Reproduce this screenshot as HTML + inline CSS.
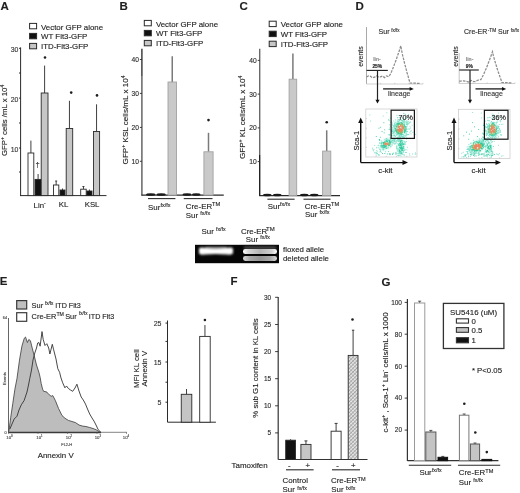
<!DOCTYPE html>
<html><head><meta charset="utf-8"><style>
html,body{margin:0;padding:0;background:#fff;overflow:hidden;}
svg{display:block;font-family:"Liberation Sans", sans-serif;filter:blur(0.3px);}
text{stroke-width:0.22px;stroke-opacity:0.55;}
</style></head><body>
<svg width="520" height="493" viewBox="0 0 520 493">
<rect width="520" height="493" fill="#fff"/>
<text x="0.5" y="10.3" font-size="11.5" text-anchor="start" font-weight="bold" fill="#1e1e1e" stroke="#1e1e1e" >A</text>
<rect x="29.6" y="23.4" width="7" height="5.4" fill="#fff" stroke="#2a2a2a" stroke-width="1" />
<rect x="29.6" y="33.4" width="7" height="5.4" fill="#111" stroke="#2a2a2a" stroke-width="1" />
<rect x="29.6" y="43.4" width="7" height="5.4" fill="#c6c6c6" stroke="#2a2a2a" stroke-width="1" />
<text x="41.0" y="29.9" font-size="7.9" text-anchor="start" font-weight="normal" fill="#1e1e1e" stroke="#1e1e1e" >Vector GFP alone</text>
<text x="41.0" y="39.3" font-size="7.9" text-anchor="start" font-weight="normal" fill="#1e1e1e" stroke="#1e1e1e" >WT Flt3-GFP</text>
<text x="41.0" y="48.7" font-size="7.9" text-anchor="start" font-weight="normal" fill="#1e1e1e" stroke="#1e1e1e" >ITD-Flt3-GFP</text>
<line x1="20.6" y1="47.4" x2="20.6" y2="196" stroke="#2a2a2a" stroke-width="1" />
<line x1="19" y1="48.3" x2="20.6" y2="48.3" stroke="#2a2a2a" stroke-width="1" />
<text x="18.3" y="52.0" font-size="6.9" text-anchor="end" font-weight="normal" fill="#333" stroke="#333" >30</text>
<line x1="19" y1="98.1" x2="20.6" y2="98.1" stroke="#2a2a2a" stroke-width="1" />
<text x="18.3" y="101.8" font-size="6.9" text-anchor="end" font-weight="normal" fill="#333" stroke="#333" >20</text>
<line x1="19" y1="148" x2="20.6" y2="148" stroke="#2a2a2a" stroke-width="1" />
<text x="18.3" y="151.7" font-size="6.9" text-anchor="end" font-weight="normal" fill="#333" stroke="#333" >10</text>
<line x1="19" y1="73" x2="20.6" y2="73" stroke="#2a2a2a" stroke-width="1" />
<line x1="19" y1="123" x2="20.6" y2="123" stroke="#2a2a2a" stroke-width="1" />
<line x1="19" y1="172" x2="20.6" y2="172" stroke="#2a2a2a" stroke-width="1" />
<line x1="20" y1="195.6" x2="106.5" y2="195.6" stroke="#2a2a2a" stroke-width="1" />
<line x1="30.9" y1="140.6" x2="30.9" y2="153" stroke="#2a2a2a" stroke-width="0.9" />
<rect x="28" y="153" width="5.799999999999997" height="42.599999999999994" fill="#fff" stroke="#2a2a2a" stroke-width="0.9" />
<line x1="38.1" y1="174" x2="38.1" y2="179.4" stroke="#2a2a2a" stroke-width="0.9" />
<rect x="35" y="179.4" width="6.200000000000003" height="16.19999999999999" fill="#111" stroke="#2a2a2a" stroke-width="0.9" />
<line x1="44.6" y1="65.6" x2="44.6" y2="93" stroke="#2a2a2a" stroke-width="0.9" />
<rect x="41.2" y="93" width="6.799999999999997" height="102.6" fill="#c6c6c6" stroke="#2a2a2a" stroke-width="0.9" />
<circle cx="45" cy="57.5" r="1.3" fill="#1e1e1e"/>
<text x="37.6" y="166.5" font-size="7.5" text-anchor="middle" font-weight="normal" fill="#1e1e1e" stroke="#1e1e1e" >†</text>
<line x1="56.15" y1="181" x2="56.15" y2="185" stroke="#2a2a2a" stroke-width="0.9" />
<line x1="55.15" y1="181" x2="57.15" y2="181" stroke="#2a2a2a" stroke-width="0.9" />
<rect x="53.5" y="185" width="5.299999999999997" height="10.599999999999994" fill="#fff" stroke="#2a2a2a" stroke-width="0.9" />
<line x1="62.5" y1="188.5" x2="62.5" y2="190" stroke="#2a2a2a" stroke-width="0.9" />
<rect x="60" y="190" width="5" height="5.599999999999994" fill="#111" stroke="#2a2a2a" stroke-width="0.9" />
<line x1="69.45" y1="100.8" x2="69.45" y2="128.5" stroke="#2a2a2a" stroke-width="0.9" />
<rect x="66.2" y="128.5" width="6.5" height="67.1" fill="#c6c6c6" stroke="#2a2a2a" stroke-width="0.9" />
<circle cx="71.2" cy="92.6" r="1.3" fill="#1e1e1e"/>
<line x1="83.45" y1="186.5" x2="83.45" y2="189.2" stroke="#2a2a2a" stroke-width="0.9" />
<line x1="82.45" y1="186.5" x2="84.45" y2="186.5" stroke="#2a2a2a" stroke-width="0.9" />
<rect x="80.7" y="189.2" width="5.5" height="6.400000000000006" fill="#fff" stroke="#2a2a2a" stroke-width="0.9" />
<line x1="89.4" y1="189.5" x2="89.4" y2="191" stroke="#2a2a2a" stroke-width="0.9" />
<rect x="86.8" y="191" width="5.200000000000003" height="4.599999999999994" fill="#111" stroke="#2a2a2a" stroke-width="0.9" />
<line x1="96.55" y1="104.3" x2="96.55" y2="131.5" stroke="#2a2a2a" stroke-width="0.9" />
<rect x="93.5" y="131.5" width="6.099999999999994" height="64.1" fill="#c6c6c6" stroke="#2a2a2a" stroke-width="0.9" />
<circle cx="97" cy="95.4" r="1.3" fill="#1e1e1e"/>
<text x="33.6" y="207.6" font-size="7.8" text-anchor="start" font-weight="normal" fill="#1e1e1e" stroke="#1e1e1e" >Lin<tspan font-size="5" baseline-shift="3">-</tspan></text>
<text x="58.8" y="207.4" font-size="7.8" text-anchor="start" font-weight="normal" fill="#1e1e1e" stroke="#1e1e1e" >KL</text>
<text x="84.7" y="207.4" font-size="7.8" text-anchor="start" font-weight="normal" fill="#1e1e1e" stroke="#1e1e1e" >KSL</text>
<text x="7.2" y="120.4" font-size="7.8" text-anchor="middle" fill="#1e1e1e" stroke="#1e1e1e" transform="rotate(-90 7.2 120.4)">GFP<tspan font-size="5" baseline-shift="3">+</tspan> cells /mL x 10<tspan font-size="5" baseline-shift="3">4</tspan></text>
<text x="119.5" y="10.3" font-size="11.5" text-anchor="start" font-weight="bold" fill="#1e1e1e" stroke="#1e1e1e" >B</text>
<rect x="144.3" y="20.4" width="7" height="5.4" fill="#fff" stroke="#2a2a2a" stroke-width="1" />
<rect x="144.3" y="30.4" width="7" height="5.4" fill="#111" stroke="#2a2a2a" stroke-width="1" />
<rect x="144.3" y="40.4" width="7" height="5.4" fill="#c6c6c6" stroke="#2a2a2a" stroke-width="1" />
<text x="155.9" y="26.8" font-size="7.9" text-anchor="start" font-weight="normal" fill="#1e1e1e" stroke="#1e1e1e" >Vector GFP alone</text>
<text x="155.9" y="36.4" font-size="7.9" text-anchor="start" font-weight="normal" fill="#1e1e1e" stroke="#1e1e1e" >WT Flt3-GFP</text>
<text x="155.9" y="46.0" font-size="7.9" text-anchor="start" font-weight="normal" fill="#1e1e1e" stroke="#1e1e1e" >ITD-Flt3-GFP</text>
<line x1="141.9" y1="48.8" x2="141.9" y2="76" stroke="#333" stroke-width="1.4" />
<line x1="141.9" y1="76" x2="141.9" y2="195.6" stroke="#5a5a5a" stroke-width="1.4" />
<line x1="139.9" y1="59.5" x2="141.9" y2="59.5" stroke="#2a2a2a" stroke-width="0.9" />
<text x="138.9" y="61.9" font-size="6.7" text-anchor="end" font-weight="normal" fill="#2a2a2a" stroke="#2a2a2a" >40</text>
<line x1="139.9" y1="93.4" x2="141.9" y2="93.4" stroke="#2a2a2a" stroke-width="0.9" />
<text x="138.9" y="95.80000000000001" font-size="6.7" text-anchor="end" font-weight="normal" fill="#2a2a2a" stroke="#2a2a2a" >30</text>
<line x1="139.9" y1="127.4" x2="141.9" y2="127.4" stroke="#2a2a2a" stroke-width="0.9" />
<text x="138.9" y="129.8" font-size="6.7" text-anchor="end" font-weight="normal" fill="#2a2a2a" stroke="#2a2a2a" >20</text>
<line x1="139.9" y1="161.3" x2="141.9" y2="161.3" stroke="#2a2a2a" stroke-width="0.9" />
<text x="138.9" y="163.70000000000002" font-size="6.7" text-anchor="end" font-weight="normal" fill="#2a2a2a" stroke="#2a2a2a" >10</text>
<line x1="141.4" y1="195.1" x2="223.75" y2="195.1" stroke="#2a2a2a" stroke-width="1.2" />
<line x1="172.25" y1="56.25" x2="172.25" y2="82" stroke="#7a7a7a" stroke-width="1.5" />
<rect x="168" y="82" width="8.5" height="113.1" fill="#c9c9c9" stroke="#a2a2a2" stroke-width="0.9" />
<line x1="208.5" y1="132.8" x2="208.5" y2="151.8" stroke="#7a7a7a" stroke-width="1.5" />
<rect x="203.9" y="151.8" width="9.199999999999989" height="43.29999999999998" fill="#c9c9c9" stroke="#a2a2a2" stroke-width="0.9" />
<circle cx="208.5" cy="120.1" r="1.3" fill="#1e1e1e"/>
<ellipse cx="150.7" cy="194.5" rx="4.700000000000003" ry="1.3" fill="#1a1a1a"/>
<ellipse cx="161.15" cy="194.5" rx="4.650000000000006" ry="1.3" fill="#1a1a1a"/>
<ellipse cx="187.0" cy="194.5" rx="4.5" ry="1.3" fill="#1a1a1a"/>
<ellipse cx="196.25" cy="194.5" rx="4.25" ry="1.3" fill="#1a1a1a"/>
<line x1="148" y1="198.6" x2="175.4" y2="198.6" stroke="#2a2a2a" stroke-width="1.1" />
<line x1="183.75" y1="198.6" x2="212.5" y2="198.6" stroke="#2a2a2a" stroke-width="1.1" />
<text x="148.1" y="209.5" font-size="7.9" text-anchor="start" font-weight="normal" fill="#1e1e1e" stroke="#1e1e1e" >Sur<tspan font-size="5.5" baseline-shift="3.4">fx/fx</tspan></text>
<text x="185.8" y="209" font-size="7.9" text-anchor="start" font-weight="normal" fill="#1e1e1e" stroke="#1e1e1e" >Cre-ER<tspan font-size="5.7" baseline-shift="3">TM</tspan></text>
<text x="185.8" y="217.7" font-size="7.9" text-anchor="start" font-weight="normal" fill="#1e1e1e" stroke="#1e1e1e" >Sur <tspan font-size="5.5" baseline-shift="3.4">fx/fx</tspan></text>
<text x="128.1" y="119.9" font-size="8.1" text-anchor="middle" fill="#1e1e1e" stroke="#1e1e1e" transform="rotate(-90 128.1 119.9)">GFP<tspan font-size="5.2" baseline-shift="3">+</tspan> KSL cells/mL x 10<tspan font-size="5.2" baseline-shift="3">4</tspan></text>
<text x="239.5" y="10.3" font-size="11.5" text-anchor="start" font-weight="bold" fill="#1e1e1e" stroke="#1e1e1e" >C</text>
<rect x="269.2" y="21.2" width="7" height="5.4" fill="#fff" stroke="#2a2a2a" stroke-width="1" />
<rect x="269.2" y="31.2" width="7" height="5.4" fill="#111" stroke="#2a2a2a" stroke-width="1" />
<rect x="269.2" y="41.2" width="7" height="5.4" fill="#c6c6c6" stroke="#2a2a2a" stroke-width="1" />
<text x="280.8" y="27.3" font-size="7.9" text-anchor="start" font-weight="normal" fill="#1e1e1e" stroke="#1e1e1e" >Vector GFP alone</text>
<text x="280.8" y="36.9" font-size="7.9" text-anchor="start" font-weight="normal" fill="#1e1e1e" stroke="#1e1e1e" >WT Flt3-GFP</text>
<text x="280.8" y="46.5" font-size="7.9" text-anchor="start" font-weight="normal" fill="#1e1e1e" stroke="#1e1e1e" >ITD-Flt3-GFP</text>
<line x1="259.7" y1="48.8" x2="259.7" y2="155" stroke="#6a6a6a" stroke-width="1.4" />
<line x1="259.7" y1="155" x2="259.7" y2="196.1" stroke="#222" stroke-width="1.4" />
<line x1="257.7" y1="60.4" x2="259.7" y2="60.4" stroke="#2a2a2a" stroke-width="0.9" />
<text x="256.7" y="62.8" font-size="6.7" text-anchor="end" font-weight="normal" fill="#2a2a2a" stroke="#2a2a2a" >40</text>
<line x1="257.7" y1="94.1" x2="259.7" y2="94.1" stroke="#2a2a2a" stroke-width="0.9" />
<text x="256.7" y="96.5" font-size="6.7" text-anchor="end" font-weight="normal" fill="#2a2a2a" stroke="#2a2a2a" >30</text>
<line x1="257.7" y1="127.9" x2="259.7" y2="127.9" stroke="#2a2a2a" stroke-width="0.9" />
<text x="256.7" y="130.3" font-size="6.7" text-anchor="end" font-weight="normal" fill="#2a2a2a" stroke="#2a2a2a" >20</text>
<line x1="257.7" y1="161.6" x2="259.7" y2="161.6" stroke="#2a2a2a" stroke-width="0.9" />
<text x="256.7" y="164.0" font-size="6.7" text-anchor="end" font-weight="normal" fill="#2a2a2a" stroke="#2a2a2a" >10</text>
<line x1="259.2" y1="195.6" x2="340" y2="195.6" stroke="#2a2a2a" stroke-width="1.2" />
<line x1="292.9" y1="53.4" x2="292.9" y2="79.2" stroke="#7a7a7a" stroke-width="1.5" />
<rect x="289.1" y="79.2" width="7.599999999999966" height="116.39999999999999" fill="#c9c9c9" stroke="#a2a2a2" stroke-width="0.9" />
<line x1="326.70000000000005" y1="130.3" x2="326.70000000000005" y2="151.1" stroke="#7a7a7a" stroke-width="1.5" />
<rect x="322.6" y="151.1" width="8.199999999999989" height="44.5" fill="#c9c9c9" stroke="#a2a2a2" stroke-width="0.9" />
<circle cx="326.70000000000005" cy="122.2" r="1.3" fill="#1e1e1e"/>
<ellipse cx="267.25" cy="195.0" rx="4.25" ry="1.3" fill="#1a1a1a"/>
<ellipse cx="277.25" cy="195.0" rx="4.25" ry="1.3" fill="#1a1a1a"/>
<ellipse cx="304.25" cy="195.0" rx="4.25" ry="1.3" fill="#1a1a1a"/>
<ellipse cx="314.25" cy="195.0" rx="4.25" ry="1.3" fill="#1a1a1a"/>
<line x1="267.4" y1="199.2" x2="294.6" y2="199.2" stroke="#2a2a2a" stroke-width="1.1" />
<line x1="303.5" y1="199.2" x2="330.5" y2="199.2" stroke="#2a2a2a" stroke-width="1.1" />
<text x="267.8" y="209.1" font-size="7.9" text-anchor="start" font-weight="normal" fill="#1e1e1e" stroke="#1e1e1e" >Sur<tspan font-size="5.5" baseline-shift="3.4">fx/fx</tspan></text>
<text x="304.8" y="208.5" font-size="7.9" text-anchor="start" font-weight="normal" fill="#1e1e1e" stroke="#1e1e1e" >Cre-ER<tspan font-size="5.7" baseline-shift="3">TM</tspan></text>
<text x="305" y="217.2" font-size="7.9" text-anchor="start" font-weight="normal" fill="#1e1e1e" stroke="#1e1e1e" >Sur <tspan font-size="5.5" baseline-shift="3.4">fx/fx</tspan></text>
<text x="244.8" y="117.3" font-size="8.1" text-anchor="middle" fill="#1e1e1e" stroke="#1e1e1e" transform="rotate(-90 244.8 117.3)">GFP<tspan font-size="5.2" baseline-shift="3">+</tspan> KL cells/mL x 10<tspan font-size="5.2" baseline-shift="3">4</tspan></text>
<text x="201.5" y="233.7" font-size="7.9" text-anchor="start" font-weight="normal" fill="#1e1e1e" stroke="#1e1e1e" >Sur</text>
<text x="216" y="230.6" font-size="5.3" text-anchor="start" font-weight="normal" fill="#1e1e1e" stroke="#1e1e1e" >fx/fx</text>
<text x="241" y="233.7" font-size="7.9" text-anchor="start" font-weight="normal" fill="#1e1e1e" stroke="#1e1e1e" >Cre-ER</text>
<text x="266" y="231" font-size="6" text-anchor="start" font-weight="normal" fill="#1e1e1e" stroke="#1e1e1e" >TM</text>
<text x="245.8" y="242.3" font-size="7.9" text-anchor="start" font-weight="normal" fill="#1e1e1e" stroke="#1e1e1e" >Sur</text>
<text x="260.3" y="239.2" font-size="5.3" text-anchor="start" font-weight="normal" fill="#1e1e1e" stroke="#1e1e1e" >fx/fx</text>
<defs><filter id="bl" x="-20%" y="-50%" width="140%" height="200%"><feGaussianBlur stdDeviation="0.9"/></filter><filter id="bl2" x="-20%" y="-50%" width="140%" height="200%"><feGaussianBlur stdDeviation="0.6"/></filter></defs>
<rect x="195" y="244.8" width="84" height="18.4" fill="#060606" stroke="none" stroke-width="1" />
<defs><linearGradient id="g2" x1="0" x2="1" y1="0" y2="0"><stop offset="0" stop-color="#ffffff"/><stop offset="0.15" stop-color="#d8d8d8"/><stop offset="0.5" stop-color="#b4b4b4"/><stop offset="0.85" stop-color="#d0d0d0"/><stop offset="1" stop-color="#ffffff"/></linearGradient><linearGradient id="g3" x1="0" x2="1" y1="0" y2="0"><stop offset="0" stop-color="#d8d8d8"/><stop offset="0.2" stop-color="#a8a8a8"/><stop offset="0.5" stop-color="#949494"/><stop offset="0.8" stop-color="#a8a8a8"/><stop offset="1" stop-color="#d8d8d8"/></linearGradient></defs>
<rect x="205" y="246.8" width="22" height="3" rx="1.5" fill="#777" filter="url(#bl)"/>
<path d="M199,248.3 Q201,247 204,247.8 Q215,249 228,247.8 Q231.5,247 233,248.4 L233,253.6 Q231,255.2 228,254.5 Q215,253.4 204,254.5 Q200.5,255.2 199,253.6 Z" fill="#ffffff" filter="url(#bl)"/>
<rect x="243.5" y="246.3" width="33" height="3" rx="1.5" fill="#444" filter="url(#bl)"/>
<rect x="243" y="248.9" width="34" height="5.1" rx="2.3" fill="url(#g2)" filter="url(#bl2)"/>
<rect x="243" y="256" width="34" height="4.9" rx="2.3" fill="url(#g3)" filter="url(#bl2)"/>
<text x="283" y="252.2" font-size="7.8" text-anchor="start" font-weight="normal" fill="#1e1e1e" stroke="#1e1e1e" >floxed allele</text>
<text x="283" y="260.8" font-size="7.8" text-anchor="start" font-weight="normal" fill="#1e1e1e" stroke="#1e1e1e" >deleted allele</text>
<text x="355.6" y="9.5" font-size="11.5" text-anchor="start" font-weight="bold" fill="#1e1e1e" stroke="#1e1e1e" >D</text>
<line x1="366.5" y1="27" x2="366.5" y2="84" stroke="#a0a0a0" stroke-width="0.9" />
<line x1="366.5" y1="84" x2="423" y2="84" stroke="#c4c4c4" stroke-width="0.8" />
<line x1="366.5" y1="84" x2="366.5" y2="82.8" stroke="#b8b8b8" stroke-width="0.6" />
<line x1="380.625" y1="84" x2="380.625" y2="82.8" stroke="#b8b8b8" stroke-width="0.6" />
<line x1="394.75" y1="84" x2="394.75" y2="82.8" stroke="#b8b8b8" stroke-width="0.6" />
<line x1="408.875" y1="84" x2="408.875" y2="82.8" stroke="#b8b8b8" stroke-width="0.6" />
<line x1="423.0" y1="84" x2="423.0" y2="82.8" stroke="#b8b8b8" stroke-width="0.6" />
<path d="M366.5,77.0 L368.5,75.9 L370.5,76.3 L372.5,77.8 L374.5,77.2 L376.5,75.9 L378.5,76.8 L380.5,76.9 L382.5,76.1 L384.5,77.6 L386.5,76.0 L388.5,76.7 L389.5,75.6 L390.6,73.7 L391.6,71.5 L392.6,69.1 L393.6,66.6 L394.6,63.9 L395.7,61.1 L396.7,58.2 L397.7,55.2 L398.8,52.2 L399.8,49.0 L400.8,45.8 L401.6,50.3 L402.3,53.9 L403.1,57.2 L403.9,60.4 L404.6,63.5 L405.4,66.4 L406.2,69.3 L406.9,72.2 L407.7,74.9 L408.5,77.7 L409.2,80.3 L410.0,83.0 L420.0,83.4" fill="none" stroke="#8c8c8c" stroke-width="1.25" stroke-dasharray="2.6,1.1"/>
<line x1="366.5" y1="70.4" x2="387.8" y2="70.4" stroke="#1a1a1a" stroke-width="1.1" />
<line x1="377.5" y1="70.4" x2="377.5" y2="100.5" stroke="#222" stroke-width="1.2" />
<path d="M375.4,99.8 L379.6,99.8 L377.5,103.6 Z" fill="#111"/>
<text x="373.2" y="61.2" font-size="5.0" text-anchor="start" font-weight="bold" fill="#8a8a8a" stroke="#8a8a8a" >lin-</text>
<text x="372.4" y="68.1" font-size="4.9" text-anchor="start" font-weight="bold" fill="#1a1a1a" stroke="#1a1a1a" >25%</text>
<text x="363.3" y="56.5" font-size="7.0" text-anchor="middle" fill="#2a2a2a" stroke="#2a2a2a" transform="rotate(-90 363.3 56.5)">events</text>
<line x1="383.1" y1="88.9" x2="410.1" y2="88.9" stroke="#1a1a1a" stroke-width="1.3" />
<path d="M409.6,87 L413.8,88.9 L409.6,90.8 Z" fill="#111"/>
<text x="387.90000000000003" y="95.8" font-size="7.0" text-anchor="start" font-weight="normal" fill="#3a3a3a" stroke="#3a3a3a" >lineage</text>
<line x1="459.2" y1="53" x2="459.2" y2="83.5" stroke="#c0c0c0" stroke-width="0.9" />
<line x1="459.2" y1="83.5" x2="515" y2="83.5" stroke="#c4c4c4" stroke-width="0.8" />
<line x1="459.2" y1="83.5" x2="459.2" y2="82.3" stroke="#b8b8b8" stroke-width="0.6" />
<line x1="473.15" y1="83.5" x2="473.15" y2="82.3" stroke="#b8b8b8" stroke-width="0.6" />
<line x1="487.1" y1="83.5" x2="487.1" y2="82.3" stroke="#b8b8b8" stroke-width="0.6" />
<line x1="501.05" y1="83.5" x2="501.05" y2="82.3" stroke="#b8b8b8" stroke-width="0.6" />
<line x1="515.0" y1="83.5" x2="515.0" y2="82.3" stroke="#b8b8b8" stroke-width="0.6" />
<path d="M459.2,81.0 L461.2,81.0 L463.2,80.8 L465.2,81.2 L467.2,81.6 L469.2,82.2 L471.2,80.4 L473.2,81.4 L475.2,81.5 L477.2,80.5 L479.2,79.7 L480.8,79.7 L481.8,77.9 L482.9,75.8 L484.0,73.6 L485.0,71.2 L486.1,68.7 L487.2,66.1 L488.2,63.3 L489.3,60.5 L490.4,57.7 L491.4,54.7 L492.5,51.7 L493.3,55.4 L494.1,58.4 L494.9,61.2 L495.7,63.8 L496.5,66.3 L497.2,68.8 L498.0,71.2 L498.8,73.5 L499.6,75.8 L500.4,78.1 L501.2,80.3 L502.0,82.5 L512.0,82.9" fill="none" stroke="#8c8c8c" stroke-width="1.25" stroke-dasharray="2.6,1.1"/>
<line x1="459.2" y1="70" x2="478.8" y2="70" stroke="#1a1a1a" stroke-width="1.1" />
<line x1="470" y1="70" x2="470" y2="100.5" stroke="#222" stroke-width="1.2" />
<path d="M467.9,99.8 L472.1,99.8 L470,103.6 Z" fill="#111"/>
<text x="465.8" y="61.2" font-size="5.0" text-anchor="start" font-weight="bold" fill="#8a8a8a" stroke="#8a8a8a" >lin-</text>
<text x="465.8" y="68.1" font-size="4.9" text-anchor="start" font-weight="bold" fill="#1a1a1a" stroke="#1a1a1a" >9%</text>
<text x="457.5" y="56.5" font-size="7.0" text-anchor="middle" fill="#2a2a2a" stroke="#2a2a2a" transform="rotate(-90 457.5 56.5)">events</text>
<line x1="475.5" y1="88.9" x2="502.5" y2="88.9" stroke="#1a1a1a" stroke-width="1.3" />
<path d="M502.0,87 L506.2,88.9 L502.0,90.8 Z" fill="#111"/>
<text x="480.3" y="95.8" font-size="7.0" text-anchor="start" font-weight="normal" fill="#3a3a3a" stroke="#3a3a3a" >lineage</text>
<text x="378.5" y="33.9" font-size="7.1" text-anchor="start" font-weight="normal" fill="#2a2a2a" stroke="#2a2a2a" >Sur</text>
<text x="391.2" y="31.6" font-size="4.6" text-anchor="start" font-weight="normal" fill="#2a2a2a" stroke="#2a2a2a" >fx/fx</text>
<text x="464" y="34.1" font-size="7.0" text-anchor="start" font-weight="normal" fill="#2a2a2a" stroke="#2a2a2a" >Cre-ER</text>
<text x="487.7" y="31.8" font-size="4.8" text-anchor="start" font-weight="normal" fill="#2a2a2a" stroke="#2a2a2a" >-TM</text>
<text x="498" y="34.1" font-size="7.0" text-anchor="start" font-weight="normal" fill="#2a2a2a" stroke="#2a2a2a" >Sur</text>
<text x="510.7" y="31.6" font-size="4.6" text-anchor="start" font-weight="normal" fill="#2a2a2a" stroke="#2a2a2a" >fx/fx</text>
<rect x="365.8" y="109" width="51.19999999999999" height="48" fill="#fff" stroke="#cfcfcf" stroke-width="0.8" />
<line x1="376.04" y1="157" x2="376.04" y2="155.8" stroke="#bbb" stroke-width="0.6" />
<line x1="365.8" y1="147.4" x2="367.0" y2="147.4" stroke="#bbb" stroke-width="0.6" />
<line x1="386.28000000000003" y1="157" x2="386.28000000000003" y2="155.8" stroke="#bbb" stroke-width="0.6" />
<line x1="365.8" y1="137.8" x2="367.0" y2="137.8" stroke="#bbb" stroke-width="0.6" />
<line x1="396.52" y1="157" x2="396.52" y2="155.8" stroke="#bbb" stroke-width="0.6" />
<line x1="365.8" y1="128.2" x2="367.0" y2="128.2" stroke="#bbb" stroke-width="0.6" />
<line x1="406.76" y1="157" x2="406.76" y2="155.8" stroke="#bbb" stroke-width="0.6" />
<line x1="365.8" y1="118.6" x2="367.0" y2="118.6" stroke="#bbb" stroke-width="0.6" />
<ellipse cx="400.5" cy="128.5" rx="6.3" ry="7.699999999999999" fill="#8fe4cc" opacity="0.4" filter="url(#bl)" transform="rotate(0 400.5 128.5)"/>
<ellipse cx="386.5" cy="144" rx="7.699999999999999" ry="5.04" fill="#8fe4cc" opacity="0.4" filter="url(#bl)" transform="rotate(-45 386.5 144)"/>
<ellipse cx="401" cy="146.5" rx="3.5" ry="7.699999999999999" fill="#8fe4cc" opacity="0.4" filter="url(#bl)" transform="rotate(0 401 146.5)"/>
<rect x="405.9" y="129.6" width="0.9" height="0.9" fill="#78dcc6"/>
<rect x="396.3" y="134.2" width="0.9" height="0.9" fill="#78dcc6"/>
<rect x="391.1" y="130.2" width="0.9" height="0.9" fill="#78dcc6"/>
<rect x="397.7" y="136.4" width="0.9" height="0.9" fill="#78dcc6"/>
<rect x="398.1" y="132.3" width="0.9" height="0.9" fill="#2cc89c"/>
<rect x="394.6" y="121.8" width="0.9" height="0.9" fill="#78dcc6"/>
<rect x="399.0" y="116.8" width="0.9" height="0.9" fill="#78dcc6"/>
<rect x="395.5" y="124.3" width="0.9" height="0.9" fill="#78dcc6"/>
<rect x="402.1" y="120.0" width="0.9" height="0.9" fill="#78dcc6"/>
<rect x="397.9" y="132.7" width="0.9" height="0.9" fill="#2cc89c"/>
<rect x="402.7" y="124.4" width="0.9" height="0.9" fill="#2cc89c"/>
<rect x="403.9" y="132.0" width="0.9" height="0.9" fill="#2cc89c"/>
<rect x="393.1" y="132.7" width="0.9" height="0.9" fill="#78dcc6"/>
<rect x="397.3" y="123.6" width="0.9" height="0.9" fill="#2cc89c"/>
<rect x="402.8" y="118.8" width="0.9" height="0.9" fill="#78dcc6"/>
<rect x="396.2" y="130.2" width="0.9" height="0.9" fill="#2cc89c"/>
<rect x="401.8" y="136.4" width="0.9" height="0.9" fill="#78dcc6"/>
<rect x="393.1" y="131.9" width="0.9" height="0.9" fill="#78dcc6"/>
<rect x="403.8" y="118.8" width="0.9" height="0.9" fill="#78dcc6"/>
<rect x="395.8" y="129.0" width="0.9" height="0.9" fill="#2cc89c"/>
<rect x="401.3" y="134.5" width="0.9" height="0.9" fill="#78dcc6"/>
<rect x="406.2" y="136.7" width="0.9" height="0.9" fill="#78dcc6"/>
<rect x="405.9" y="120.4" width="0.9" height="0.9" fill="#78dcc6"/>
<rect x="406.8" y="123.9" width="0.9" height="0.9" fill="#78dcc6"/>
<rect x="404.1" y="121.8" width="0.9" height="0.9" fill="#78dcc6"/>
<rect x="391.5" y="133.5" width="0.9" height="0.9" fill="#78dcc6"/>
<rect x="394.8" y="125.1" width="0.9" height="0.9" fill="#78dcc6"/>
<rect x="406.3" y="130.9" width="0.9" height="0.9" fill="#78dcc6"/>
<rect x="389.8" y="137.2" width="0.9" height="0.9" fill="#78dcc6"/>
<rect x="403.8" y="125.7" width="0.9" height="0.9" fill="#2cc89c"/>
<rect x="399.9" y="137.0" width="0.9" height="0.9" fill="#78dcc6"/>
<rect x="394.8" y="125.6" width="0.9" height="0.9" fill="#78dcc6"/>
<rect x="405.9" y="126.6" width="0.9" height="0.9" fill="#78dcc6"/>
<rect x="394.1" y="125.6" width="0.9" height="0.9" fill="#78dcc6"/>
<rect x="400.7" y="135.8" width="0.9" height="0.9" fill="#78dcc6"/>
<rect x="397.7" y="139.5" width="0.9" height="0.9" fill="#78dcc6"/>
<rect x="394.4" y="124.1" width="0.9" height="0.9" fill="#78dcc6"/>
<rect x="409.5" y="137.8" width="0.9" height="0.9" fill="#78dcc6"/>
<rect x="398.3" y="123.0" width="0.9" height="0.9" fill="#2cc89c"/>
<rect x="395.7" y="130.4" width="0.9" height="0.9" fill="#2cc89c"/>
<rect x="404.5" y="130.2" width="0.9" height="0.9" fill="#2cc89c"/>
<rect x="404.0" y="129.1" width="0.9" height="0.9" fill="#2cc89c"/>
<rect x="396.5" y="115.0" width="0.9" height="0.9" fill="#78dcc6"/>
<rect x="396.5" y="131.8" width="0.9" height="0.9" fill="#2cc89c"/>
<rect x="401.9" y="136.0" width="0.9" height="0.9" fill="#78dcc6"/>
<rect x="398.3" y="133.4" width="0.9" height="0.9" fill="#2cc89c"/>
<rect x="397.8" y="123.5" width="0.9" height="0.9" fill="#2cc89c"/>
<rect x="395.8" y="124.3" width="0.9" height="0.9" fill="#2cc89c"/>
<rect x="402.2" y="117.6" width="0.9" height="0.9" fill="#78dcc6"/>
<rect x="404.4" y="130.4" width="0.9" height="0.9" fill="#2cc89c"/>
<rect x="396.5" y="130.5" width="0.9" height="0.9" fill="#2cc89c"/>
<rect x="409.6" y="126.2" width="0.9" height="0.9" fill="#78dcc6"/>
<rect x="407.0" y="134.0" width="0.9" height="0.9" fill="#78dcc6"/>
<rect x="393.8" y="138.7" width="0.9" height="0.9" fill="#78dcc6"/>
<rect x="401.2" y="119.8" width="0.9" height="0.9" fill="#78dcc6"/>
<rect x="405.6" y="121.8" width="0.9" height="0.9" fill="#78dcc6"/>
<rect x="397.8" y="123.2" width="0.9" height="0.9" fill="#2cc89c"/>
<rect x="397.8" y="121.4" width="0.9" height="0.9" fill="#78dcc6"/>
<rect x="398.6" y="135.2" width="0.9" height="0.9" fill="#78dcc6"/>
<rect x="401.6" y="121.7" width="0.9" height="0.9" fill="#78dcc6"/>
<rect x="409.7" y="121.4" width="0.9" height="0.9" fill="#78dcc6"/>
<rect x="404.0" y="120.3" width="0.9" height="0.9" fill="#78dcc6"/>
<rect x="393.1" y="129.5" width="0.9" height="0.9" fill="#78dcc6"/>
<rect x="404.0" y="130.7" width="0.9" height="0.9" fill="#2cc89c"/>
<rect x="399.5" y="133.3" width="0.9" height="0.9" fill="#2cc89c"/>
<rect x="395.2" y="130.5" width="0.9" height="0.9" fill="#2cc89c"/>
<rect x="396.9" y="131.8" width="0.9" height="0.9" fill="#2cc89c"/>
<rect x="403.0" y="122.5" width="0.9" height="0.9" fill="#78dcc6"/>
<rect x="402.1" y="138.2" width="0.9" height="0.9" fill="#78dcc6"/>
<rect x="403.7" y="126.0" width="0.9" height="0.9" fill="#2cc89c"/>
<rect x="389.9" y="126.2" width="0.9" height="0.9" fill="#78dcc6"/>
<rect x="395.4" y="128.0" width="0.9" height="0.9" fill="#2cc89c"/>
<rect x="394.6" y="122.8" width="0.9" height="0.9" fill="#78dcc6"/>
<rect x="397.9" y="118.9" width="0.9" height="0.9" fill="#78dcc6"/>
<rect x="406.2" y="134.2" width="0.9" height="0.9" fill="#78dcc6"/>
<rect x="404.8" y="129.0" width="0.9" height="0.9" fill="#2cc89c"/>
<rect x="392.1" y="124.7" width="0.9" height="0.9" fill="#78dcc6"/>
<rect x="395.6" y="130.3" width="0.9" height="0.9" fill="#2cc89c"/>
<rect x="401.0" y="119.8" width="0.9" height="0.9" fill="#78dcc6"/>
<rect x="406.3" y="135.1" width="0.9" height="0.9" fill="#78dcc6"/>
<rect x="401.9" y="133.9" width="0.9" height="0.9" fill="#2cc89c"/>
<rect x="397.0" y="133.3" width="0.9" height="0.9" fill="#2cc89c"/>
<rect x="407.9" y="134.1" width="0.9" height="0.9" fill="#78dcc6"/>
<rect x="396.4" y="131.8" width="0.9" height="0.9" fill="#2cc89c"/>
<rect x="404.7" y="132.6" width="0.9" height="0.9" fill="#78dcc6"/>
<rect x="392.7" y="135.1" width="0.9" height="0.9" fill="#78dcc6"/>
<rect x="406.8" y="122.8" width="0.9" height="0.9" fill="#78dcc6"/>
<rect x="394.6" y="128.8" width="0.9" height="0.9" fill="#78dcc6"/>
<rect x="399.5" y="117.1" width="0.9" height="0.9" fill="#78dcc6"/>
<rect x="399.2" y="134.6" width="0.9" height="0.9" fill="#78dcc6"/>
<rect x="398.3" y="121.6" width="0.9" height="0.9" fill="#78dcc6"/>
<rect x="399.6" y="136.7" width="0.9" height="0.9" fill="#78dcc6"/>
<rect x="407.8" y="120.9" width="0.9" height="0.9" fill="#78dcc6"/>
<rect x="393.9" y="123.7" width="0.9" height="0.9" fill="#78dcc6"/>
<rect x="394.9" y="127.7" width="0.9" height="0.9" fill="#2cc89c"/>
<rect x="415.2" y="133.9" width="0.9" height="0.9" fill="#78dcc6"/>
<rect x="403.1" y="121.5" width="0.9" height="0.9" fill="#78dcc6"/>
<rect x="397.4" y="117.1" width="0.9" height="0.9" fill="#78dcc6"/>
<rect x="394.9" y="136.2" width="0.9" height="0.9" fill="#78dcc6"/>
<rect x="412.4" y="131.9" width="0.9" height="0.9" fill="#78dcc6"/>
<rect x="397.1" y="123.0" width="0.9" height="0.9" fill="#2cc89c"/>
<rect x="402.2" y="143.6" width="0.9" height="0.9" fill="#78dcc6"/>
<rect x="403.0" y="112.9" width="0.9" height="0.9" fill="#78dcc6"/>
<rect x="403.8" y="123.9" width="0.9" height="0.9" fill="#2cc89c"/>
<rect x="408.6" y="129.1" width="0.9" height="0.9" fill="#78dcc6"/>
<rect x="402.7" y="134.0" width="0.9" height="0.9" fill="#78dcc6"/>
<rect x="405.2" y="131.2" width="0.9" height="0.9" fill="#78dcc6"/>
<rect x="399.3" y="135.1" width="0.9" height="0.9" fill="#78dcc6"/>
<rect x="408.0" y="114.0" width="0.9" height="0.9" fill="#78dcc6"/>
<rect x="400.6" y="134.1" width="0.9" height="0.9" fill="#2cc89c"/>
<rect x="388.9" y="127.6" width="0.9" height="0.9" fill="#78dcc6"/>
<rect x="406.0" y="138.6" width="0.9" height="0.9" fill="#78dcc6"/>
<rect x="393.2" y="134.6" width="0.9" height="0.9" fill="#78dcc6"/>
<rect x="405.3" y="116.7" width="0.9" height="0.9" fill="#78dcc6"/>
<rect x="404.2" y="129.2" width="0.9" height="0.9" fill="#2cc89c"/>
<rect x="403.9" y="120.4" width="0.9" height="0.9" fill="#78dcc6"/>
<rect x="401.3" y="132.7" width="0.9" height="0.9" fill="#2cc89c"/>
<rect x="397.4" y="137.4" width="0.9" height="0.9" fill="#78dcc6"/>
<rect x="400.5" y="133.8" width="0.9" height="0.9" fill="#2cc89c"/>
<rect x="397.5" y="124.2" width="0.9" height="0.9" fill="#2cc89c"/>
<rect x="393.8" y="130.1" width="0.9" height="0.9" fill="#78dcc6"/>
<rect x="387.8" y="134.3" width="0.9" height="0.9" fill="#78dcc6"/>
<rect x="406.3" y="131.6" width="0.9" height="0.9" fill="#78dcc6"/>
<rect x="402.5" y="136.9" width="0.9" height="0.9" fill="#78dcc6"/>
<rect x="401.1" y="135.5" width="0.9" height="0.9" fill="#78dcc6"/>
<rect x="404.5" y="127.5" width="0.9" height="0.9" fill="#2cc89c"/>
<rect x="393.5" y="127.2" width="0.9" height="0.9" fill="#78dcc6"/>
<rect x="394.0" y="126.4" width="0.9" height="0.9" fill="#78dcc6"/>
<rect x="394.6" y="127.7" width="0.9" height="0.9" fill="#78dcc6"/>
<rect x="402.2" y="121.3" width="0.9" height="0.9" fill="#78dcc6"/>
<rect x="393.0" y="125.9" width="0.9" height="0.9" fill="#78dcc6"/>
<rect x="408.4" y="134.3" width="0.9" height="0.9" fill="#78dcc6"/>
<rect x="409.8" y="121.9" width="0.9" height="0.9" fill="#78dcc6"/>
<rect x="394.0" y="125.6" width="0.9" height="0.9" fill="#78dcc6"/>
<rect x="400.5" y="135.6" width="0.9" height="0.9" fill="#78dcc6"/>
<rect x="400.5" y="119.5" width="0.9" height="0.9" fill="#78dcc6"/>
<rect x="391.5" y="131.4" width="0.9" height="0.9" fill="#78dcc6"/>
<rect x="404.6" y="135.1" width="0.9" height="0.9" fill="#78dcc6"/>
<rect x="405.1" y="127.5" width="0.9" height="0.9" fill="#2cc89c"/>
<rect x="399.1" y="137.5" width="0.9" height="0.9" fill="#78dcc6"/>
<rect x="402.4" y="117.8" width="0.9" height="0.9" fill="#78dcc6"/>
<rect x="411.7" y="124.7" width="0.9" height="0.9" fill="#78dcc6"/>
<rect x="389.4" y="124.5" width="0.9" height="0.9" fill="#78dcc6"/>
<rect x="406.2" y="133.5" width="0.9" height="0.9" fill="#78dcc6"/>
<rect x="403.9" y="124.8" width="0.9" height="0.9" fill="#2cc89c"/>
<rect x="392.5" y="130.4" width="0.9" height="0.9" fill="#78dcc6"/>
<rect x="404.7" y="134.5" width="0.9" height="0.9" fill="#78dcc6"/>
<rect x="392.4" y="130.8" width="0.9" height="0.9" fill="#78dcc6"/>
<rect x="404.5" y="129.6" width="0.9" height="0.9" fill="#2cc89c"/>
<rect x="405.9" y="122.3" width="0.9" height="0.9" fill="#78dcc6"/>
<rect x="391.6" y="123.7" width="0.9" height="0.9" fill="#78dcc6"/>
<rect x="396.0" y="126.5" width="0.9" height="0.9" fill="#2cc89c"/>
<rect x="394.6" y="128.6" width="0.9" height="0.9" fill="#78dcc6"/>
<rect x="395.5" y="133.0" width="0.9" height="0.9" fill="#78dcc6"/>
<rect x="405.6" y="127.5" width="0.9" height="0.9" fill="#78dcc6"/>
<rect x="406.6" y="122.5" width="0.9" height="0.9" fill="#78dcc6"/>
<rect x="395.3" y="128.3" width="0.9" height="0.9" fill="#2cc89c"/>
<rect x="397.8" y="121.7" width="0.9" height="0.9" fill="#78dcc6"/>
<rect x="404.2" y="124.8" width="0.9" height="0.9" fill="#2cc89c"/>
<rect x="397.5" y="133.4" width="0.9" height="0.9" fill="#2cc89c"/>
<rect x="407.8" y="122.7" width="0.9" height="0.9" fill="#78dcc6"/>
<rect x="404.4" y="121.2" width="0.9" height="0.9" fill="#78dcc6"/>
<rect x="403.1" y="136.0" width="0.9" height="0.9" fill="#78dcc6"/>
<rect x="392.3" y="131.0" width="0.9" height="0.9" fill="#78dcc6"/>
<rect x="399.0" y="123.4" width="0.9" height="0.9" fill="#2cc89c"/>
<rect x="406.1" y="124.1" width="0.9" height="0.9" fill="#78dcc6"/>
<rect x="395.3" y="129.7" width="0.9" height="0.9" fill="#2cc89c"/>
<rect x="397.4" y="122.2" width="0.9" height="0.9" fill="#78dcc6"/>
<rect x="404.0" y="132.3" width="0.9" height="0.9" fill="#2cc89c"/>
<rect x="399.3" y="120.1" width="0.9" height="0.9" fill="#78dcc6"/>
<rect x="394.0" y="127.5" width="0.9" height="0.9" fill="#78dcc6"/>
<rect x="405.1" y="126.2" width="0.9" height="0.9" fill="#2cc89c"/>
<rect x="403.3" y="135.1" width="0.9" height="0.9" fill="#78dcc6"/>
<rect x="397.1" y="133.5" width="0.9" height="0.9" fill="#78dcc6"/>
<rect x="405.3" y="131.2" width="0.9" height="0.9" fill="#78dcc6"/>
<rect x="392.4" y="129.4" width="0.9" height="0.9" fill="#78dcc6"/>
<rect x="401.8" y="123.6" width="0.9" height="0.9" fill="#2cc89c"/>
<rect x="395.4" y="121.7" width="0.9" height="0.9" fill="#78dcc6"/>
<rect x="397.6" y="120.6" width="0.9" height="0.9" fill="#78dcc6"/>
<rect x="395.9" y="126.1" width="0.9" height="0.9" fill="#2cc89c"/>
<rect x="407.1" y="131.0" width="0.9" height="0.9" fill="#78dcc6"/>
<rect x="405.7" y="128.5" width="0.9" height="0.9" fill="#78dcc6"/>
<rect x="394.8" y="128.5" width="0.9" height="0.9" fill="#2cc89c"/>
<rect x="396.1" y="125.7" width="0.9" height="0.9" fill="#2cc89c"/>
<rect x="394.1" y="131.0" width="0.9" height="0.9" fill="#78dcc6"/>
<rect x="400.9" y="135.8" width="0.9" height="0.9" fill="#78dcc6"/>
<rect x="406.0" y="117.9" width="0.9" height="0.9" fill="#78dcc6"/>
<rect x="394.7" y="135.6" width="0.9" height="0.9" fill="#78dcc6"/>
<rect x="391.0" y="131.6" width="0.9" height="0.9" fill="#78dcc6"/>
<rect x="392.6" y="127.7" width="0.9" height="0.9" fill="#78dcc6"/>
<rect x="391.7" y="128.9" width="0.9" height="0.9" fill="#78dcc6"/>
<rect x="405.1" y="114.2" width="0.9" height="0.9" fill="#78dcc6"/>
<rect x="394.6" y="139.8" width="0.9" height="0.9" fill="#78dcc6"/>
<rect x="392.6" y="135.7" width="0.9" height="0.9" fill="#78dcc6"/>
<rect x="408.8" y="122.0" width="0.9" height="0.9" fill="#78dcc6"/>
<rect x="393.5" y="137.6" width="0.9" height="0.9" fill="#78dcc6"/>
<rect x="398.1" y="137.5" width="0.9" height="0.9" fill="#78dcc6"/>
<rect x="406.7" y="128.7" width="0.9" height="0.9" fill="#78dcc6"/>
<rect x="403.7" y="137.6" width="0.9" height="0.9" fill="#78dcc6"/>
<rect x="392.9" y="131.5" width="0.9" height="0.9" fill="#78dcc6"/>
<rect x="406.9" y="120.7" width="0.9" height="0.9" fill="#78dcc6"/>
<rect x="401.9" y="123.2" width="0.9" height="0.9" fill="#2cc89c"/>
<rect x="400.6" y="122.1" width="0.9" height="0.9" fill="#2cc89c"/>
<rect x="408.7" y="122.8" width="0.9" height="0.9" fill="#78dcc6"/>
<rect x="400.8" y="122.4" width="0.9" height="0.9" fill="#2cc89c"/>
<rect x="405.5" y="128.3" width="0.9" height="0.9" fill="#78dcc6"/>
<rect x="401.7" y="120.3" width="0.9" height="0.9" fill="#78dcc6"/>
<rect x="409.4" y="132.3" width="0.9" height="0.9" fill="#78dcc6"/>
<rect x="389.2" y="133.9" width="0.9" height="0.9" fill="#78dcc6"/>
<rect x="397.1" y="117.4" width="0.9" height="0.9" fill="#78dcc6"/>
<rect x="410.7" y="129.9" width="0.9" height="0.9" fill="#78dcc6"/>
<rect x="404.8" y="131.4" width="0.9" height="0.9" fill="#78dcc6"/>
<rect x="389.7" y="124.4" width="0.9" height="0.9" fill="#78dcc6"/>
<rect x="407.4" y="116.6" width="0.9" height="0.9" fill="#78dcc6"/>
<rect x="394.2" y="127.7" width="0.9" height="0.9" fill="#78dcc6"/>
<rect x="392.0" y="132.5" width="0.9" height="0.9" fill="#78dcc6"/>
<rect x="404.9" y="135.6" width="0.9" height="0.9" fill="#78dcc6"/>
<rect x="396.2" y="122.8" width="0.9" height="0.9" fill="#78dcc6"/>
<rect x="394.3" y="131.5" width="0.9" height="0.9" fill="#78dcc6"/>
<rect x="393.8" y="131.5" width="0.9" height="0.9" fill="#78dcc6"/>
<rect x="396.7" y="124.8" width="0.9" height="0.9" fill="#2cc89c"/>
<rect x="391.6" y="127.4" width="0.9" height="0.9" fill="#78dcc6"/>
<rect x="393.8" y="130.5" width="0.9" height="0.9" fill="#78dcc6"/>
<rect x="396.5" y="137.0" width="0.9" height="0.9" fill="#78dcc6"/>
<rect x="407.5" y="123.3" width="0.9" height="0.9" fill="#78dcc6"/>
<rect x="397.1" y="136.9" width="0.9" height="0.9" fill="#78dcc6"/>
<rect x="401.2" y="123.2" width="0.9" height="0.9" fill="#2cc89c"/>
<rect x="399.8" y="136.9" width="0.9" height="0.9" fill="#78dcc6"/>
<rect x="397.3" y="132.4" width="0.9" height="0.9" fill="#2cc89c"/>
<rect x="410.3" y="131.1" width="0.9" height="0.9" fill="#78dcc6"/>
<rect x="397.5" y="139.1" width="0.9" height="0.9" fill="#78dcc6"/>
<rect x="404.4" y="122.8" width="0.9" height="0.9" fill="#78dcc6"/>
<rect x="399.0" y="122.7" width="0.9" height="0.9" fill="#2cc89c"/>
<rect x="398.6" y="123.4" width="0.9" height="0.9" fill="#2cc89c"/>
<rect x="405.8" y="126.0" width="0.9" height="0.9" fill="#78dcc6"/>
<rect x="398.5" y="123.6" width="0.9" height="0.9" fill="#2cc89c"/>
<rect x="395.1" y="138.5" width="0.9" height="0.9" fill="#78dcc6"/>
<rect x="403.8" y="137.4" width="0.9" height="0.9" fill="#78dcc6"/>
<rect x="394.1" y="125.8" width="0.9" height="0.9" fill="#78dcc6"/>
<rect x="399.1" y="133.4" width="0.9" height="0.9" fill="#2cc89c"/>
<rect x="404.5" y="136.0" width="0.9" height="0.9" fill="#78dcc6"/>
<rect x="407.6" y="123.8" width="0.9" height="0.9" fill="#78dcc6"/>
<rect x="408.6" y="128.2" width="0.9" height="0.9" fill="#78dcc6"/>
<rect x="391.1" y="131.6" width="0.9" height="0.9" fill="#78dcc6"/>
<rect x="405.6" y="121.0" width="0.9" height="0.9" fill="#78dcc6"/>
<rect x="399.6" y="122.6" width="0.9" height="0.9" fill="#2cc89c"/>
<rect x="397.7" y="124.1" width="0.9" height="0.9" fill="#2cc89c"/>
<rect x="396.8" y="123.5" width="0.9" height="0.9" fill="#2cc89c"/>
<rect x="404.8" y="126.5" width="0.9" height="0.9" fill="#2cc89c"/>
<rect x="391.8" y="127.4" width="0.9" height="0.9" fill="#78dcc6"/>
<rect x="394.6" y="136.0" width="0.9" height="0.9" fill="#78dcc6"/>
<rect x="406.5" y="126.3" width="0.9" height="0.9" fill="#78dcc6"/>
<rect x="394.0" y="123.3" width="0.9" height="0.9" fill="#78dcc6"/>
<rect x="405.0" y="130.3" width="0.9" height="0.9" fill="#2cc89c"/>
<rect x="407.1" y="124.6" width="0.9" height="0.9" fill="#78dcc6"/>
<rect x="398.3" y="121.2" width="0.9" height="0.9" fill="#78dcc6"/>
<rect x="396.0" y="131.0" width="0.9" height="0.9" fill="#2cc89c"/>
<rect x="393.3" y="120.6" width="0.9" height="0.9" fill="#78dcc6"/>
<rect x="396.9" y="120.5" width="0.9" height="0.9" fill="#78dcc6"/>
<rect x="403.2" y="120.6" width="0.9" height="0.9" fill="#78dcc6"/>
<rect x="392.3" y="122.5" width="0.9" height="0.9" fill="#78dcc6"/>
<rect x="393.3" y="140.6" width="0.9" height="0.9" fill="#78dcc6"/>
<rect x="407.0" y="122.5" width="0.9" height="0.9" fill="#78dcc6"/>
<rect x="393.6" y="133.2" width="0.9" height="0.9" fill="#78dcc6"/>
<rect x="397.6" y="119.1" width="0.9" height="0.9" fill="#78dcc6"/>
<rect x="397.3" y="133.8" width="0.9" height="0.9" fill="#78dcc6"/>
<rect x="392.5" y="133.2" width="0.9" height="0.9" fill="#78dcc6"/>
<rect x="394.6" y="124.6" width="0.9" height="0.9" fill="#78dcc6"/>
<rect x="405.2" y="141.6" width="0.9" height="0.9" fill="#78dcc6"/>
<rect x="398.3" y="133.1" width="0.9" height="0.9" fill="#2cc89c"/>
<rect x="390.1" y="129.5" width="0.9" height="0.9" fill="#78dcc6"/>
<rect x="393.9" y="128.2" width="0.9" height="0.9" fill="#78dcc6"/>
<rect x="398.7" y="120.2" width="0.9" height="0.9" fill="#78dcc6"/>
<rect x="404.2" y="123.6" width="0.9" height="0.9" fill="#78dcc6"/>
<rect x="405.3" y="128.6" width="0.9" height="0.9" fill="#2cc89c"/>
<rect x="389.3" y="120.3" width="0.9" height="0.9" fill="#78dcc6"/>
<rect x="409.9" y="127.6" width="0.9" height="0.9" fill="#78dcc6"/>
<rect x="401.1" y="133.3" width="0.9" height="0.9" fill="#2cc89c"/>
<rect x="396.0" y="123.4" width="0.9" height="0.9" fill="#78dcc6"/>
<rect x="404.1" y="129.8" width="0.9" height="0.9" fill="#2cc89c"/>
<rect x="410.6" y="133.4" width="0.9" height="0.9" fill="#78dcc6"/>
<rect x="404.2" y="130.5" width="0.9" height="0.9" fill="#2cc89c"/>
<rect x="397.8" y="138.7" width="0.9" height="0.9" fill="#78dcc6"/>
<rect x="404.2" y="130.5" width="0.9" height="0.9" fill="#2cc89c"/>
<rect x="399.3" y="137.5" width="0.9" height="0.9" fill="#78dcc6"/>
<rect x="406.4" y="122.7" width="0.9" height="0.9" fill="#78dcc6"/>
<rect x="392.9" y="124.9" width="0.9" height="0.9" fill="#78dcc6"/>
<rect x="392.8" y="125.5" width="0.9" height="0.9" fill="#78dcc6"/>
<rect x="401.4" y="122.6" width="0.9" height="0.9" fill="#2cc89c"/>
<rect x="405.9" y="124.2" width="0.9" height="0.9" fill="#78dcc6"/>
<rect x="403.1" y="120.4" width="0.9" height="0.9" fill="#78dcc6"/>
<rect x="405.7" y="132.6" width="0.9" height="0.9" fill="#78dcc6"/>
<rect x="399.9" y="133.3" width="0.9" height="0.9" fill="#2cc89c"/>
<rect x="395.8" y="133.6" width="0.9" height="0.9" fill="#78dcc6"/>
<rect x="394.5" y="139.0" width="0.9" height="0.9" fill="#78dcc6"/>
<rect x="403.8" y="131.4" width="0.9" height="0.9" fill="#2cc89c"/>
<rect x="402.0" y="120.0" width="0.9" height="0.9" fill="#78dcc6"/>
<rect x="402.7" y="121.7" width="0.9" height="0.9" fill="#78dcc6"/>
<rect x="397.4" y="120.8" width="0.9" height="0.9" fill="#78dcc6"/>
<rect x="406.2" y="129.2" width="0.9" height="0.9" fill="#78dcc6"/>
<rect x="394.2" y="134.8" width="0.9" height="0.9" fill="#78dcc6"/>
<rect x="400.9" y="116.4" width="0.9" height="0.9" fill="#78dcc6"/>
<rect x="405.8" y="127.9" width="0.9" height="0.9" fill="#78dcc6"/>
<rect x="391.6" y="138.4" width="0.9" height="0.9" fill="#78dcc6"/>
<rect x="403.7" y="143.1" width="0.9" height="0.9" fill="#78dcc6"/>
<rect x="381.9" y="146.8" width="0.9" height="0.9" fill="#2cc89c"/>
<rect x="373.1" y="150.4" width="0.9" height="0.9" fill="#78dcc6"/>
<rect x="388.7" y="142.7" width="0.9" height="0.9" fill="#2cc89c"/>
<rect x="393.9" y="141.0" width="0.9" height="0.9" fill="#78dcc6"/>
<rect x="382.8" y="142.1" width="0.9" height="0.9" fill="#2cc89c"/>
<rect x="377.7" y="144.8" width="0.9" height="0.9" fill="#78dcc6"/>
<rect x="379.3" y="142.3" width="0.9" height="0.9" fill="#78dcc6"/>
<rect x="383.0" y="142.7" width="0.9" height="0.9" fill="#2cc89c"/>
<rect x="396.4" y="135.0" width="0.9" height="0.9" fill="#78dcc6"/>
<rect x="391.3" y="134.6" width="0.9" height="0.9" fill="#78dcc6"/>
<rect x="390.4" y="140.7" width="0.9" height="0.9" fill="#2cc89c"/>
<rect x="388.4" y="140.0" width="0.9" height="0.9" fill="#2cc89c"/>
<rect x="382.6" y="148.2" width="0.9" height="0.9" fill="#78dcc6"/>
<rect x="380.9" y="143.5" width="0.9" height="0.9" fill="#2cc89c"/>
<rect x="394.7" y="141.8" width="0.9" height="0.9" fill="#78dcc6"/>
<rect x="379.3" y="149.3" width="0.9" height="0.9" fill="#78dcc6"/>
<rect x="382.8" y="148.8" width="0.9" height="0.9" fill="#78dcc6"/>
<rect x="380.6" y="142.6" width="0.9" height="0.9" fill="#2cc89c"/>
<rect x="389.3" y="144.9" width="0.9" height="0.9" fill="#2cc89c"/>
<rect x="390.2" y="141.6" width="0.9" height="0.9" fill="#2cc89c"/>
<rect x="385.6" y="148.1" width="0.9" height="0.9" fill="#78dcc6"/>
<rect x="380.1" y="149.3" width="0.9" height="0.9" fill="#78dcc6"/>
<rect x="388.1" y="145.3" width="0.9" height="0.9" fill="#2cc89c"/>
<rect x="383.0" y="144.7" width="0.9" height="0.9" fill="#2cc89c"/>
<rect x="379.3" y="148.5" width="0.9" height="0.9" fill="#78dcc6"/>
<rect x="391.6" y="144.5" width="0.9" height="0.9" fill="#2cc89c"/>
<rect x="394.2" y="139.4" width="0.9" height="0.9" fill="#78dcc6"/>
<rect x="389.9" y="138.7" width="0.9" height="0.9" fill="#78dcc6"/>
<rect x="398.8" y="143.4" width="0.9" height="0.9" fill="#78dcc6"/>
<rect x="379.9" y="146.3" width="0.9" height="0.9" fill="#78dcc6"/>
<rect x="381.6" y="141.8" width="0.9" height="0.9" fill="#2cc89c"/>
<rect x="383.5" y="145.4" width="0.9" height="0.9" fill="#2cc89c"/>
<rect x="391.2" y="135.5" width="0.9" height="0.9" fill="#78dcc6"/>
<rect x="392.3" y="142.5" width="0.9" height="0.9" fill="#2cc89c"/>
<rect x="384.2" y="145.7" width="0.9" height="0.9" fill="#2cc89c"/>
<rect x="393.6" y="131.8" width="0.9" height="0.9" fill="#78dcc6"/>
<rect x="389.0" y="141.1" width="0.9" height="0.9" fill="#2cc89c"/>
<rect x="389.7" y="142.8" width="0.9" height="0.9" fill="#2cc89c"/>
<rect x="385.5" y="140.3" width="0.9" height="0.9" fill="#2cc89c"/>
<rect x="390.9" y="141.5" width="0.9" height="0.9" fill="#2cc89c"/>
<rect x="373.5" y="149.2" width="0.9" height="0.9" fill="#78dcc6"/>
<rect x="384.2" y="141.6" width="0.9" height="0.9" fill="#2cc89c"/>
<rect x="382.8" y="144.7" width="0.9" height="0.9" fill="#2cc89c"/>
<rect x="384.0" y="144.8" width="0.9" height="0.9" fill="#2cc89c"/>
<rect x="392.2" y="130.7" width="0.9" height="0.9" fill="#78dcc6"/>
<rect x="374.6" y="151.8" width="0.9" height="0.9" fill="#78dcc6"/>
<rect x="384.3" y="139.3" width="0.9" height="0.9" fill="#78dcc6"/>
<rect x="394.5" y="143.2" width="0.9" height="0.9" fill="#78dcc6"/>
<rect x="400.6" y="135.2" width="0.9" height="0.9" fill="#78dcc6"/>
<rect x="381.6" y="146.3" width="0.9" height="0.9" fill="#2cc89c"/>
<rect x="381.8" y="145.3" width="0.9" height="0.9" fill="#2cc89c"/>
<rect x="372.0" y="147.7" width="0.9" height="0.9" fill="#78dcc6"/>
<rect x="393.7" y="140.5" width="0.9" height="0.9" fill="#78dcc6"/>
<rect x="378.3" y="147.3" width="0.9" height="0.9" fill="#78dcc6"/>
<rect x="379.8" y="145.2" width="0.9" height="0.9" fill="#78dcc6"/>
<rect x="394.1" y="143.6" width="0.9" height="0.9" fill="#78dcc6"/>
<rect x="379.5" y="151.4" width="0.9" height="0.9" fill="#78dcc6"/>
<rect x="387.0" y="139.6" width="0.9" height="0.9" fill="#2cc89c"/>
<rect x="392.1" y="139.8" width="0.9" height="0.9" fill="#78dcc6"/>
<rect x="383.5" y="146.3" width="0.9" height="0.9" fill="#2cc89c"/>
<rect x="394.0" y="140.1" width="0.9" height="0.9" fill="#78dcc6"/>
<rect x="383.0" y="145.5" width="0.9" height="0.9" fill="#2cc89c"/>
<rect x="398.0" y="138.9" width="0.9" height="0.9" fill="#78dcc6"/>
<rect x="388.6" y="145.0" width="0.9" height="0.9" fill="#2cc89c"/>
<rect x="386.3" y="138.1" width="0.9" height="0.9" fill="#78dcc6"/>
<rect x="374.3" y="144.9" width="0.9" height="0.9" fill="#78dcc6"/>
<rect x="388.7" y="144.1" width="0.9" height="0.9" fill="#2cc89c"/>
<rect x="384.7" y="145.9" width="0.9" height="0.9" fill="#2cc89c"/>
<rect x="383.4" y="148.6" width="0.9" height="0.9" fill="#78dcc6"/>
<rect x="387.9" y="151.2" width="0.9" height="0.9" fill="#78dcc6"/>
<rect x="391.8" y="141.3" width="0.9" height="0.9" fill="#78dcc6"/>
<rect x="387.3" y="141.3" width="0.9" height="0.9" fill="#2cc89c"/>
<rect x="386.2" y="147.8" width="0.9" height="0.9" fill="#2cc89c"/>
<rect x="389.0" y="139.9" width="0.9" height="0.9" fill="#2cc89c"/>
<rect x="382.8" y="146.8" width="0.9" height="0.9" fill="#2cc89c"/>
<rect x="376.8" y="151.3" width="0.9" height="0.9" fill="#78dcc6"/>
<rect x="393.4" y="139.8" width="0.9" height="0.9" fill="#78dcc6"/>
<rect x="390.4" y="146.3" width="0.9" height="0.9" fill="#2cc89c"/>
<rect x="383.4" y="147.6" width="0.9" height="0.9" fill="#78dcc6"/>
<rect x="388.1" y="139.5" width="0.9" height="0.9" fill="#78dcc6"/>
<rect x="381.2" y="146.9" width="0.9" height="0.9" fill="#78dcc6"/>
<rect x="390.8" y="139.9" width="0.9" height="0.9" fill="#78dcc6"/>
<rect x="389.8" y="142.2" width="0.9" height="0.9" fill="#2cc89c"/>
<rect x="392.1" y="139.9" width="0.9" height="0.9" fill="#78dcc6"/>
<rect x="382.4" y="145.5" width="0.9" height="0.9" fill="#2cc89c"/>
<rect x="390.2" y="139.6" width="0.9" height="0.9" fill="#78dcc6"/>
<rect x="381.4" y="145.5" width="0.9" height="0.9" fill="#2cc89c"/>
<rect x="394.8" y="143.3" width="0.9" height="0.9" fill="#78dcc6"/>
<rect x="384.9" y="145.3" width="0.9" height="0.9" fill="#2cc89c"/>
<rect x="383.2" y="142.0" width="0.9" height="0.9" fill="#2cc89c"/>
<rect x="380.6" y="146.5" width="0.9" height="0.9" fill="#78dcc6"/>
<rect x="402.5" y="134.5" width="0.9" height="0.9" fill="#78dcc6"/>
<rect x="385.7" y="147.5" width="0.9" height="0.9" fill="#2cc89c"/>
<rect x="385.2" y="151.3" width="0.9" height="0.9" fill="#78dcc6"/>
<rect x="380.0" y="150.6" width="0.9" height="0.9" fill="#78dcc6"/>
<rect x="379.3" y="142.9" width="0.9" height="0.9" fill="#78dcc6"/>
<rect x="382.2" y="147.3" width="0.9" height="0.9" fill="#78dcc6"/>
<rect x="389.6" y="143.5" width="0.9" height="0.9" fill="#2cc89c"/>
<rect x="383.3" y="143.6" width="0.9" height="0.9" fill="#2cc89c"/>
<rect x="380.8" y="140.5" width="0.9" height="0.9" fill="#78dcc6"/>
<rect x="385.6" y="138.8" width="0.9" height="0.9" fill="#78dcc6"/>
<rect x="389.3" y="143.4" width="0.9" height="0.9" fill="#2cc89c"/>
<rect x="387.6" y="147.4" width="0.9" height="0.9" fill="#2cc89c"/>
<rect x="393.0" y="142.6" width="0.9" height="0.9" fill="#78dcc6"/>
<rect x="393.6" y="138.3" width="0.9" height="0.9" fill="#78dcc6"/>
<rect x="384.2" y="142.0" width="0.9" height="0.9" fill="#2cc89c"/>
<rect x="385.8" y="145.8" width="0.9" height="0.9" fill="#2cc89c"/>
<rect x="392.4" y="140.1" width="0.9" height="0.9" fill="#78dcc6"/>
<rect x="385.8" y="138.0" width="0.9" height="0.9" fill="#78dcc6"/>
<rect x="386.1" y="141.2" width="0.9" height="0.9" fill="#2cc89c"/>
<rect x="377.8" y="145.2" width="0.9" height="0.9" fill="#78dcc6"/>
<rect x="376.3" y="146.9" width="0.9" height="0.9" fill="#78dcc6"/>
<rect x="376.3" y="150.1" width="0.9" height="0.9" fill="#78dcc6"/>
<rect x="384.6" y="146.7" width="0.9" height="0.9" fill="#2cc89c"/>
<rect x="382.9" y="149.3" width="0.9" height="0.9" fill="#78dcc6"/>
<rect x="376.3" y="147.5" width="0.9" height="0.9" fill="#78dcc6"/>
<rect x="389.6" y="133.9" width="0.9" height="0.9" fill="#78dcc6"/>
<rect x="389.0" y="144.3" width="0.9" height="0.9" fill="#2cc89c"/>
<rect x="384.2" y="144.9" width="0.9" height="0.9" fill="#2cc89c"/>
<rect x="387.2" y="141.1" width="0.9" height="0.9" fill="#2cc89c"/>
<rect x="396.4" y="140.4" width="0.9" height="0.9" fill="#78dcc6"/>
<rect x="393.7" y="139.2" width="0.9" height="0.9" fill="#78dcc6"/>
<rect x="389.0" y="140.9" width="0.9" height="0.9" fill="#2cc89c"/>
<rect x="390.3" y="138.0" width="0.9" height="0.9" fill="#78dcc6"/>
<rect x="386.0" y="140.4" width="0.9" height="0.9" fill="#2cc89c"/>
<rect x="372.4" y="149.3" width="0.9" height="0.9" fill="#78dcc6"/>
<rect x="388.9" y="140.4" width="0.9" height="0.9" fill="#2cc89c"/>
<rect x="388.9" y="134.8" width="0.9" height="0.9" fill="#78dcc6"/>
<rect x="394.2" y="139.4" width="0.9" height="0.9" fill="#78dcc6"/>
<rect x="392.5" y="140.1" width="0.9" height="0.9" fill="#78dcc6"/>
<rect x="384.7" y="145.6" width="0.9" height="0.9" fill="#2cc89c"/>
<rect x="382.9" y="143.1" width="0.9" height="0.9" fill="#2cc89c"/>
<rect x="380.8" y="144.9" width="0.9" height="0.9" fill="#2cc89c"/>
<rect x="385.0" y="146.1" width="0.9" height="0.9" fill="#2cc89c"/>
<rect x="386.2" y="139.7" width="0.9" height="0.9" fill="#2cc89c"/>
<rect x="381.5" y="142.6" width="0.9" height="0.9" fill="#2cc89c"/>
<rect x="389.6" y="138.5" width="0.9" height="0.9" fill="#78dcc6"/>
<rect x="381.4" y="145.4" width="0.9" height="0.9" fill="#2cc89c"/>
<rect x="399.0" y="139.1" width="0.9" height="0.9" fill="#78dcc6"/>
<rect x="377.1" y="153.4" width="0.9" height="0.9" fill="#78dcc6"/>
<rect x="389.2" y="142.1" width="0.9" height="0.9" fill="#2cc89c"/>
<rect x="384.4" y="147.0" width="0.9" height="0.9" fill="#2cc89c"/>
<rect x="384.6" y="141.0" width="0.9" height="0.9" fill="#2cc89c"/>
<rect x="382.8" y="147.0" width="0.9" height="0.9" fill="#2cc89c"/>
<rect x="392.8" y="139.0" width="0.9" height="0.9" fill="#78dcc6"/>
<rect x="384.2" y="146.8" width="0.9" height="0.9" fill="#2cc89c"/>
<rect x="383.1" y="144.7" width="0.9" height="0.9" fill="#2cc89c"/>
<rect x="394.1" y="141.2" width="0.9" height="0.9" fill="#78dcc6"/>
<rect x="380.9" y="151.9" width="0.9" height="0.9" fill="#78dcc6"/>
<rect x="380.1" y="150.8" width="0.9" height="0.9" fill="#78dcc6"/>
<rect x="402.3" y="147.9" width="0.9" height="0.9" fill="#2cc89c"/>
<rect x="402.0" y="141.8" width="0.9" height="0.9" fill="#2cc89c"/>
<rect x="400.2" y="141.4" width="0.9" height="0.9" fill="#2cc89c"/>
<rect x="399.3" y="145.3" width="0.9" height="0.9" fill="#2cc89c"/>
<rect x="398.4" y="134.4" width="0.9" height="0.9" fill="#78dcc6"/>
<rect x="400.4" y="147.8" width="0.9" height="0.9" fill="#2cc89c"/>
<rect x="401.6" y="143.8" width="0.9" height="0.9" fill="#2cc89c"/>
<rect x="402.6" y="149.8" width="0.9" height="0.9" fill="#2cc89c"/>
<rect x="400.6" y="141.5" width="0.9" height="0.9" fill="#2cc89c"/>
<rect x="398.3" y="144.1" width="0.9" height="0.9" fill="#2cc89c"/>
<rect x="400.3" y="137.7" width="0.9" height="0.9" fill="#78dcc6"/>
<rect x="405.9" y="141.2" width="0.9" height="0.9" fill="#78dcc6"/>
<rect x="399.9" y="145.4" width="0.9" height="0.9" fill="#2cc89c"/>
<rect x="405.2" y="143.8" width="0.9" height="0.9" fill="#78dcc6"/>
<rect x="400.1" y="140.8" width="0.9" height="0.9" fill="#2cc89c"/>
<rect x="400.2" y="141.7" width="0.9" height="0.9" fill="#2cc89c"/>
<rect x="403.3" y="145.8" width="0.9" height="0.9" fill="#2cc89c"/>
<rect x="400.5" y="138.2" width="0.9" height="0.9" fill="#78dcc6"/>
<rect x="399.2" y="154.8" width="0.9" height="0.9" fill="#78dcc6"/>
<rect x="398.3" y="145.0" width="0.9" height="0.9" fill="#2cc89c"/>
<rect x="400.2" y="131.6" width="0.9" height="0.9" fill="#78dcc6"/>
<rect x="399.3" y="152.4" width="0.9" height="0.9" fill="#78dcc6"/>
<rect x="401.2" y="135.8" width="0.9" height="0.9" fill="#78dcc6"/>
<rect x="403.0" y="146.4" width="0.9" height="0.9" fill="#2cc89c"/>
<rect x="399.8" y="151.0" width="0.9" height="0.9" fill="#2cc89c"/>
<rect x="396.0" y="148.2" width="0.9" height="0.9" fill="#78dcc6"/>
<rect x="401.0" y="152.1" width="0.9" height="0.9" fill="#2cc89c"/>
<rect x="403.2" y="151.9" width="0.9" height="0.9" fill="#78dcc6"/>
<rect x="400.1" y="144.4" width="0.9" height="0.9" fill="#2cc89c"/>
<rect x="395.3" y="141.1" width="0.9" height="0.9" fill="#78dcc6"/>
<rect x="400.9" y="145.2" width="0.9" height="0.9" fill="#2cc89c"/>
<rect x="402.3" y="140.0" width="0.9" height="0.9" fill="#78dcc6"/>
<rect x="401.6" y="146.5" width="0.9" height="0.9" fill="#2cc89c"/>
<rect x="396.1" y="141.7" width="0.9" height="0.9" fill="#78dcc6"/>
<rect x="402.0" y="150.2" width="0.9" height="0.9" fill="#2cc89c"/>
<rect x="399.5" y="145.4" width="0.9" height="0.9" fill="#2cc89c"/>
<rect x="400.2" y="144.4" width="0.9" height="0.9" fill="#2cc89c"/>
<rect x="395.5" y="143.2" width="0.9" height="0.9" fill="#78dcc6"/>
<rect x="396.8" y="150.3" width="0.9" height="0.9" fill="#78dcc6"/>
<rect x="399.7" y="144.1" width="0.9" height="0.9" fill="#2cc89c"/>
<rect x="396.5" y="147.4" width="0.9" height="0.9" fill="#78dcc6"/>
<rect x="402.1" y="152.6" width="0.9" height="0.9" fill="#78dcc6"/>
<rect x="403.7" y="150.2" width="0.9" height="0.9" fill="#78dcc6"/>
<rect x="392.7" y="141.6" width="0.9" height="0.9" fill="#78dcc6"/>
<rect x="403.8" y="147.8" width="0.9" height="0.9" fill="#78dcc6"/>
<rect x="399.2" y="152.4" width="0.9" height="0.9" fill="#78dcc6"/>
<rect x="401.2" y="145.5" width="0.9" height="0.9" fill="#2cc89c"/>
<rect x="398.9" y="136.1" width="0.9" height="0.9" fill="#78dcc6"/>
<rect x="404.5" y="142.5" width="0.9" height="0.9" fill="#78dcc6"/>
<rect x="404.5" y="142.4" width="0.9" height="0.9" fill="#78dcc6"/>
<rect x="396.3" y="146.1" width="0.9" height="0.9" fill="#78dcc6"/>
<rect x="404.8" y="149.4" width="0.9" height="0.9" fill="#78dcc6"/>
<rect x="397.5" y="143.1" width="0.9" height="0.9" fill="#78dcc6"/>
<rect x="400.7" y="151.8" width="0.9" height="0.9" fill="#2cc89c"/>
<rect x="397.8" y="139.3" width="0.9" height="0.9" fill="#78dcc6"/>
<rect x="403.0" y="143.9" width="0.9" height="0.9" fill="#2cc89c"/>
<rect x="402.2" y="144.5" width="0.9" height="0.9" fill="#2cc89c"/>
<rect x="403.7" y="155.1" width="0.9" height="0.9" fill="#78dcc6"/>
<rect x="403.6" y="154.0" width="0.9" height="0.9" fill="#78dcc6"/>
<rect x="403.6" y="137.2" width="0.9" height="0.9" fill="#78dcc6"/>
<rect x="400.2" y="147.9" width="0.9" height="0.9" fill="#2cc89c"/>
<rect x="396.6" y="140.1" width="0.9" height="0.9" fill="#78dcc6"/>
<rect x="400.5" y="139.9" width="0.9" height="0.9" fill="#2cc89c"/>
<rect x="398.5" y="139.6" width="0.9" height="0.9" fill="#78dcc6"/>
<rect x="402.2" y="142.7" width="0.9" height="0.9" fill="#2cc89c"/>
<rect x="400.2" y="144.4" width="0.9" height="0.9" fill="#2cc89c"/>
<rect x="399.7" y="153.3" width="0.9" height="0.9" fill="#78dcc6"/>
<rect x="397.9" y="149.3" width="0.9" height="0.9" fill="#78dcc6"/>
<rect x="400.8" y="147.9" width="0.9" height="0.9" fill="#2cc89c"/>
<rect x="399.4" y="147.0" width="0.9" height="0.9" fill="#2cc89c"/>
<rect x="399.8" y="140.4" width="0.9" height="0.9" fill="#2cc89c"/>
<rect x="403.1" y="143.5" width="0.9" height="0.9" fill="#2cc89c"/>
<rect x="397.5" y="151.0" width="0.9" height="0.9" fill="#78dcc6"/>
<rect x="399.4" y="149.5" width="0.9" height="0.9" fill="#2cc89c"/>
<rect x="399.3" y="148.6" width="0.9" height="0.9" fill="#2cc89c"/>
<rect x="403.1" y="138.0" width="0.9" height="0.9" fill="#78dcc6"/>
<rect x="397.5" y="148.5" width="0.9" height="0.9" fill="#78dcc6"/>
<rect x="399.2" y="135.6" width="0.9" height="0.9" fill="#78dcc6"/>
<rect x="399.6" y="139.5" width="0.9" height="0.9" fill="#78dcc6"/>
<rect x="404.2" y="149.5" width="0.9" height="0.9" fill="#78dcc6"/>
<rect x="404.0" y="144.1" width="0.9" height="0.9" fill="#78dcc6"/>
<rect x="399.5" y="152.5" width="0.9" height="0.9" fill="#78dcc6"/>
<rect x="402.7" y="136.9" width="0.9" height="0.9" fill="#78dcc6"/>
<rect x="406.4" y="149.4" width="0.9" height="0.9" fill="#78dcc6"/>
<rect x="402.5" y="153.9" width="0.9" height="0.9" fill="#78dcc6"/>
<rect x="397.9" y="155.3" width="0.9" height="0.9" fill="#78dcc6"/>
<rect x="399.9" y="147.1" width="0.9" height="0.9" fill="#2cc89c"/>
<rect x="404.0" y="129.3" width="0.9" height="0.9" fill="#78dcc6"/>
<rect x="402.5" y="141.1" width="0.9" height="0.9" fill="#78dcc6"/>
<rect x="401.2" y="143.5" width="0.9" height="0.9" fill="#2cc89c"/>
<rect x="401.1" y="149.6" width="0.9" height="0.9" fill="#2cc89c"/>
<rect x="404.1" y="140.9" width="0.9" height="0.9" fill="#78dcc6"/>
<rect x="400.5" y="148.3" width="0.9" height="0.9" fill="#2cc89c"/>
<rect x="399.2" y="150.0" width="0.9" height="0.9" fill="#2cc89c"/>
<rect x="401.5" y="148.2" width="0.9" height="0.9" fill="#2cc89c"/>
<rect x="397.7" y="141.1" width="0.9" height="0.9" fill="#78dcc6"/>
<rect x="401.5" y="147.3" width="0.9" height="0.9" fill="#2cc89c"/>
<rect x="401.7" y="153.6" width="0.9" height="0.9" fill="#78dcc6"/>
<rect x="401.9" y="140.2" width="0.9" height="0.9" fill="#78dcc6"/>
<rect x="403.1" y="150.7" width="0.9" height="0.9" fill="#78dcc6"/>
<rect x="397.5" y="148.0" width="0.9" height="0.9" fill="#78dcc6"/>
<rect x="398.8" y="152.5" width="0.9" height="0.9" fill="#78dcc6"/>
<rect x="396.7" y="149.3" width="0.9" height="0.9" fill="#78dcc6"/>
<rect x="398.6" y="150.4" width="0.9" height="0.9" fill="#2cc89c"/>
<rect x="405.0" y="152.1" width="0.9" height="0.9" fill="#78dcc6"/>
<rect x="397.7" y="152.6" width="0.9" height="0.9" fill="#78dcc6"/>
<rect x="398.4" y="141.0" width="0.9" height="0.9" fill="#78dcc6"/>
<rect x="401.5" y="149.8" width="0.9" height="0.9" fill="#2cc89c"/>
<rect x="401.4" y="147.0" width="0.9" height="0.9" fill="#2cc89c"/>
<rect x="402.2" y="149.3" width="0.9" height="0.9" fill="#2cc89c"/>
<rect x="400.5" y="155.4" width="0.9" height="0.9" fill="#78dcc6"/>
<rect x="395.9" y="147.3" width="0.9" height="0.9" fill="#78dcc6"/>
<rect x="398.9" y="138.8" width="0.9" height="0.9" fill="#78dcc6"/>
<rect x="401.1" y="139.6" width="0.9" height="0.9" fill="#78dcc6"/>
<rect x="399.5" y="151.8" width="0.9" height="0.9" fill="#2cc89c"/>
<rect x="399.3" y="143.4" width="0.9" height="0.9" fill="#2cc89c"/>
<rect x="399.2" y="146.8" width="0.9" height="0.9" fill="#2cc89c"/>
<rect x="401.3" y="148.4" width="0.9" height="0.9" fill="#2cc89c"/>
<rect x="402.5" y="148.0" width="0.9" height="0.9" fill="#2cc89c"/>
<rect x="400.9" y="146.2" width="0.9" height="0.9" fill="#2cc89c"/>
<rect x="400.7" y="150.5" width="0.9" height="0.9" fill="#2cc89c"/>
<rect x="399.4" y="143.5" width="0.9" height="0.9" fill="#2cc89c"/>
<rect x="400.6" y="141.5" width="0.9" height="0.9" fill="#2cc89c"/>
<rect x="399.5" y="142.7" width="0.9" height="0.9" fill="#2cc89c"/>
<rect x="400.2" y="152.8" width="0.9" height="0.9" fill="#78dcc6"/>
<rect x="401.2" y="152.3" width="0.9" height="0.9" fill="#2cc89c"/>
<rect x="399.0" y="150.8" width="0.9" height="0.9" fill="#2cc89c"/>
<rect x="407.1" y="146.8" width="0.9" height="0.9" fill="#78dcc6"/>
<rect x="403.1" y="150.6" width="0.9" height="0.9" fill="#78dcc6"/>
<rect x="402.7" y="147.3" width="0.9" height="0.9" fill="#2cc89c"/>
<rect x="398.4" y="139.6" width="0.9" height="0.9" fill="#78dcc6"/>
<rect x="402.6" y="148.4" width="0.9" height="0.9" fill="#2cc89c"/>
<rect x="400.1" y="143.8" width="0.9" height="0.9" fill="#2cc89c"/>
<rect x="400.1" y="144.0" width="0.9" height="0.9" fill="#2cc89c"/>
<rect x="396.9" y="139.4" width="0.9" height="0.9" fill="#78dcc6"/>
<rect x="396.2" y="145.5" width="0.9" height="0.9" fill="#78dcc6"/>
<rect x="398.9" y="140.6" width="0.9" height="0.9" fill="#78dcc6"/>
<rect x="401.1" y="140.2" width="0.9" height="0.9" fill="#2cc89c"/>
<rect x="400.3" y="143.5" width="0.9" height="0.9" fill="#2cc89c"/>
<rect x="398.6" y="140.4" width="0.9" height="0.9" fill="#78dcc6"/>
<rect x="401.4" y="148.8" width="0.9" height="0.9" fill="#2cc89c"/>
<rect x="401.4" y="143.4" width="0.9" height="0.9" fill="#2cc89c"/>
<rect x="400.9" y="147.0" width="0.9" height="0.9" fill="#2cc89c"/>
<rect x="399.5" y="154.7" width="0.9" height="0.9" fill="#78dcc6"/>
<rect x="401.5" y="148.2" width="0.9" height="0.9" fill="#2cc89c"/>
<rect x="397.6" y="144.6" width="0.9" height="0.9" fill="#78dcc6"/>
<rect x="390.8" y="135.1" width="0.9" height="0.9" fill="#2cc89c"/>
<rect x="383.7" y="132.4" width="0.9" height="0.9" fill="#2cc89c"/>
<rect x="383.4" y="122.3" width="0.9" height="0.9" fill="#2cc89c"/>
<rect x="386.4" y="112.3" width="0.9" height="0.9" fill="#78dcc6"/>
<rect x="382.8" y="115.6" width="0.9" height="0.9" fill="#78dcc6"/>
<rect x="379.2" y="139.9" width="0.9" height="0.9" fill="#2cc89c"/>
<rect x="380.2" y="126.8" width="0.9" height="0.9" fill="#2cc89c"/>
<rect x="388.7" y="129.1" width="0.9" height="0.9" fill="#2cc89c"/>
<rect x="378.5" y="127.7" width="0.9" height="0.9" fill="#2cc89c"/>
<rect x="399.6" y="139.3" width="0.9" height="0.9" fill="#78dcc6"/>
<rect x="388.3" y="118.9" width="0.9" height="0.9" fill="#78dcc6"/>
<rect x="389.8" y="117.7" width="0.9" height="0.9" fill="#78dcc6"/>
<rect x="388.2" y="119.7" width="0.9" height="0.9" fill="#78dcc6"/>
<rect x="404.4" y="113.4" width="0.9" height="0.9" fill="#78dcc6"/>
<rect x="396.3" y="140.7" width="0.9" height="0.9" fill="#78dcc6"/>
<rect x="398.8" y="144.4" width="0.9" height="0.9" fill="#78dcc6"/>
<rect x="370.0" y="120.6" width="0.9" height="0.9" fill="#78dcc6"/>
<rect x="375.8" y="152.1" width="0.9" height="0.9" fill="#78dcc6"/>
<rect x="384.3" y="129.4" width="0.9" height="0.9" fill="#2cc89c"/>
<rect x="379.2" y="139.2" width="0.9" height="0.9" fill="#2cc89c"/>
<rect x="390.5" y="121.7" width="0.9" height="0.9" fill="#2cc89c"/>
<rect x="399.0" y="119.9" width="0.9" height="0.9" fill="#78dcc6"/>
<rect x="379.8" y="136.8" width="0.9" height="0.9" fill="#2cc89c"/>
<rect x="401.7" y="128.0" width="0.9" height="0.9" fill="#78dcc6"/>
<rect x="386.0" y="146.2" width="0.9" height="0.9" fill="#78dcc6"/>
<rect x="389.7" y="144.2" width="0.9" height="0.9" fill="#78dcc6"/>
<rect x="394.3" y="134.7" width="0.9" height="0.9" fill="#2cc89c"/>
<rect x="389.8" y="141.9" width="0.9" height="0.9" fill="#2cc89c"/>
<rect x="382.5" y="149.4" width="0.9" height="0.9" fill="#78dcc6"/>
<rect x="398.7" y="136.5" width="0.9" height="0.9" fill="#78dcc6"/>
<rect x="375.8" y="136.0" width="0.9" height="0.9" fill="#2cc89c"/>
<rect x="394.8" y="125.7" width="0.9" height="0.9" fill="#78dcc6"/>
<rect x="391.3" y="130.5" width="0.9" height="0.9" fill="#2cc89c"/>
<rect x="381.6" y="131.1" width="0.9" height="0.9" fill="#2cc89c"/>
<rect x="395.1" y="119.5" width="0.9" height="0.9" fill="#78dcc6"/>
<rect x="378.8" y="139.1" width="0.9" height="0.9" fill="#2cc89c"/>
<rect x="369.4" y="114.5" width="0.9" height="0.9" fill="#78dcc6"/>
<rect x="400.6" y="153.5" width="0.9" height="0.9" fill="#2cc89c"/>
<rect x="392.0" y="153.6" width="0.9" height="0.9" fill="#2cc89c"/>
<rect x="382.0" y="153.0" width="0.9" height="0.9" fill="#2cc89c"/>
<rect x="376.7" y="153.0" width="0.9" height="0.9" fill="#78dcc6"/>
<rect x="412.1" y="153.5" width="0.9" height="0.9" fill="#78dcc6"/>
<rect x="400.9" y="152.9" width="0.9" height="0.9" fill="#2cc89c"/>
<rect x="415.5" y="153.7" width="0.9" height="0.9" fill="#78dcc6"/>
<rect x="378.8" y="154.4" width="0.9" height="0.9" fill="#78dcc6"/>
<rect x="389.4" y="154.2" width="0.9" height="0.9" fill="#2cc89c"/>
<rect x="395.5" y="153.8" width="0.9" height="0.9" fill="#2cc89c"/>
<rect x="395.4" y="152.4" width="0.9" height="0.9" fill="#2cc89c"/>
<rect x="375.8" y="154.6" width="0.9" height="0.9" fill="#78dcc6"/>
<rect x="392.2" y="153.8" width="0.9" height="0.9" fill="#2cc89c"/>
<rect x="388.2" y="151.0" width="0.9" height="0.9" fill="#78dcc6"/>
<rect x="378.5" y="155.1" width="0.9" height="0.9" fill="#78dcc6"/>
<rect x="384.4" y="153.0" width="0.9" height="0.9" fill="#2cc89c"/>
<rect x="376.2" y="152.8" width="0.9" height="0.9" fill="#78dcc6"/>
<rect x="389.3" y="153.2" width="0.9" height="0.9" fill="#2cc89c"/>
<rect x="392.9" y="152.7" width="0.9" height="0.9" fill="#2cc89c"/>
<rect x="386.9" y="153.5" width="0.9" height="0.9" fill="#2cc89c"/>
<rect x="397.6" y="153.3" width="0.9" height="0.9" fill="#2cc89c"/>
<rect x="414.7" y="153.7" width="0.9" height="0.9" fill="#78dcc6"/>
<rect x="395.7" y="152.7" width="0.9" height="0.9" fill="#2cc89c"/>
<rect x="406.1" y="152.2" width="0.9" height="0.9" fill="#78dcc6"/>
<rect x="374.3" y="152.3" width="0.9" height="0.9" fill="#78dcc6"/>
<rect x="401.1" y="152.1" width="0.9" height="0.9" fill="#78dcc6"/>
<rect x="409.2" y="153.4" width="0.9" height="0.9" fill="#78dcc6"/>
<rect x="375.5" y="153.2" width="0.9" height="0.9" fill="#78dcc6"/>
<rect x="415.1" y="152.4" width="0.9" height="0.9" fill="#78dcc6"/>
<rect x="378.0" y="154.1" width="0.9" height="0.9" fill="#78dcc6"/>
<rect x="409.4" y="154.7" width="0.9" height="0.9" fill="#78dcc6"/>
<rect x="389.8" y="153.7" width="0.9" height="0.9" fill="#2cc89c"/>
<rect x="397.6" y="154.9" width="0.9" height="0.9" fill="#2cc89c"/>
<rect x="398.6" y="131.6" width="0.9" height="0.9" fill="#8cbc6c"/>
<rect x="403.2" y="127.9" width="0.9" height="0.9" fill="#8cbc6c"/>
<rect x="396.7" y="129.5" width="0.9" height="0.9" fill="#8cbc6c"/>
<rect x="397.8" y="131.6" width="0.9" height="0.9" fill="#8cbc6c"/>
<rect x="396.8" y="126.1" width="0.9" height="0.9" fill="#8cbc6c"/>
<rect x="401.0" y="131.8" width="0.9" height="0.9" fill="#8cbc6c"/>
<rect x="401.9" y="132.0" width="0.9" height="0.9" fill="#8cbc6c"/>
<rect x="403.7" y="127.5" width="0.9" height="0.9" fill="#8cbc6c"/>
<rect x="397.2" y="130.2" width="0.9" height="0.9" fill="#8cbc6c"/>
<rect x="402.3" y="124.3" width="0.9" height="0.9" fill="#8cbc6c"/>
<rect x="402.7" y="124.5" width="0.9" height="0.9" fill="#8cbc6c"/>
<rect x="401.7" y="131.7" width="0.9" height="0.9" fill="#8cbc6c"/>
<rect x="401.7" y="131.6" width="0.9" height="0.9" fill="#8cbc6c"/>
<rect x="401.5" y="124.1" width="0.9" height="0.9" fill="#8cbc6c"/>
<rect x="403.3" y="126.1" width="0.9" height="0.9" fill="#8cbc6c"/>
<rect x="400.3" y="132.8" width="0.9" height="0.9" fill="#8cbc6c"/>
<rect x="403.6" y="126.5" width="0.9" height="0.9" fill="#8cbc6c"/>
<rect x="397.4" y="130.9" width="0.9" height="0.9" fill="#8cbc6c"/>
<rect x="402.1" y="124.7" width="0.9" height="0.9" fill="#8cbc6c"/>
<rect x="399.5" y="132.7" width="0.9" height="0.9" fill="#8cbc6c"/>
<rect x="401.9" y="124.2" width="0.9" height="0.9" fill="#8cbc6c"/>
<rect x="396.7" y="126.8" width="0.9" height="0.9" fill="#8cbc6c"/>
<rect x="398.0" y="124.3" width="0.9" height="0.9" fill="#8cbc6c"/>
<rect x="398.2" y="124.5" width="0.9" height="0.9" fill="#8cbc6c"/>
<rect x="397.2" y="129.9" width="0.9" height="0.9" fill="#8cbc6c"/>
<rect x="396.3" y="129.3" width="0.9" height="0.9" fill="#8cbc6c"/>
<rect x="400.9" y="123.6" width="0.9" height="0.9" fill="#8cbc6c"/>
<rect x="403.6" y="127.6" width="0.9" height="0.9" fill="#8cbc6c"/>
<rect x="398.8" y="123.8" width="0.9" height="0.9" fill="#8cbc6c"/>
<rect x="399.8" y="123.7" width="0.9" height="0.9" fill="#8cbc6c"/>
<rect x="397.4" y="124.8" width="0.9" height="0.9" fill="#8cbc6c"/>
<rect x="399.7" y="132.1" width="0.9" height="0.9" fill="#8cbc6c"/>
<rect x="397.0" y="129.4" width="0.9" height="0.9" fill="#8cbc6c"/>
<rect x="397.7" y="131.7" width="0.9" height="0.9" fill="#8cbc6c"/>
<rect x="399.8" y="132.5" width="0.9" height="0.9" fill="#8cbc6c"/>
<rect x="403.5" y="128.7" width="0.9" height="0.9" fill="#8cbc6c"/>
<rect x="400.3" y="123.7" width="0.9" height="0.9" fill="#8cbc6c"/>
<rect x="399.5" y="132.7" width="0.9" height="0.9" fill="#8cbc6c"/>
<rect x="403.1" y="126.9" width="0.9" height="0.9" fill="#8cbc6c"/>
<rect x="399.4" y="132.5" width="0.9" height="0.9" fill="#8cbc6c"/>
<rect x="399.6" y="124.0" width="0.9" height="0.9" fill="#8cbc6c"/>
<rect x="403.8" y="128.6" width="0.9" height="0.9" fill="#8cbc6c"/>
<rect x="402.4" y="131.2" width="0.9" height="0.9" fill="#8cbc6c"/>
<rect x="400.8" y="132.5" width="0.9" height="0.9" fill="#8cbc6c"/>
<rect x="401.0" y="123.6" width="0.9" height="0.9" fill="#8cbc6c"/>
<rect x="400.3" y="132.1" width="0.9" height="0.9" fill="#8cbc6c"/>
<rect x="397.2" y="130.0" width="0.9" height="0.9" fill="#8cbc6c"/>
<rect x="401.4" y="132.0" width="0.9" height="0.9" fill="#8cbc6c"/>
<rect x="401.3" y="131.9" width="0.9" height="0.9" fill="#8cbc6c"/>
<rect x="385.0" y="142.2" width="0.9" height="0.9" fill="#8cbc6c"/>
<rect x="386.4" y="145.3" width="0.9" height="0.9" fill="#8cbc6c"/>
<rect x="388.1" y="144.3" width="0.9" height="0.9" fill="#8cbc6c"/>
<rect x="388.6" y="143.8" width="0.9" height="0.9" fill="#8cbc6c"/>
<rect x="384.0" y="142.5" width="0.9" height="0.9" fill="#8cbc6c"/>
<rect x="383.8" y="144.3" width="0.9" height="0.9" fill="#8cbc6c"/>
<rect x="387.7" y="142.2" width="0.9" height="0.9" fill="#8cbc6c"/>
<rect x="386.0" y="145.0" width="0.9" height="0.9" fill="#8cbc6c"/>
<rect x="398.1" y="125.9" width="0.9" height="0.9" fill="#d49a5c"/>
<rect x="399.1" y="131.1" width="0.9" height="0.9" fill="#d49a5c"/>
<rect x="402.5" y="126.5" width="0.9" height="0.9" fill="#d49a5c"/>
<rect x="398.8" y="131.2" width="0.9" height="0.9" fill="#d49a5c"/>
<rect x="403.0" y="127.7" width="0.9" height="0.9" fill="#d49a5c"/>
<rect x="402.0" y="126.1" width="0.9" height="0.9" fill="#d49a5c"/>
<rect x="400.3" y="125.0" width="0.9" height="0.9" fill="#d49a5c"/>
<rect x="401.5" y="130.6" width="0.9" height="0.9" fill="#d49a5c"/>
<rect x="402.4" y="125.8" width="0.9" height="0.9" fill="#d49a5c"/>
<rect x="402.5" y="128.7" width="0.9" height="0.9" fill="#d49a5c"/>
<rect x="397.9" y="126.4" width="0.9" height="0.9" fill="#d49a5c"/>
<rect x="397.2" y="129.0" width="0.9" height="0.9" fill="#d49a5c"/>
<rect x="400.6" y="130.8" width="0.9" height="0.9" fill="#d49a5c"/>
<rect x="401.9" y="126.0" width="0.9" height="0.9" fill="#d49a5c"/>
<rect x="397.2" y="129.5" width="0.9" height="0.9" fill="#d49a5c"/>
<rect x="399.3" y="130.8" width="0.9" height="0.9" fill="#d49a5c"/>
<rect x="402.5" y="130.1" width="0.9" height="0.9" fill="#d49a5c"/>
<rect x="398.5" y="130.4" width="0.9" height="0.9" fill="#d49a5c"/>
<rect x="402.0" y="130.2" width="0.9" height="0.9" fill="#d49a5c"/>
<rect x="401.9" y="125.7" width="0.9" height="0.9" fill="#d49a5c"/>
<rect x="397.9" y="130.6" width="0.9" height="0.9" fill="#d49a5c"/>
<rect x="398.4" y="130.9" width="0.9" height="0.9" fill="#d49a5c"/>
<rect x="402.6" y="127.3" width="0.9" height="0.9" fill="#d49a5c"/>
<rect x="402.1" y="126.0" width="0.9" height="0.9" fill="#d49a5c"/>
<rect x="400.4" y="124.7" width="0.9" height="0.9" fill="#d49a5c"/>
<rect x="397.4" y="129.9" width="0.9" height="0.9" fill="#d49a5c"/>
<rect x="401.5" y="130.4" width="0.9" height="0.9" fill="#d49a5c"/>
<rect x="398.5" y="130.8" width="0.9" height="0.9" fill="#d49a5c"/>
<rect x="397.8" y="127.3" width="0.9" height="0.9" fill="#d49a5c"/>
<rect x="397.9" y="130.1" width="0.9" height="0.9" fill="#d49a5c"/>
<rect x="402.8" y="127.6" width="0.9" height="0.9" fill="#d49a5c"/>
<rect x="400.9" y="131.1" width="0.9" height="0.9" fill="#d49a5c"/>
<rect x="397.9" y="125.4" width="0.9" height="0.9" fill="#d49a5c"/>
<rect x="402.6" y="128.6" width="0.9" height="0.9" fill="#d49a5c"/>
<rect x="400.1" y="130.8" width="0.9" height="0.9" fill="#d49a5c"/>
<rect x="400.8" y="131.4" width="0.9" height="0.9" fill="#d49a5c"/>
<rect x="402.6" y="127.5" width="0.9" height="0.9" fill="#d49a5c"/>
<rect x="397.5" y="130.1" width="0.9" height="0.9" fill="#d49a5c"/>
<rect x="399.0" y="130.5" width="0.9" height="0.9" fill="#d49a5c"/>
<rect x="400.8" y="124.5" width="0.9" height="0.9" fill="#d49a5c"/>
<rect x="402.0" y="125.7" width="0.9" height="0.9" fill="#d49a5c"/>
<rect x="397.4" y="128.4" width="0.9" height="0.9" fill="#d49a5c"/>
<rect x="398.1" y="126.6" width="0.9" height="0.9" fill="#d49a5c"/>
<rect x="399.4" y="130.8" width="0.9" height="0.9" fill="#d49a5c"/>
<rect x="403.0" y="126.7" width="0.9" height="0.9" fill="#d49a5c"/>
<rect x="398.6" y="130.4" width="0.9" height="0.9" fill="#d49a5c"/>
<rect x="399.0" y="130.8" width="0.9" height="0.9" fill="#d49a5c"/>
<rect x="400.6" y="131.6" width="0.9" height="0.9" fill="#d49a5c"/>
<rect x="384.9" y="142.7" width="0.9" height="0.9" fill="#d49a5c"/>
<rect x="384.5" y="143.2" width="0.9" height="0.9" fill="#d49a5c"/>
<rect x="384.4" y="143.4" width="0.9" height="0.9" fill="#d49a5c"/>
<rect x="386.7" y="142.5" width="0.9" height="0.9" fill="#d49a5c"/>
<rect x="387.9" y="143.3" width="0.9" height="0.9" fill="#d49a5c"/>
<rect x="388.1" y="143.3" width="0.9" height="0.9" fill="#d49a5c"/>
<rect x="384.3" y="143.2" width="0.9" height="0.9" fill="#d49a5c"/>
<rect x="388.0" y="143.7" width="0.9" height="0.9" fill="#d49a5c"/>
<rect x="387.8" y="143.5" width="0.9" height="0.9" fill="#d49a5c"/>
<rect x="384.6" y="144.2" width="0.9" height="0.9" fill="#d49a5c"/>
<rect x="400.7" y="130.2" width="0.9" height="0.9" fill="#ee8462"/>
<rect x="400.5" y="125.7" width="0.9" height="0.9" fill="#ee8462"/>
<rect x="399.1" y="130.5" width="0.9" height="0.9" fill="#ee8462"/>
<rect x="399.2" y="127.8" width="0.9" height="0.9" fill="#ee8462"/>
<rect x="399.3" y="129.6" width="0.9" height="0.9" fill="#ee8462"/>
<rect x="398.9" y="126.2" width="0.9" height="0.9" fill="#ee8462"/>
<rect x="398.3" y="129.1" width="0.9" height="0.9" fill="#ee8462"/>
<rect x="400.5" y="129.3" width="0.9" height="0.9" fill="#ee8462"/>
<rect x="400.1" y="129.9" width="0.9" height="0.9" fill="#ee8462"/>
<rect x="399.9" y="125.5" width="0.9" height="0.9" fill="#ee8462"/>
<rect x="399.1" y="129.7" width="0.9" height="0.9" fill="#ee8462"/>
<rect x="400.1" y="125.5" width="0.9" height="0.9" fill="#ee8462"/>
<rect x="401.8" y="129.3" width="0.9" height="0.9" fill="#ee8462"/>
<rect x="398.8" y="126.6" width="0.9" height="0.9" fill="#ee8462"/>
<rect x="400.0" y="129.0" width="0.9" height="0.9" fill="#ee8462"/>
<rect x="401.9" y="126.9" width="0.9" height="0.9" fill="#ee8462"/>
<rect x="398.7" y="126.5" width="0.9" height="0.9" fill="#ee8462"/>
<rect x="401.3" y="126.6" width="0.9" height="0.9" fill="#ee8462"/>
<rect x="399.3" y="130.5" width="0.9" height="0.9" fill="#ee8462"/>
<rect x="399.9" y="127.8" width="0.9" height="0.9" fill="#ee8462"/>
<rect x="399.6" y="129.0" width="0.9" height="0.9" fill="#ee8462"/>
<rect x="401.2" y="127.6" width="0.9" height="0.9" fill="#ee8462"/>
<rect x="399.0" y="130.4" width="0.9" height="0.9" fill="#ee8462"/>
<rect x="399.6" y="129.7" width="0.9" height="0.9" fill="#ee8462"/>
<rect x="401.0" y="129.0" width="0.9" height="0.9" fill="#ee8462"/>
<rect x="398.4" y="127.0" width="0.9" height="0.9" fill="#ee8462"/>
<rect x="401.2" y="125.8" width="0.9" height="0.9" fill="#ee8462"/>
<rect x="399.5" y="129.2" width="0.9" height="0.9" fill="#ee8462"/>
<rect x="398.1" y="128.8" width="0.9" height="0.9" fill="#ee8462"/>
<rect x="400.9" y="130.3" width="0.9" height="0.9" fill="#ee8462"/>
<rect x="402.2" y="127.9" width="0.9" height="0.9" fill="#ee8462"/>
<rect x="399.7" y="129.0" width="0.9" height="0.9" fill="#ee8462"/>
<rect x="399.1" y="128.1" width="0.9" height="0.9" fill="#ee8462"/>
<rect x="401.2" y="129.6" width="0.9" height="0.9" fill="#ee8462"/>
<rect x="398.1" y="129.0" width="0.9" height="0.9" fill="#ee8462"/>
<rect x="398.7" y="126.2" width="0.9" height="0.9" fill="#ee8462"/>
<rect x="401.4" y="129.2" width="0.9" height="0.9" fill="#ee8462"/>
<rect x="398.7" y="130.1" width="0.9" height="0.9" fill="#ee8462"/>
<rect x="399.1" y="129.7" width="0.9" height="0.9" fill="#ee8462"/>
<rect x="399.3" y="128.4" width="0.9" height="0.9" fill="#ee8462"/>
<rect x="400.9" y="129.0" width="0.9" height="0.9" fill="#ee8462"/>
<rect x="399.4" y="126.0" width="0.9" height="0.9" fill="#ee8462"/>
<rect x="400.0" y="129.3" width="0.9" height="0.9" fill="#ee8462"/>
<rect x="400.8" y="128.7" width="0.9" height="0.9" fill="#ee8462"/>
<rect x="400.0" y="130.1" width="0.9" height="0.9" fill="#ee8462"/>
<rect x="399.7" y="128.5" width="0.9" height="0.9" fill="#ee8462"/>
<rect x="398.6" y="129.1" width="0.9" height="0.9" fill="#ee8462"/>
<rect x="401.0" y="129.8" width="0.9" height="0.9" fill="#ee8462"/>
<rect x="387.0" y="144.1" width="0.9" height="0.9" fill="#ee8462"/>
<rect x="385.3" y="143.4" width="0.9" height="0.9" fill="#ee8462"/>
<rect x="387.1" y="143.8" width="0.9" height="0.9" fill="#ee8462"/>
<rect x="385.6" y="143.6" width="0.9" height="0.9" fill="#ee8462"/>
<rect x="386.1" y="143.8" width="0.9" height="0.9" fill="#ee8462"/>
<rect x="385.9" y="143.0" width="0.9" height="0.9" fill="#ee8462"/>
<rect x="386.8" y="142.9" width="0.9" height="0.9" fill="#ee8462"/>
<rect x="384.9" y="144.1" width="0.9" height="0.9" fill="#ee8462"/>
<rect x="384.7" y="143.7" width="0.9" height="0.9" fill="#ee8462"/>
<rect x="386.4" y="142.6" width="0.9" height="0.9" fill="#ee8462"/>
<rect x="385.8" y="143.3" width="0.9" height="0.9" fill="#ee8462"/>
<rect x="386.2" y="143.3" width="0.9" height="0.9" fill="#ee8462"/>
<rect x="391.1" y="110.2" width="23.299999999999955" height="28.200000000000003" fill="none" stroke="#151515" stroke-width="1.2" />
<text x="398.6" y="120.4" font-size="7.2" text-anchor="start" font-weight="normal" fill="#111" stroke="#111" >70%</text>
<line x1="360.7" y1="162.6" x2="360.7" y2="121.4" stroke="#111" stroke-width="1.4" />
<path d="M358.2,122.9 L360.7,117.4 L363.2,122.9 Z" fill="#111"/>
<line x1="360.7" y1="162.6" x2="404" y2="162.6" stroke="#111" stroke-width="1.4" />
<path d="M402.5,160.1 L408,162.6 L402.5,165.1 Z" fill="#111"/>
<text x="359.09999999999997" y="140.7" font-size="7.5" text-anchor="middle" fill="#222" stroke="#222" transform="rotate(-90 359.09999999999997 140.7)">Sca-1</text>
<text x="385.35" y="173.3" font-size="7.7" text-anchor="middle" font-weight="normal" fill="#222" stroke="#222" >c-kit</text>
<rect x="458.4" y="109.3" width="51.60000000000002" height="49.2" fill="#fff" stroke="#cfcfcf" stroke-width="0.8" />
<line x1="468.71999999999997" y1="158.5" x2="468.71999999999997" y2="157.3" stroke="#bbb" stroke-width="0.6" />
<line x1="458.4" y1="148.66" x2="459.59999999999997" y2="148.66" stroke="#bbb" stroke-width="0.6" />
<line x1="479.03999999999996" y1="158.5" x2="479.03999999999996" y2="157.3" stroke="#bbb" stroke-width="0.6" />
<line x1="458.4" y1="138.82" x2="459.59999999999997" y2="138.82" stroke="#bbb" stroke-width="0.6" />
<line x1="489.36" y1="158.5" x2="489.36" y2="157.3" stroke="#bbb" stroke-width="0.6" />
<line x1="458.4" y1="128.98" x2="459.59999999999997" y2="128.98" stroke="#bbb" stroke-width="0.6" />
<line x1="499.68" y1="158.5" x2="499.68" y2="157.3" stroke="#bbb" stroke-width="0.6" />
<line x1="458.4" y1="119.14" x2="459.59999999999997" y2="119.14" stroke="#bbb" stroke-width="0.6" />
<ellipse cx="492.5" cy="129.5" rx="5.319999999999999" ry="7.699999999999999" fill="#8fe4cc" opacity="0.4" filter="url(#bl)" transform="rotate(0 492.5 129.5)"/>
<ellipse cx="477" cy="146.5" rx="8.399999999999999" ry="6.3" fill="#8fe4cc" opacity="0.4" filter="url(#bl)" transform="rotate(-45 477 146.5)"/>
<ellipse cx="489" cy="149" rx="3.5" ry="7.0" fill="#8fe4cc" opacity="0.4" filter="url(#bl)" transform="rotate(0 489 149)"/>
<rect x="496.0" y="129.0" width="0.9" height="0.9" fill="#2cc89c"/>
<rect x="494.8" y="133.1" width="0.9" height="0.9" fill="#2cc89c"/>
<rect x="487.5" y="138.0" width="0.9" height="0.9" fill="#78dcc6"/>
<rect x="487.0" y="125.6" width="0.9" height="0.9" fill="#78dcc6"/>
<rect x="495.8" y="128.5" width="0.9" height="0.9" fill="#2cc89c"/>
<rect x="492.6" y="118.5" width="0.9" height="0.9" fill="#78dcc6"/>
<rect x="498.8" y="124.1" width="0.9" height="0.9" fill="#78dcc6"/>
<rect x="495.7" y="133.9" width="0.9" height="0.9" fill="#78dcc6"/>
<rect x="486.0" y="133.3" width="0.9" height="0.9" fill="#78dcc6"/>
<rect x="489.7" y="133.6" width="0.9" height="0.9" fill="#2cc89c"/>
<rect x="486.9" y="126.0" width="0.9" height="0.9" fill="#78dcc6"/>
<rect x="499.0" y="129.6" width="0.9" height="0.9" fill="#78dcc6"/>
<rect x="491.6" y="134.3" width="0.9" height="0.9" fill="#2cc89c"/>
<rect x="484.7" y="126.9" width="0.9" height="0.9" fill="#78dcc6"/>
<rect x="490.0" y="134.4" width="0.9" height="0.9" fill="#2cc89c"/>
<rect x="498.2" y="135.8" width="0.9" height="0.9" fill="#78dcc6"/>
<rect x="496.5" y="135.0" width="0.9" height="0.9" fill="#78dcc6"/>
<rect x="500.6" y="135.1" width="0.9" height="0.9" fill="#78dcc6"/>
<rect x="488.6" y="132.4" width="0.9" height="0.9" fill="#2cc89c"/>
<rect x="488.7" y="120.5" width="0.9" height="0.9" fill="#78dcc6"/>
<rect x="484.9" y="120.6" width="0.9" height="0.9" fill="#78dcc6"/>
<rect x="492.9" y="135.8" width="0.9" height="0.9" fill="#78dcc6"/>
<rect x="487.9" y="132.4" width="0.9" height="0.9" fill="#78dcc6"/>
<rect x="492.9" y="122.6" width="0.9" height="0.9" fill="#78dcc6"/>
<rect x="494.8" y="132.7" width="0.9" height="0.9" fill="#2cc89c"/>
<rect x="495.0" y="132.3" width="0.9" height="0.9" fill="#2cc89c"/>
<rect x="485.4" y="133.5" width="0.9" height="0.9" fill="#78dcc6"/>
<rect x="486.3" y="132.3" width="0.9" height="0.9" fill="#78dcc6"/>
<rect x="490.4" y="135.5" width="0.9" height="0.9" fill="#78dcc6"/>
<rect x="486.6" y="133.2" width="0.9" height="0.9" fill="#78dcc6"/>
<rect x="492.3" y="134.5" width="0.9" height="0.9" fill="#2cc89c"/>
<rect x="489.6" y="117.0" width="0.9" height="0.9" fill="#78dcc6"/>
<rect x="495.9" y="129.3" width="0.9" height="0.9" fill="#2cc89c"/>
<rect x="499.9" y="132.0" width="0.9" height="0.9" fill="#78dcc6"/>
<rect x="497.2" y="120.4" width="0.9" height="0.9" fill="#78dcc6"/>
<rect x="497.1" y="132.7" width="0.9" height="0.9" fill="#78dcc6"/>
<rect x="488.1" y="128.7" width="0.9" height="0.9" fill="#2cc89c"/>
<rect x="494.9" y="133.9" width="0.9" height="0.9" fill="#2cc89c"/>
<rect x="486.5" y="124.3" width="0.9" height="0.9" fill="#78dcc6"/>
<rect x="489.7" y="143.4" width="0.9" height="0.9" fill="#78dcc6"/>
<rect x="488.7" y="119.9" width="0.9" height="0.9" fill="#78dcc6"/>
<rect x="491.6" y="138.1" width="0.9" height="0.9" fill="#78dcc6"/>
<rect x="487.2" y="125.7" width="0.9" height="0.9" fill="#78dcc6"/>
<rect x="487.2" y="117.4" width="0.9" height="0.9" fill="#78dcc6"/>
<rect x="493.3" y="122.6" width="0.9" height="0.9" fill="#78dcc6"/>
<rect x="493.8" y="134.9" width="0.9" height="0.9" fill="#2cc89c"/>
<rect x="487.7" y="131.3" width="0.9" height="0.9" fill="#78dcc6"/>
<rect x="497.0" y="127.9" width="0.9" height="0.9" fill="#78dcc6"/>
<rect x="492.3" y="122.8" width="0.9" height="0.9" fill="#2cc89c"/>
<rect x="488.6" y="126.9" width="0.9" height="0.9" fill="#2cc89c"/>
<rect x="492.4" y="123.5" width="0.9" height="0.9" fill="#2cc89c"/>
<rect x="491.0" y="121.1" width="0.9" height="0.9" fill="#78dcc6"/>
<rect x="495.6" y="131.0" width="0.9" height="0.9" fill="#2cc89c"/>
<rect x="495.2" y="132.7" width="0.9" height="0.9" fill="#2cc89c"/>
<rect x="495.2" y="135.1" width="0.9" height="0.9" fill="#78dcc6"/>
<rect x="483.0" y="125.1" width="0.9" height="0.9" fill="#78dcc6"/>
<rect x="500.0" y="119.8" width="0.9" height="0.9" fill="#78dcc6"/>
<rect x="483.5" y="122.9" width="0.9" height="0.9" fill="#78dcc6"/>
<rect x="497.8" y="125.8" width="0.9" height="0.9" fill="#78dcc6"/>
<rect x="495.1" y="136.0" width="0.9" height="0.9" fill="#78dcc6"/>
<rect x="491.2" y="135.0" width="0.9" height="0.9" fill="#2cc89c"/>
<rect x="496.4" y="125.4" width="0.9" height="0.9" fill="#78dcc6"/>
<rect x="487.2" y="119.8" width="0.9" height="0.9" fill="#78dcc6"/>
<rect x="487.7" y="137.4" width="0.9" height="0.9" fill="#78dcc6"/>
<rect x="497.1" y="132.5" width="0.9" height="0.9" fill="#78dcc6"/>
<rect x="499.1" y="131.6" width="0.9" height="0.9" fill="#78dcc6"/>
<rect x="498.1" y="125.9" width="0.9" height="0.9" fill="#78dcc6"/>
<rect x="487.0" y="139.7" width="0.9" height="0.9" fill="#78dcc6"/>
<rect x="495.9" y="133.8" width="0.9" height="0.9" fill="#78dcc6"/>
<rect x="483.2" y="133.4" width="0.9" height="0.9" fill="#78dcc6"/>
<rect x="485.1" y="125.9" width="0.9" height="0.9" fill="#78dcc6"/>
<rect x="497.4" y="133.5" width="0.9" height="0.9" fill="#78dcc6"/>
<rect x="484.7" y="129.4" width="0.9" height="0.9" fill="#78dcc6"/>
<rect x="488.5" y="128.0" width="0.9" height="0.9" fill="#2cc89c"/>
<rect x="498.5" y="132.8" width="0.9" height="0.9" fill="#78dcc6"/>
<rect x="499.8" y="130.8" width="0.9" height="0.9" fill="#78dcc6"/>
<rect x="494.7" y="137.4" width="0.9" height="0.9" fill="#78dcc6"/>
<rect x="496.4" y="121.7" width="0.9" height="0.9" fill="#78dcc6"/>
<rect x="497.7" y="130.4" width="0.9" height="0.9" fill="#78dcc6"/>
<rect x="485.2" y="131.4" width="0.9" height="0.9" fill="#78dcc6"/>
<rect x="496.1" y="133.4" width="0.9" height="0.9" fill="#78dcc6"/>
<rect x="488.9" y="139.0" width="0.9" height="0.9" fill="#78dcc6"/>
<rect x="487.4" y="124.1" width="0.9" height="0.9" fill="#78dcc6"/>
<rect x="502.4" y="123.8" width="0.9" height="0.9" fill="#78dcc6"/>
<rect x="488.7" y="126.3" width="0.9" height="0.9" fill="#2cc89c"/>
<rect x="496.0" y="136.7" width="0.9" height="0.9" fill="#78dcc6"/>
<rect x="500.2" y="121.3" width="0.9" height="0.9" fill="#78dcc6"/>
<rect x="496.3" y="127.1" width="0.9" height="0.9" fill="#2cc89c"/>
<rect x="487.2" y="128.7" width="0.9" height="0.9" fill="#78dcc6"/>
<rect x="494.3" y="134.1" width="0.9" height="0.9" fill="#2cc89c"/>
<rect x="493.5" y="135.2" width="0.9" height="0.9" fill="#2cc89c"/>
<rect x="484.9" y="129.5" width="0.9" height="0.9" fill="#78dcc6"/>
<rect x="498.3" y="126.6" width="0.9" height="0.9" fill="#78dcc6"/>
<rect x="493.7" y="140.8" width="0.9" height="0.9" fill="#78dcc6"/>
<rect x="494.4" y="137.7" width="0.9" height="0.9" fill="#78dcc6"/>
<rect x="483.8" y="127.9" width="0.9" height="0.9" fill="#78dcc6"/>
<rect x="486.4" y="130.0" width="0.9" height="0.9" fill="#78dcc6"/>
<rect x="497.1" y="117.3" width="0.9" height="0.9" fill="#78dcc6"/>
<rect x="494.8" y="133.5" width="0.9" height="0.9" fill="#2cc89c"/>
<rect x="495.7" y="116.0" width="0.9" height="0.9" fill="#78dcc6"/>
<rect x="495.6" y="126.0" width="0.9" height="0.9" fill="#2cc89c"/>
<rect x="489.1" y="135.9" width="0.9" height="0.9" fill="#78dcc6"/>
<rect x="495.3" y="133.8" width="0.9" height="0.9" fill="#78dcc6"/>
<rect x="483.7" y="129.9" width="0.9" height="0.9" fill="#78dcc6"/>
<rect x="486.0" y="126.7" width="0.9" height="0.9" fill="#78dcc6"/>
<rect x="497.9" y="127.0" width="0.9" height="0.9" fill="#78dcc6"/>
<rect x="491.6" y="136.4" width="0.9" height="0.9" fill="#78dcc6"/>
<rect x="482.8" y="134.2" width="0.9" height="0.9" fill="#78dcc6"/>
<rect x="492.6" y="134.5" width="0.9" height="0.9" fill="#2cc89c"/>
<rect x="492.0" y="135.4" width="0.9" height="0.9" fill="#2cc89c"/>
<rect x="498.3" y="131.5" width="0.9" height="0.9" fill="#78dcc6"/>
<rect x="498.1" y="112.7" width="0.9" height="0.9" fill="#78dcc6"/>
<rect x="485.1" y="130.1" width="0.9" height="0.9" fill="#78dcc6"/>
<rect x="493.2" y="114.4" width="0.9" height="0.9" fill="#78dcc6"/>
<rect x="495.9" y="123.4" width="0.9" height="0.9" fill="#78dcc6"/>
<rect x="492.8" y="134.5" width="0.9" height="0.9" fill="#2cc89c"/>
<rect x="495.2" y="133.1" width="0.9" height="0.9" fill="#2cc89c"/>
<rect x="486.9" y="133.4" width="0.9" height="0.9" fill="#78dcc6"/>
<rect x="486.0" y="127.0" width="0.9" height="0.9" fill="#78dcc6"/>
<rect x="497.8" y="130.1" width="0.9" height="0.9" fill="#78dcc6"/>
<rect x="484.9" y="125.7" width="0.9" height="0.9" fill="#78dcc6"/>
<rect x="495.8" y="131.0" width="0.9" height="0.9" fill="#2cc89c"/>
<rect x="487.9" y="135.2" width="0.9" height="0.9" fill="#78dcc6"/>
<rect x="499.1" y="128.0" width="0.9" height="0.9" fill="#78dcc6"/>
<rect x="495.9" y="128.2" width="0.9" height="0.9" fill="#2cc89c"/>
<rect x="500.9" y="134.4" width="0.9" height="0.9" fill="#78dcc6"/>
<rect x="490.5" y="122.4" width="0.9" height="0.9" fill="#78dcc6"/>
<rect x="496.7" y="121.8" width="0.9" height="0.9" fill="#78dcc6"/>
<rect x="493.1" y="123.3" width="0.9" height="0.9" fill="#2cc89c"/>
<rect x="493.4" y="122.1" width="0.9" height="0.9" fill="#78dcc6"/>
<rect x="488.9" y="138.2" width="0.9" height="0.9" fill="#78dcc6"/>
<rect x="488.9" y="125.8" width="0.9" height="0.9" fill="#2cc89c"/>
<rect x="495.7" y="122.3" width="0.9" height="0.9" fill="#78dcc6"/>
<rect x="494.6" y="125.0" width="0.9" height="0.9" fill="#2cc89c"/>
<rect x="488.3" y="132.1" width="0.9" height="0.9" fill="#2cc89c"/>
<rect x="488.8" y="134.8" width="0.9" height="0.9" fill="#78dcc6"/>
<rect x="497.6" y="132.5" width="0.9" height="0.9" fill="#78dcc6"/>
<rect x="488.5" y="125.1" width="0.9" height="0.9" fill="#2cc89c"/>
<rect x="500.8" y="123.9" width="0.9" height="0.9" fill="#78dcc6"/>
<rect x="487.2" y="127.0" width="0.9" height="0.9" fill="#78dcc6"/>
<rect x="488.2" y="128.9" width="0.9" height="0.9" fill="#2cc89c"/>
<rect x="489.2" y="116.8" width="0.9" height="0.9" fill="#78dcc6"/>
<rect x="485.9" y="123.3" width="0.9" height="0.9" fill="#78dcc6"/>
<rect x="488.4" y="123.0" width="0.9" height="0.9" fill="#78dcc6"/>
<rect x="494.7" y="133.4" width="0.9" height="0.9" fill="#2cc89c"/>
<rect x="493.1" y="122.1" width="0.9" height="0.9" fill="#78dcc6"/>
<rect x="495.8" y="131.5" width="0.9" height="0.9" fill="#2cc89c"/>
<rect x="488.5" y="130.7" width="0.9" height="0.9" fill="#2cc89c"/>
<rect x="494.4" y="124.6" width="0.9" height="0.9" fill="#2cc89c"/>
<rect x="491.7" y="122.1" width="0.9" height="0.9" fill="#78dcc6"/>
<rect x="487.8" y="131.4" width="0.9" height="0.9" fill="#78dcc6"/>
<rect x="499.3" y="129.2" width="0.9" height="0.9" fill="#78dcc6"/>
<rect x="498.3" y="126.0" width="0.9" height="0.9" fill="#78dcc6"/>
<rect x="488.0" y="125.6" width="0.9" height="0.9" fill="#78dcc6"/>
<rect x="497.1" y="127.6" width="0.9" height="0.9" fill="#78dcc6"/>
<rect x="485.1" y="130.0" width="0.9" height="0.9" fill="#78dcc6"/>
<rect x="491.5" y="136.8" width="0.9" height="0.9" fill="#78dcc6"/>
<rect x="497.3" y="125.7" width="0.9" height="0.9" fill="#78dcc6"/>
<rect x="492.5" y="139.0" width="0.9" height="0.9" fill="#78dcc6"/>
<rect x="492.6" y="136.5" width="0.9" height="0.9" fill="#78dcc6"/>
<rect x="491.4" y="134.8" width="0.9" height="0.9" fill="#2cc89c"/>
<rect x="485.1" y="127.5" width="0.9" height="0.9" fill="#78dcc6"/>
<rect x="500.2" y="134.1" width="0.9" height="0.9" fill="#78dcc6"/>
<rect x="497.9" y="128.3" width="0.9" height="0.9" fill="#78dcc6"/>
<rect x="489.8" y="134.2" width="0.9" height="0.9" fill="#2cc89c"/>
<rect x="489.0" y="133.8" width="0.9" height="0.9" fill="#2cc89c"/>
<rect x="497.1" y="127.9" width="0.9" height="0.9" fill="#78dcc6"/>
<rect x="488.0" y="130.5" width="0.9" height="0.9" fill="#2cc89c"/>
<rect x="488.3" y="137.4" width="0.9" height="0.9" fill="#78dcc6"/>
<rect x="499.5" y="120.6" width="0.9" height="0.9" fill="#78dcc6"/>
<rect x="489.1" y="124.4" width="0.9" height="0.9" fill="#2cc89c"/>
<rect x="492.8" y="116.2" width="0.9" height="0.9" fill="#78dcc6"/>
<rect x="497.7" y="136.7" width="0.9" height="0.9" fill="#78dcc6"/>
<rect x="498.1" y="144.8" width="0.9" height="0.9" fill="#78dcc6"/>
<rect x="492.3" y="137.5" width="0.9" height="0.9" fill="#78dcc6"/>
<rect x="499.9" y="130.2" width="0.9" height="0.9" fill="#78dcc6"/>
<rect x="497.6" y="116.4" width="0.9" height="0.9" fill="#78dcc6"/>
<rect x="497.8" y="131.7" width="0.9" height="0.9" fill="#78dcc6"/>
<rect x="494.3" y="122.1" width="0.9" height="0.9" fill="#78dcc6"/>
<rect x="491.9" y="122.6" width="0.9" height="0.9" fill="#2cc89c"/>
<rect x="497.7" y="126.1" width="0.9" height="0.9" fill="#78dcc6"/>
<rect x="487.1" y="126.6" width="0.9" height="0.9" fill="#78dcc6"/>
<rect x="491.8" y="123.3" width="0.9" height="0.9" fill="#2cc89c"/>
<rect x="487.4" y="128.3" width="0.9" height="0.9" fill="#78dcc6"/>
<rect x="487.7" y="120.0" width="0.9" height="0.9" fill="#78dcc6"/>
<rect x="486.6" y="131.5" width="0.9" height="0.9" fill="#78dcc6"/>
<rect x="490.1" y="137.1" width="0.9" height="0.9" fill="#78dcc6"/>
<rect x="485.9" y="123.6" width="0.9" height="0.9" fill="#78dcc6"/>
<rect x="496.6" y="131.6" width="0.9" height="0.9" fill="#78dcc6"/>
<rect x="495.4" y="133.4" width="0.9" height="0.9" fill="#78dcc6"/>
<rect x="488.4" y="128.6" width="0.9" height="0.9" fill="#2cc89c"/>
<rect x="493.7" y="123.7" width="0.9" height="0.9" fill="#2cc89c"/>
<rect x="486.4" y="140.1" width="0.9" height="0.9" fill="#78dcc6"/>
<rect x="495.6" y="133.0" width="0.9" height="0.9" fill="#2cc89c"/>
<rect x="497.3" y="127.7" width="0.9" height="0.9" fill="#78dcc6"/>
<rect x="493.3" y="118.4" width="0.9" height="0.9" fill="#78dcc6"/>
<rect x="485.7" y="131.1" width="0.9" height="0.9" fill="#78dcc6"/>
<rect x="493.8" y="124.2" width="0.9" height="0.9" fill="#2cc89c"/>
<rect x="487.3" y="126.2" width="0.9" height="0.9" fill="#78dcc6"/>
<rect x="493.2" y="115.1" width="0.9" height="0.9" fill="#78dcc6"/>
<rect x="490.1" y="139.5" width="0.9" height="0.9" fill="#78dcc6"/>
<rect x="477.3" y="150.3" width="0.9" height="0.9" fill="#2cc89c"/>
<rect x="481.3" y="142.0" width="0.9" height="0.9" fill="#78dcc6"/>
<rect x="468.7" y="148.2" width="0.9" height="0.9" fill="#78dcc6"/>
<rect x="484.9" y="141.0" width="0.9" height="0.9" fill="#78dcc6"/>
<rect x="490.6" y="140.9" width="0.9" height="0.9" fill="#78dcc6"/>
<rect x="472.7" y="149.3" width="0.9" height="0.9" fill="#2cc89c"/>
<rect x="471.6" y="146.9" width="0.9" height="0.9" fill="#2cc89c"/>
<rect x="483.3" y="143.6" width="0.9" height="0.9" fill="#78dcc6"/>
<rect x="471.3" y="150.1" width="0.9" height="0.9" fill="#78dcc6"/>
<rect x="466.5" y="149.0" width="0.9" height="0.9" fill="#78dcc6"/>
<rect x="480.9" y="141.5" width="0.9" height="0.9" fill="#78dcc6"/>
<rect x="483.8" y="137.3" width="0.9" height="0.9" fill="#78dcc6"/>
<rect x="483.9" y="143.7" width="0.9" height="0.9" fill="#78dcc6"/>
<rect x="466.4" y="154.1" width="0.9" height="0.9" fill="#78dcc6"/>
<rect x="485.3" y="138.3" width="0.9" height="0.9" fill="#78dcc6"/>
<rect x="487.2" y="137.0" width="0.9" height="0.9" fill="#78dcc6"/>
<rect x="482.1" y="145.5" width="0.9" height="0.9" fill="#2cc89c"/>
<rect x="469.0" y="150.4" width="0.9" height="0.9" fill="#78dcc6"/>
<rect x="474.4" y="151.0" width="0.9" height="0.9" fill="#2cc89c"/>
<rect x="471.3" y="145.2" width="0.9" height="0.9" fill="#2cc89c"/>
<rect x="485.4" y="141.4" width="0.9" height="0.9" fill="#78dcc6"/>
<rect x="476.5" y="150.0" width="0.9" height="0.9" fill="#2cc89c"/>
<rect x="472.7" y="154.3" width="0.9" height="0.9" fill="#78dcc6"/>
<rect x="480.6" y="142.4" width="0.9" height="0.9" fill="#2cc89c"/>
<rect x="481.4" y="141.2" width="0.9" height="0.9" fill="#78dcc6"/>
<rect x="486.9" y="145.3" width="0.9" height="0.9" fill="#78dcc6"/>
<rect x="471.3" y="149.0" width="0.9" height="0.9" fill="#2cc89c"/>
<rect x="479.3" y="150.3" width="0.9" height="0.9" fill="#2cc89c"/>
<rect x="471.2" y="150.6" width="0.9" height="0.9" fill="#78dcc6"/>
<rect x="481.0" y="143.8" width="0.9" height="0.9" fill="#2cc89c"/>
<rect x="479.3" y="142.2" width="0.9" height="0.9" fill="#2cc89c"/>
<rect x="478.5" y="151.7" width="0.9" height="0.9" fill="#78dcc6"/>
<rect x="477.9" y="140.6" width="0.9" height="0.9" fill="#78dcc6"/>
<rect x="470.7" y="149.9" width="0.9" height="0.9" fill="#78dcc6"/>
<rect x="465.4" y="154.9" width="0.9" height="0.9" fill="#78dcc6"/>
<rect x="470.1" y="148.4" width="0.9" height="0.9" fill="#78dcc6"/>
<rect x="485.7" y="139.1" width="0.9" height="0.9" fill="#78dcc6"/>
<rect x="471.6" y="147.1" width="0.9" height="0.9" fill="#2cc89c"/>
<rect x="485.2" y="138.3" width="0.9" height="0.9" fill="#78dcc6"/>
<rect x="480.0" y="150.1" width="0.9" height="0.9" fill="#2cc89c"/>
<rect x="484.2" y="142.8" width="0.9" height="0.9" fill="#78dcc6"/>
<rect x="487.9" y="141.9" width="0.9" height="0.9" fill="#78dcc6"/>
<rect x="467.7" y="147.9" width="0.9" height="0.9" fill="#78dcc6"/>
<rect x="470.0" y="147.3" width="0.9" height="0.9" fill="#2cc89c"/>
<rect x="484.0" y="146.1" width="0.9" height="0.9" fill="#78dcc6"/>
<rect x="471.7" y="145.2" width="0.9" height="0.9" fill="#2cc89c"/>
<rect x="479.3" y="140.5" width="0.9" height="0.9" fill="#78dcc6"/>
<rect x="470.5" y="148.6" width="0.9" height="0.9" fill="#2cc89c"/>
<rect x="484.8" y="138.0" width="0.9" height="0.9" fill="#78dcc6"/>
<rect x="470.4" y="145.8" width="0.9" height="0.9" fill="#2cc89c"/>
<rect x="474.0" y="149.5" width="0.9" height="0.9" fill="#2cc89c"/>
<rect x="472.2" y="149.1" width="0.9" height="0.9" fill="#2cc89c"/>
<rect x="481.7" y="145.1" width="0.9" height="0.9" fill="#2cc89c"/>
<rect x="470.0" y="148.3" width="0.9" height="0.9" fill="#78dcc6"/>
<rect x="485.6" y="145.2" width="0.9" height="0.9" fill="#78dcc6"/>
<rect x="469.1" y="146.7" width="0.9" height="0.9" fill="#78dcc6"/>
<rect x="464.7" y="154.0" width="0.9" height="0.9" fill="#78dcc6"/>
<rect x="481.4" y="141.2" width="0.9" height="0.9" fill="#78dcc6"/>
<rect x="477.9" y="142.4" width="0.9" height="0.9" fill="#2cc89c"/>
<rect x="473.3" y="142.6" width="0.9" height="0.9" fill="#2cc89c"/>
<rect x="482.0" y="144.0" width="0.9" height="0.9" fill="#2cc89c"/>
<rect x="483.0" y="146.9" width="0.9" height="0.9" fill="#2cc89c"/>
<rect x="480.0" y="142.8" width="0.9" height="0.9" fill="#2cc89c"/>
<rect x="490.3" y="137.0" width="0.9" height="0.9" fill="#78dcc6"/>
<rect x="472.3" y="150.5" width="0.9" height="0.9" fill="#78dcc6"/>
<rect x="486.2" y="139.5" width="0.9" height="0.9" fill="#78dcc6"/>
<rect x="474.6" y="141.3" width="0.9" height="0.9" fill="#2cc89c"/>
<rect x="489.0" y="142.2" width="0.9" height="0.9" fill="#78dcc6"/>
<rect x="477.1" y="149.9" width="0.9" height="0.9" fill="#2cc89c"/>
<rect x="463.3" y="156.7" width="0.9" height="0.9" fill="#78dcc6"/>
<rect x="478.1" y="142.5" width="0.9" height="0.9" fill="#2cc89c"/>
<rect x="474.0" y="150.8" width="0.9" height="0.9" fill="#2cc89c"/>
<rect x="472.4" y="150.2" width="0.9" height="0.9" fill="#2cc89c"/>
<rect x="480.9" y="148.2" width="0.9" height="0.9" fill="#2cc89c"/>
<rect x="479.8" y="150.5" width="0.9" height="0.9" fill="#2cc89c"/>
<rect x="481.1" y="143.6" width="0.9" height="0.9" fill="#2cc89c"/>
<rect x="483.6" y="137.4" width="0.9" height="0.9" fill="#78dcc6"/>
<rect x="471.4" y="145.7" width="0.9" height="0.9" fill="#2cc89c"/>
<rect x="478.8" y="140.9" width="0.9" height="0.9" fill="#78dcc6"/>
<rect x="482.7" y="146.2" width="0.9" height="0.9" fill="#2cc89c"/>
<rect x="484.7" y="139.7" width="0.9" height="0.9" fill="#78dcc6"/>
<rect x="478.3" y="149.7" width="0.9" height="0.9" fill="#2cc89c"/>
<rect x="475.2" y="150.1" width="0.9" height="0.9" fill="#2cc89c"/>
<rect x="470.9" y="153.9" width="0.9" height="0.9" fill="#78dcc6"/>
<rect x="470.9" y="153.3" width="0.9" height="0.9" fill="#78dcc6"/>
<rect x="482.4" y="147.9" width="0.9" height="0.9" fill="#2cc89c"/>
<rect x="469.8" y="145.9" width="0.9" height="0.9" fill="#2cc89c"/>
<rect x="485.8" y="135.2" width="0.9" height="0.9" fill="#78dcc6"/>
<rect x="482.9" y="139.9" width="0.9" height="0.9" fill="#78dcc6"/>
<rect x="481.8" y="142.5" width="0.9" height="0.9" fill="#78dcc6"/>
<rect x="483.1" y="141.2" width="0.9" height="0.9" fill="#78dcc6"/>
<rect x="481.2" y="141.6" width="0.9" height="0.9" fill="#78dcc6"/>
<rect x="482.3" y="139.1" width="0.9" height="0.9" fill="#78dcc6"/>
<rect x="472.3" y="150.0" width="0.9" height="0.9" fill="#2cc89c"/>
<rect x="484.6" y="139.6" width="0.9" height="0.9" fill="#78dcc6"/>
<rect x="474.0" y="150.5" width="0.9" height="0.9" fill="#2cc89c"/>
<rect x="473.8" y="152.9" width="0.9" height="0.9" fill="#78dcc6"/>
<rect x="468.9" y="149.2" width="0.9" height="0.9" fill="#78dcc6"/>
<rect x="483.4" y="137.4" width="0.9" height="0.9" fill="#78dcc6"/>
<rect x="482.6" y="143.6" width="0.9" height="0.9" fill="#2cc89c"/>
<rect x="482.1" y="136.6" width="0.9" height="0.9" fill="#78dcc6"/>
<rect x="474.2" y="152.3" width="0.9" height="0.9" fill="#78dcc6"/>
<rect x="476.6" y="142.3" width="0.9" height="0.9" fill="#2cc89c"/>
<rect x="482.2" y="145.6" width="0.9" height="0.9" fill="#2cc89c"/>
<rect x="466.0" y="156.9" width="0.9" height="0.9" fill="#78dcc6"/>
<rect x="472.8" y="143.4" width="0.9" height="0.9" fill="#2cc89c"/>
<rect x="474.3" y="149.7" width="0.9" height="0.9" fill="#2cc89c"/>
<rect x="487.7" y="140.4" width="0.9" height="0.9" fill="#78dcc6"/>
<rect x="468.4" y="144.0" width="0.9" height="0.9" fill="#78dcc6"/>
<rect x="465.8" y="151.1" width="0.9" height="0.9" fill="#78dcc6"/>
<rect x="482.7" y="144.5" width="0.9" height="0.9" fill="#2cc89c"/>
<rect x="482.5" y="143.4" width="0.9" height="0.9" fill="#2cc89c"/>
<rect x="472.7" y="152.1" width="0.9" height="0.9" fill="#78dcc6"/>
<rect x="469.7" y="150.7" width="0.9" height="0.9" fill="#78dcc6"/>
<rect x="484.0" y="143.1" width="0.9" height="0.9" fill="#78dcc6"/>
<rect x="482.4" y="142.2" width="0.9" height="0.9" fill="#78dcc6"/>
<rect x="483.0" y="139.0" width="0.9" height="0.9" fill="#78dcc6"/>
<rect x="473.1" y="149.4" width="0.9" height="0.9" fill="#2cc89c"/>
<rect x="486.0" y="142.4" width="0.9" height="0.9" fill="#78dcc6"/>
<rect x="482.0" y="145.0" width="0.9" height="0.9" fill="#2cc89c"/>
<rect x="481.4" y="148.1" width="0.9" height="0.9" fill="#2cc89c"/>
<rect x="470.6" y="149.6" width="0.9" height="0.9" fill="#78dcc6"/>
<rect x="468.1" y="156.0" width="0.9" height="0.9" fill="#78dcc6"/>
<rect x="493.9" y="136.7" width="0.9" height="0.9" fill="#78dcc6"/>
<rect x="471.9" y="150.2" width="0.9" height="0.9" fill="#78dcc6"/>
<rect x="481.3" y="140.9" width="0.9" height="0.9" fill="#78dcc6"/>
<rect x="464.7" y="155.2" width="0.9" height="0.9" fill="#78dcc6"/>
<rect x="482.6" y="142.3" width="0.9" height="0.9" fill="#78dcc6"/>
<rect x="470.9" y="151.5" width="0.9" height="0.9" fill="#78dcc6"/>
<rect x="462.7" y="151.8" width="0.9" height="0.9" fill="#78dcc6"/>
<rect x="467.1" y="152.5" width="0.9" height="0.9" fill="#78dcc6"/>
<rect x="473.6" y="152.9" width="0.9" height="0.9" fill="#78dcc6"/>
<rect x="481.8" y="138.5" width="0.9" height="0.9" fill="#78dcc6"/>
<rect x="476.7" y="141.3" width="0.9" height="0.9" fill="#2cc89c"/>
<rect x="488.5" y="137.9" width="0.9" height="0.9" fill="#78dcc6"/>
<rect x="469.1" y="150.0" width="0.9" height="0.9" fill="#78dcc6"/>
<rect x="478.4" y="155.0" width="0.9" height="0.9" fill="#78dcc6"/>
<rect x="480.2" y="139.7" width="0.9" height="0.9" fill="#78dcc6"/>
<rect x="481.7" y="148.7" width="0.9" height="0.9" fill="#2cc89c"/>
<rect x="476.2" y="149.7" width="0.9" height="0.9" fill="#2cc89c"/>
<rect x="483.8" y="143.8" width="0.9" height="0.9" fill="#78dcc6"/>
<rect x="470.2" y="151.8" width="0.9" height="0.9" fill="#78dcc6"/>
<rect x="483.4" y="144.8" width="0.9" height="0.9" fill="#2cc89c"/>
<rect x="478.7" y="140.2" width="0.9" height="0.9" fill="#78dcc6"/>
<rect x="486.1" y="139.6" width="0.9" height="0.9" fill="#78dcc6"/>
<rect x="474.3" y="151.4" width="0.9" height="0.9" fill="#78dcc6"/>
<rect x="480.4" y="141.3" width="0.9" height="0.9" fill="#78dcc6"/>
<rect x="489.5" y="134.6" width="0.9" height="0.9" fill="#78dcc6"/>
<rect x="482.4" y="141.9" width="0.9" height="0.9" fill="#78dcc6"/>
<rect x="484.5" y="138.6" width="0.9" height="0.9" fill="#78dcc6"/>
<rect x="461.3" y="152.8" width="0.9" height="0.9" fill="#78dcc6"/>
<rect x="468.3" y="146.4" width="0.9" height="0.9" fill="#78dcc6"/>
<rect x="482.1" y="141.4" width="0.9" height="0.9" fill="#78dcc6"/>
<rect x="482.0" y="145.4" width="0.9" height="0.9" fill="#2cc89c"/>
<rect x="481.1" y="148.0" width="0.9" height="0.9" fill="#2cc89c"/>
<rect x="480.1" y="143.2" width="0.9" height="0.9" fill="#2cc89c"/>
<rect x="479.0" y="138.4" width="0.9" height="0.9" fill="#78dcc6"/>
<rect x="484.7" y="141.4" width="0.9" height="0.9" fill="#78dcc6"/>
<rect x="475.9" y="140.9" width="0.9" height="0.9" fill="#2cc89c"/>
<rect x="483.4" y="142.8" width="0.9" height="0.9" fill="#78dcc6"/>
<rect x="471.4" y="150.5" width="0.9" height="0.9" fill="#78dcc6"/>
<rect x="479.4" y="139.7" width="0.9" height="0.9" fill="#78dcc6"/>
<rect x="467.5" y="150.9" width="0.9" height="0.9" fill="#78dcc6"/>
<rect x="478.0" y="142.6" width="0.9" height="0.9" fill="#2cc89c"/>
<rect x="481.2" y="141.6" width="0.9" height="0.9" fill="#78dcc6"/>
<rect x="478.3" y="141.9" width="0.9" height="0.9" fill="#2cc89c"/>
<rect x="474.3" y="141.8" width="0.9" height="0.9" fill="#2cc89c"/>
<rect x="472.3" y="150.4" width="0.9" height="0.9" fill="#78dcc6"/>
<rect x="481.2" y="139.7" width="0.9" height="0.9" fill="#78dcc6"/>
<rect x="481.9" y="145.1" width="0.9" height="0.9" fill="#2cc89c"/>
<rect x="464.3" y="156.2" width="0.9" height="0.9" fill="#78dcc6"/>
<rect x="467.5" y="153.2" width="0.9" height="0.9" fill="#78dcc6"/>
<rect x="473.3" y="148.9" width="0.9" height="0.9" fill="#2cc89c"/>
<rect x="481.9" y="146.5" width="0.9" height="0.9" fill="#2cc89c"/>
<rect x="492.1" y="141.2" width="0.9" height="0.9" fill="#78dcc6"/>
<rect x="472.0" y="148.9" width="0.9" height="0.9" fill="#2cc89c"/>
<rect x="480.5" y="141.6" width="0.9" height="0.9" fill="#78dcc6"/>
<rect x="487.3" y="139.8" width="0.9" height="0.9" fill="#78dcc6"/>
<rect x="482.3" y="143.2" width="0.9" height="0.9" fill="#2cc89c"/>
<rect x="476.4" y="151.4" width="0.9" height="0.9" fill="#78dcc6"/>
<rect x="470.7" y="152.3" width="0.9" height="0.9" fill="#78dcc6"/>
<rect x="476.7" y="141.8" width="0.9" height="0.9" fill="#2cc89c"/>
<rect x="467.2" y="152.7" width="0.9" height="0.9" fill="#78dcc6"/>
<rect x="477.5" y="142.1" width="0.9" height="0.9" fill="#2cc89c"/>
<rect x="481.1" y="147.7" width="0.9" height="0.9" fill="#2cc89c"/>
<rect x="479.5" y="150.3" width="0.9" height="0.9" fill="#2cc89c"/>
<rect x="481.7" y="139.2" width="0.9" height="0.9" fill="#78dcc6"/>
<rect x="475.7" y="150.3" width="0.9" height="0.9" fill="#2cc89c"/>
<rect x="483.0" y="144.9" width="0.9" height="0.9" fill="#2cc89c"/>
<rect x="468.5" y="148.7" width="0.9" height="0.9" fill="#78dcc6"/>
<rect x="487.0" y="143.4" width="0.9" height="0.9" fill="#78dcc6"/>
<rect x="469.6" y="152.1" width="0.9" height="0.9" fill="#78dcc6"/>
<rect x="467.1" y="151.5" width="0.9" height="0.9" fill="#78dcc6"/>
<rect x="476.2" y="150.3" width="0.9" height="0.9" fill="#2cc89c"/>
<rect x="482.7" y="143.8" width="0.9" height="0.9" fill="#2cc89c"/>
<rect x="468.0" y="149.5" width="0.9" height="0.9" fill="#78dcc6"/>
<rect x="480.7" y="143.2" width="0.9" height="0.9" fill="#2cc89c"/>
<rect x="467.3" y="151.3" width="0.9" height="0.9" fill="#78dcc6"/>
<rect x="481.0" y="142.9" width="0.9" height="0.9" fill="#2cc89c"/>
<rect x="467.5" y="148.3" width="0.9" height="0.9" fill="#78dcc6"/>
<rect x="469.7" y="147.6" width="0.9" height="0.9" fill="#78dcc6"/>
<rect x="464.9" y="155.7" width="0.9" height="0.9" fill="#78dcc6"/>
<rect x="483.3" y="140.7" width="0.9" height="0.9" fill="#78dcc6"/>
<rect x="488.3" y="141.7" width="0.9" height="0.9" fill="#78dcc6"/>
<rect x="482.1" y="140.1" width="0.9" height="0.9" fill="#78dcc6"/>
<rect x="482.1" y="144.2" width="0.9" height="0.9" fill="#2cc89c"/>
<rect x="471.6" y="152.9" width="0.9" height="0.9" fill="#78dcc6"/>
<rect x="467.0" y="148.9" width="0.9" height="0.9" fill="#78dcc6"/>
<rect x="481.0" y="138.0" width="0.9" height="0.9" fill="#78dcc6"/>
<rect x="482.9" y="143.3" width="0.9" height="0.9" fill="#78dcc6"/>
<rect x="470.6" y="155.0" width="0.9" height="0.9" fill="#78dcc6"/>
<rect x="481.1" y="141.2" width="0.9" height="0.9" fill="#78dcc6"/>
<rect x="480.7" y="142.9" width="0.9" height="0.9" fill="#2cc89c"/>
<rect x="467.8" y="153.5" width="0.9" height="0.9" fill="#78dcc6"/>
<rect x="472.5" y="153.4" width="0.9" height="0.9" fill="#78dcc6"/>
<rect x="483.8" y="142.8" width="0.9" height="0.9" fill="#78dcc6"/>
<rect x="475.6" y="150.4" width="0.9" height="0.9" fill="#2cc89c"/>
<rect x="480.7" y="143.6" width="0.9" height="0.9" fill="#2cc89c"/>
<rect x="481.6" y="141.3" width="0.9" height="0.9" fill="#78dcc6"/>
<rect x="468.9" y="150.3" width="0.9" height="0.9" fill="#78dcc6"/>
<rect x="491.8" y="136.9" width="0.9" height="0.9" fill="#78dcc6"/>
<rect x="480.6" y="148.3" width="0.9" height="0.9" fill="#2cc89c"/>
<rect x="484.0" y="137.5" width="0.9" height="0.9" fill="#78dcc6"/>
<rect x="473.0" y="139.8" width="0.9" height="0.9" fill="#78dcc6"/>
<rect x="467.2" y="149.0" width="0.9" height="0.9" fill="#78dcc6"/>
<rect x="473.0" y="142.4" width="0.9" height="0.9" fill="#2cc89c"/>
<rect x="469.2" y="145.9" width="0.9" height="0.9" fill="#78dcc6"/>
<rect x="479.0" y="141.4" width="0.9" height="0.9" fill="#2cc89c"/>
<rect x="486.2" y="138.6" width="0.9" height="0.9" fill="#78dcc6"/>
<rect x="490.6" y="157.0" width="0.9" height="0.9" fill="#78dcc6"/>
<rect x="490.8" y="150.4" width="0.9" height="0.9" fill="#2cc89c"/>
<rect x="489.8" y="145.4" width="0.9" height="0.9" fill="#2cc89c"/>
<rect x="487.2" y="133.7" width="0.9" height="0.9" fill="#78dcc6"/>
<rect x="488.3" y="145.9" width="0.9" height="0.9" fill="#2cc89c"/>
<rect x="489.9" y="147.4" width="0.9" height="0.9" fill="#2cc89c"/>
<rect x="490.7" y="145.2" width="0.9" height="0.9" fill="#2cc89c"/>
<rect x="490.6" y="147.0" width="0.9" height="0.9" fill="#2cc89c"/>
<rect x="490.5" y="148.8" width="0.9" height="0.9" fill="#2cc89c"/>
<rect x="486.9" y="150.5" width="0.9" height="0.9" fill="#2cc89c"/>
<rect x="485.1" y="149.2" width="0.9" height="0.9" fill="#78dcc6"/>
<rect x="489.3" y="148.5" width="0.9" height="0.9" fill="#2cc89c"/>
<rect x="488.0" y="146.8" width="0.9" height="0.9" fill="#2cc89c"/>
<rect x="491.4" y="153.1" width="0.9" height="0.9" fill="#78dcc6"/>
<rect x="486.9" y="155.3" width="0.9" height="0.9" fill="#78dcc6"/>
<rect x="490.4" y="146.1" width="0.9" height="0.9" fill="#2cc89c"/>
<rect x="483.8" y="152.7" width="0.9" height="0.9" fill="#78dcc6"/>
<rect x="491.3" y="142.0" width="0.9" height="0.9" fill="#78dcc6"/>
<rect x="488.1" y="146.2" width="0.9" height="0.9" fill="#2cc89c"/>
<rect x="486.4" y="143.4" width="0.9" height="0.9" fill="#78dcc6"/>
<rect x="488.6" y="146.4" width="0.9" height="0.9" fill="#2cc89c"/>
<rect x="488.3" y="142.8" width="0.9" height="0.9" fill="#2cc89c"/>
<rect x="487.1" y="144.8" width="0.9" height="0.9" fill="#2cc89c"/>
<rect x="486.9" y="143.9" width="0.9" height="0.9" fill="#2cc89c"/>
<rect x="484.4" y="156.3" width="0.9" height="0.9" fill="#78dcc6"/>
<rect x="488.3" y="141.7" width="0.9" height="0.9" fill="#78dcc6"/>
<rect x="485.8" y="145.8" width="0.9" height="0.9" fill="#78dcc6"/>
<rect x="485.5" y="150.3" width="0.9" height="0.9" fill="#78dcc6"/>
<rect x="490.8" y="148.3" width="0.9" height="0.9" fill="#2cc89c"/>
<rect x="487.7" y="151.1" width="0.9" height="0.9" fill="#2cc89c"/>
<rect x="488.8" y="148.3" width="0.9" height="0.9" fill="#2cc89c"/>
<rect x="486.0" y="151.3" width="0.9" height="0.9" fill="#2cc89c"/>
<rect x="490.3" y="154.6" width="0.9" height="0.9" fill="#78dcc6"/>
<rect x="481.0" y="153.4" width="0.9" height="0.9" fill="#78dcc6"/>
<rect x="493.1" y="146.1" width="0.9" height="0.9" fill="#78dcc6"/>
<rect x="487.3" y="150.2" width="0.9" height="0.9" fill="#2cc89c"/>
<rect x="488.6" y="151.8" width="0.9" height="0.9" fill="#2cc89c"/>
<rect x="486.6" y="150.3" width="0.9" height="0.9" fill="#2cc89c"/>
<rect x="492.2" y="150.9" width="0.9" height="0.9" fill="#78dcc6"/>
<rect x="489.5" y="149.5" width="0.9" height="0.9" fill="#2cc89c"/>
<rect x="489.6" y="144.8" width="0.9" height="0.9" fill="#2cc89c"/>
<rect x="485.0" y="146.2" width="0.9" height="0.9" fill="#78dcc6"/>
<rect x="487.8" y="146.2" width="0.9" height="0.9" fill="#2cc89c"/>
<rect x="490.8" y="151.1" width="0.9" height="0.9" fill="#2cc89c"/>
<rect x="487.5" y="147.3" width="0.9" height="0.9" fill="#2cc89c"/>
<rect x="486.1" y="151.5" width="0.9" height="0.9" fill="#2cc89c"/>
<rect x="487.8" y="146.6" width="0.9" height="0.9" fill="#2cc89c"/>
<rect x="486.9" y="147.4" width="0.9" height="0.9" fill="#2cc89c"/>
<rect x="490.8" y="156.4" width="0.9" height="0.9" fill="#78dcc6"/>
<rect x="484.8" y="147.4" width="0.9" height="0.9" fill="#78dcc6"/>
<rect x="489.9" y="145.7" width="0.9" height="0.9" fill="#2cc89c"/>
<rect x="494.6" y="138.5" width="0.9" height="0.9" fill="#78dcc6"/>
<rect x="488.3" y="147.9" width="0.9" height="0.9" fill="#2cc89c"/>
<rect x="484.8" y="151.5" width="0.9" height="0.9" fill="#78dcc6"/>
<rect x="488.4" y="148.6" width="0.9" height="0.9" fill="#2cc89c"/>
<rect x="485.9" y="151.8" width="0.9" height="0.9" fill="#78dcc6"/>
<rect x="491.4" y="151.4" width="0.9" height="0.9" fill="#78dcc6"/>
<rect x="487.1" y="149.8" width="0.9" height="0.9" fill="#2cc89c"/>
<rect x="484.0" y="144.0" width="0.9" height="0.9" fill="#78dcc6"/>
<rect x="489.7" y="145.4" width="0.9" height="0.9" fill="#2cc89c"/>
<rect x="491.0" y="155.8" width="0.9" height="0.9" fill="#78dcc6"/>
<rect x="487.2" y="154.3" width="0.9" height="0.9" fill="#78dcc6"/>
<rect x="484.6" y="146.1" width="0.9" height="0.9" fill="#78dcc6"/>
<rect x="485.6" y="144.9" width="0.9" height="0.9" fill="#78dcc6"/>
<rect x="490.1" y="147.1" width="0.9" height="0.9" fill="#2cc89c"/>
<rect x="487.6" y="147.7" width="0.9" height="0.9" fill="#2cc89c"/>
<rect x="492.2" y="151.8" width="0.9" height="0.9" fill="#78dcc6"/>
<rect x="484.2" y="153.7" width="0.9" height="0.9" fill="#78dcc6"/>
<rect x="487.5" y="141.1" width="0.9" height="0.9" fill="#78dcc6"/>
<rect x="481.8" y="153.3" width="0.9" height="0.9" fill="#78dcc6"/>
<rect x="489.0" y="154.9" width="0.9" height="0.9" fill="#78dcc6"/>
<rect x="485.0" y="151.2" width="0.9" height="0.9" fill="#78dcc6"/>
<rect x="485.6" y="145.6" width="0.9" height="0.9" fill="#78dcc6"/>
<rect x="486.5" y="154.2" width="0.9" height="0.9" fill="#78dcc6"/>
<rect x="486.8" y="150.2" width="0.9" height="0.9" fill="#2cc89c"/>
<rect x="490.7" y="140.0" width="0.9" height="0.9" fill="#78dcc6"/>
<rect x="492.2" y="154.3" width="0.9" height="0.9" fill="#78dcc6"/>
<rect x="469.0" y="133.6" width="0.9" height="0.9" fill="#2cc89c"/>
<rect x="482.7" y="136.7" width="0.9" height="0.9" fill="#2cc89c"/>
<rect x="470.4" y="142.8" width="0.9" height="0.9" fill="#2cc89c"/>
<rect x="469.2" y="148.8" width="0.9" height="0.9" fill="#78dcc6"/>
<rect x="472.2" y="122.2" width="0.9" height="0.9" fill="#2cc89c"/>
<rect x="483.4" y="133.7" width="0.9" height="0.9" fill="#2cc89c"/>
<rect x="470.9" y="130.6" width="0.9" height="0.9" fill="#2cc89c"/>
<rect x="468.3" y="138.8" width="0.9" height="0.9" fill="#2cc89c"/>
<rect x="478.8" y="151.5" width="0.9" height="0.9" fill="#78dcc6"/>
<rect x="467.6" y="148.9" width="0.9" height="0.9" fill="#78dcc6"/>
<rect x="481.2" y="117.5" width="0.9" height="0.9" fill="#78dcc6"/>
<rect x="491.7" y="113.6" width="0.9" height="0.9" fill="#78dcc6"/>
<rect x="480.8" y="112.6" width="0.9" height="0.9" fill="#78dcc6"/>
<rect x="478.2" y="129.1" width="0.9" height="0.9" fill="#2cc89c"/>
<rect x="472.2" y="112.1" width="0.9" height="0.9" fill="#78dcc6"/>
<rect x="466.8" y="146.4" width="0.9" height="0.9" fill="#78dcc6"/>
<rect x="482.3" y="132.7" width="0.9" height="0.9" fill="#2cc89c"/>
<rect x="474.1" y="126.4" width="0.9" height="0.9" fill="#2cc89c"/>
<rect x="491.6" y="133.3" width="0.9" height="0.9" fill="#78dcc6"/>
<rect x="487.7" y="117.3" width="0.9" height="0.9" fill="#78dcc6"/>
<rect x="466.1" y="131.7" width="0.9" height="0.9" fill="#2cc89c"/>
<rect x="481.2" y="144.2" width="0.9" height="0.9" fill="#2cc89c"/>
<rect x="483.0" y="140.2" width="0.9" height="0.9" fill="#2cc89c"/>
<rect x="494.0" y="136.9" width="0.9" height="0.9" fill="#78dcc6"/>
<rect x="486.2" y="134.6" width="0.9" height="0.9" fill="#2cc89c"/>
<rect x="477.9" y="155.2" width="0.9" height="0.9" fill="#78dcc6"/>
<rect x="477.0" y="136.2" width="0.9" height="0.9" fill="#2cc89c"/>
<rect x="496.4" y="129.9" width="0.9" height="0.9" fill="#78dcc6"/>
<rect x="463.3" y="135.4" width="0.9" height="0.9" fill="#2cc89c"/>
<rect x="496.5" y="130.2" width="0.9" height="0.9" fill="#78dcc6"/>
<rect x="490.1" y="139.5" width="0.9" height="0.9" fill="#78dcc6"/>
<rect x="483.1" y="124.6" width="0.9" height="0.9" fill="#2cc89c"/>
<rect x="482.9" y="153.6" width="0.9" height="0.9" fill="#2cc89c"/>
<rect x="481.8" y="153.7" width="0.9" height="0.9" fill="#2cc89c"/>
<rect x="497.2" y="153.9" width="0.9" height="0.9" fill="#78dcc6"/>
<rect x="478.1" y="151.8" width="0.9" height="0.9" fill="#78dcc6"/>
<rect x="475.6" y="152.6" width="0.9" height="0.9" fill="#78dcc6"/>
<rect x="480.8" y="154.2" width="0.9" height="0.9" fill="#2cc89c"/>
<rect x="473.8" y="154.1" width="0.9" height="0.9" fill="#2cc89c"/>
<rect x="474.2" y="155.6" width="0.9" height="0.9" fill="#2cc89c"/>
<rect x="463.9" y="154.8" width="0.9" height="0.9" fill="#78dcc6"/>
<rect x="492.7" y="153.4" width="0.9" height="0.9" fill="#78dcc6"/>
<rect x="479.4" y="153.8" width="0.9" height="0.9" fill="#2cc89c"/>
<rect x="492.0" y="152.6" width="0.9" height="0.9" fill="#78dcc6"/>
<rect x="485.8" y="155.5" width="0.9" height="0.9" fill="#2cc89c"/>
<rect x="468.2" y="155.5" width="0.9" height="0.9" fill="#78dcc6"/>
<rect x="470.4" y="154.0" width="0.9" height="0.9" fill="#2cc89c"/>
<rect x="481.4" y="156.9" width="0.9" height="0.9" fill="#78dcc6"/>
<rect x="473.2" y="152.2" width="0.9" height="0.9" fill="#78dcc6"/>
<rect x="483.4" y="155.5" width="0.9" height="0.9" fill="#2cc89c"/>
<rect x="491.0" y="154.8" width="0.9" height="0.9" fill="#2cc89c"/>
<rect x="501.2" y="155.7" width="0.9" height="0.9" fill="#78dcc6"/>
<rect x="493.9" y="154.1" width="0.9" height="0.9" fill="#2cc89c"/>
<rect x="461.4" y="156.6" width="0.9" height="0.9" fill="#78dcc6"/>
<rect x="469.9" y="156.2" width="0.9" height="0.9" fill="#78dcc6"/>
<rect x="498.9" y="153.2" width="0.9" height="0.9" fill="#78dcc6"/>
<rect x="473.2" y="155.1" width="0.9" height="0.9" fill="#2cc89c"/>
<rect x="496.1" y="153.5" width="0.9" height="0.9" fill="#78dcc6"/>
<rect x="478.2" y="153.4" width="0.9" height="0.9" fill="#2cc89c"/>
<rect x="465.1" y="154.7" width="0.9" height="0.9" fill="#2cc89c"/>
<rect x="475.5" y="152.1" width="0.9" height="0.9" fill="#78dcc6"/>
<rect x="487.9" y="154.1" width="0.9" height="0.9" fill="#2cc89c"/>
<rect x="476.5" y="153.0" width="0.9" height="0.9" fill="#78dcc6"/>
<rect x="492.2" y="155.0" width="0.9" height="0.9" fill="#2cc89c"/>
<rect x="486.3" y="154.5" width="0.9" height="0.9" fill="#2cc89c"/>
<rect x="487.1" y="156.5" width="0.9" height="0.9" fill="#78dcc6"/>
<rect x="484.6" y="154.9" width="0.9" height="0.9" fill="#2cc89c"/>
<rect x="475.6" y="155.4" width="0.9" height="0.9" fill="#2cc89c"/>
<rect x="478.6" y="153.7" width="0.9" height="0.9" fill="#2cc89c"/>
<rect x="498.1" y="154.4" width="0.9" height="0.9" fill="#78dcc6"/>
<rect x="469.8" y="153.7" width="0.9" height="0.9" fill="#2cc89c"/>
<rect x="474.6" y="153.3" width="0.9" height="0.9" fill="#2cc89c"/>
<rect x="502.5" y="155.3" width="0.9" height="0.9" fill="#78dcc6"/>
<rect x="462.8" y="156.0" width="0.9" height="0.9" fill="#78dcc6"/>
<rect x="489.8" y="125.7" width="0.9" height="0.9" fill="#8cbc6c"/>
<rect x="489.3" y="127.5" width="0.9" height="0.9" fill="#8cbc6c"/>
<rect x="494.4" y="132.3" width="0.9" height="0.9" fill="#8cbc6c"/>
<rect x="493.8" y="125.0" width="0.9" height="0.9" fill="#8cbc6c"/>
<rect x="491.0" y="124.8" width="0.9" height="0.9" fill="#8cbc6c"/>
<rect x="494.6" y="132.2" width="0.9" height="0.9" fill="#8cbc6c"/>
<rect x="494.4" y="125.3" width="0.9" height="0.9" fill="#8cbc6c"/>
<rect x="495.2" y="130.3" width="0.9" height="0.9" fill="#8cbc6c"/>
<rect x="492.3" y="124.6" width="0.9" height="0.9" fill="#8cbc6c"/>
<rect x="495.4" y="128.6" width="0.9" height="0.9" fill="#8cbc6c"/>
<rect x="494.3" y="131.9" width="0.9" height="0.9" fill="#8cbc6c"/>
<rect x="490.9" y="124.8" width="0.9" height="0.9" fill="#8cbc6c"/>
<rect x="489.2" y="132.0" width="0.9" height="0.9" fill="#8cbc6c"/>
<rect x="491.0" y="124.2" width="0.9" height="0.9" fill="#8cbc6c"/>
<rect x="489.2" y="127.7" width="0.9" height="0.9" fill="#8cbc6c"/>
<rect x="492.8" y="124.3" width="0.9" height="0.9" fill="#8cbc6c"/>
<rect x="492.9" y="124.8" width="0.9" height="0.9" fill="#8cbc6c"/>
<rect x="492.6" y="134.0" width="0.9" height="0.9" fill="#8cbc6c"/>
<rect x="495.4" y="130.2" width="0.9" height="0.9" fill="#8cbc6c"/>
<rect x="495.2" y="129.9" width="0.9" height="0.9" fill="#8cbc6c"/>
<rect x="490.2" y="125.4" width="0.9" height="0.9" fill="#8cbc6c"/>
<rect x="492.0" y="124.7" width="0.9" height="0.9" fill="#8cbc6c"/>
<rect x="495.1" y="130.8" width="0.9" height="0.9" fill="#8cbc6c"/>
<rect x="490.8" y="125.2" width="0.9" height="0.9" fill="#8cbc6c"/>
<rect x="491.4" y="133.5" width="0.9" height="0.9" fill="#8cbc6c"/>
<rect x="492.9" y="133.3" width="0.9" height="0.9" fill="#8cbc6c"/>
<rect x="491.9" y="133.8" width="0.9" height="0.9" fill="#8cbc6c"/>
<rect x="491.3" y="133.4" width="0.9" height="0.9" fill="#8cbc6c"/>
<rect x="489.2" y="128.7" width="0.9" height="0.9" fill="#8cbc6c"/>
<rect x="488.8" y="130.7" width="0.9" height="0.9" fill="#8cbc6c"/>
<rect x="489.2" y="130.9" width="0.9" height="0.9" fill="#8cbc6c"/>
<rect x="488.6" y="129.3" width="0.9" height="0.9" fill="#8cbc6c"/>
<rect x="490.7" y="133.3" width="0.9" height="0.9" fill="#8cbc6c"/>
<rect x="493.4" y="124.8" width="0.9" height="0.9" fill="#8cbc6c"/>
<rect x="494.3" y="126.5" width="0.9" height="0.9" fill="#8cbc6c"/>
<rect x="491.6" y="124.0" width="0.9" height="0.9" fill="#8cbc6c"/>
<rect x="480.7" y="146.3" width="0.9" height="0.9" fill="#8cbc6c"/>
<rect x="479.9" y="143.9" width="0.9" height="0.9" fill="#8cbc6c"/>
<rect x="477.4" y="142.6" width="0.9" height="0.9" fill="#8cbc6c"/>
<rect x="478.9" y="143.4" width="0.9" height="0.9" fill="#8cbc6c"/>
<rect x="474.9" y="142.9" width="0.9" height="0.9" fill="#8cbc6c"/>
<rect x="481.2" y="145.1" width="0.9" height="0.9" fill="#8cbc6c"/>
<rect x="472.5" y="146.4" width="0.9" height="0.9" fill="#8cbc6c"/>
<rect x="472.4" y="147.4" width="0.9" height="0.9" fill="#8cbc6c"/>
<rect x="478.0" y="143.1" width="0.9" height="0.9" fill="#8cbc6c"/>
<rect x="473.4" y="147.9" width="0.9" height="0.9" fill="#8cbc6c"/>
<rect x="472.8" y="148.2" width="0.9" height="0.9" fill="#8cbc6c"/>
<rect x="476.0" y="149.2" width="0.9" height="0.9" fill="#8cbc6c"/>
<rect x="480.9" y="147.2" width="0.9" height="0.9" fill="#8cbc6c"/>
<rect x="472.5" y="147.0" width="0.9" height="0.9" fill="#8cbc6c"/>
<rect x="472.3" y="144.8" width="0.9" height="0.9" fill="#8cbc6c"/>
<rect x="480.9" y="147.1" width="0.9" height="0.9" fill="#8cbc6c"/>
<rect x="478.5" y="149.0" width="0.9" height="0.9" fill="#8cbc6c"/>
<rect x="477.2" y="149.1" width="0.9" height="0.9" fill="#8cbc6c"/>
<rect x="472.5" y="147.7" width="0.9" height="0.9" fill="#8cbc6c"/>
<rect x="474.9" y="149.4" width="0.9" height="0.9" fill="#8cbc6c"/>
<rect x="480.6" y="144.1" width="0.9" height="0.9" fill="#8cbc6c"/>
<rect x="478.8" y="148.4" width="0.9" height="0.9" fill="#8cbc6c"/>
<rect x="480.5" y="144.6" width="0.9" height="0.9" fill="#8cbc6c"/>
<rect x="473.4" y="144.1" width="0.9" height="0.9" fill="#8cbc6c"/>
<rect x="474.0" y="148.7" width="0.9" height="0.9" fill="#8cbc6c"/>
<rect x="472.8" y="145.2" width="0.9" height="0.9" fill="#8cbc6c"/>
<rect x="480.4" y="145.6" width="0.9" height="0.9" fill="#8cbc6c"/>
<rect x="476.8" y="142.4" width="0.9" height="0.9" fill="#8cbc6c"/>
<rect x="478.9" y="148.5" width="0.9" height="0.9" fill="#8cbc6c"/>
<rect x="474.6" y="148.9" width="0.9" height="0.9" fill="#8cbc6c"/>
<rect x="476.0" y="149.0" width="0.9" height="0.9" fill="#8cbc6c"/>
<rect x="472.1" y="146.1" width="0.9" height="0.9" fill="#8cbc6c"/>
<rect x="479.6" y="144.0" width="0.9" height="0.9" fill="#8cbc6c"/>
<rect x="472.8" y="146.9" width="0.9" height="0.9" fill="#8cbc6c"/>
<rect x="479.6" y="147.9" width="0.9" height="0.9" fill="#8cbc6c"/>
<rect x="473.0" y="143.7" width="0.9" height="0.9" fill="#8cbc6c"/>
<rect x="480.4" y="144.4" width="0.9" height="0.9" fill="#8cbc6c"/>
<rect x="480.7" y="145.7" width="0.9" height="0.9" fill="#8cbc6c"/>
<rect x="474.1" y="148.7" width="0.9" height="0.9" fill="#8cbc6c"/>
<rect x="481.1" y="146.8" width="0.9" height="0.9" fill="#8cbc6c"/>
<rect x="472.5" y="146.6" width="0.9" height="0.9" fill="#8cbc6c"/>
<rect x="473.8" y="148.8" width="0.9" height="0.9" fill="#8cbc6c"/>
<rect x="494.4" y="128.7" width="0.9" height="0.9" fill="#d49a5c"/>
<rect x="490.7" y="132.7" width="0.9" height="0.9" fill="#d49a5c"/>
<rect x="490.0" y="130.1" width="0.9" height="0.9" fill="#d49a5c"/>
<rect x="489.9" y="131.3" width="0.9" height="0.9" fill="#d49a5c"/>
<rect x="494.1" y="127.1" width="0.9" height="0.9" fill="#d49a5c"/>
<rect x="493.7" y="127.0" width="0.9" height="0.9" fill="#d49a5c"/>
<rect x="493.8" y="131.1" width="0.9" height="0.9" fill="#d49a5c"/>
<rect x="494.6" y="128.8" width="0.9" height="0.9" fill="#d49a5c"/>
<rect x="489.4" y="130.1" width="0.9" height="0.9" fill="#d49a5c"/>
<rect x="494.0" y="127.2" width="0.9" height="0.9" fill="#d49a5c"/>
<rect x="491.6" y="126.1" width="0.9" height="0.9" fill="#d49a5c"/>
<rect x="489.7" y="128.1" width="0.9" height="0.9" fill="#d49a5c"/>
<rect x="490.7" y="131.4" width="0.9" height="0.9" fill="#d49a5c"/>
<rect x="489.9" y="130.7" width="0.9" height="0.9" fill="#d49a5c"/>
<rect x="491.1" y="132.2" width="0.9" height="0.9" fill="#d49a5c"/>
<rect x="492.6" y="126.2" width="0.9" height="0.9" fill="#d49a5c"/>
<rect x="490.0" y="130.5" width="0.9" height="0.9" fill="#d49a5c"/>
<rect x="489.8" y="128.4" width="0.9" height="0.9" fill="#d49a5c"/>
<rect x="492.9" y="131.8" width="0.9" height="0.9" fill="#d49a5c"/>
<rect x="489.5" y="129.2" width="0.9" height="0.9" fill="#d49a5c"/>
<rect x="494.4" y="127.2" width="0.9" height="0.9" fill="#d49a5c"/>
<rect x="493.3" y="125.9" width="0.9" height="0.9" fill="#d49a5c"/>
<rect x="490.4" y="125.7" width="0.9" height="0.9" fill="#d49a5c"/>
<rect x="490.9" y="125.9" width="0.9" height="0.9" fill="#d49a5c"/>
<rect x="493.8" y="131.8" width="0.9" height="0.9" fill="#d49a5c"/>
<rect x="491.4" y="125.6" width="0.9" height="0.9" fill="#d49a5c"/>
<rect x="490.0" y="131.8" width="0.9" height="0.9" fill="#d49a5c"/>
<rect x="493.6" y="132.3" width="0.9" height="0.9" fill="#d49a5c"/>
<rect x="491.0" y="132.1" width="0.9" height="0.9" fill="#d49a5c"/>
<rect x="492.0" y="125.7" width="0.9" height="0.9" fill="#d49a5c"/>
<rect x="490.9" y="132.3" width="0.9" height="0.9" fill="#d49a5c"/>
<rect x="492.9" y="131.9" width="0.9" height="0.9" fill="#d49a5c"/>
<rect x="490.5" y="131.4" width="0.9" height="0.9" fill="#d49a5c"/>
<rect x="489.9" y="129.1" width="0.9" height="0.9" fill="#d49a5c"/>
<rect x="492.7" y="125.7" width="0.9" height="0.9" fill="#d49a5c"/>
<rect x="491.5" y="126.2" width="0.9" height="0.9" fill="#d49a5c"/>
<rect x="494.1" y="130.3" width="0.9" height="0.9" fill="#d49a5c"/>
<rect x="493.5" y="131.2" width="0.9" height="0.9" fill="#d49a5c"/>
<rect x="479.4" y="145.5" width="0.9" height="0.9" fill="#d49a5c"/>
<rect x="476.2" y="148.3" width="0.9" height="0.9" fill="#d49a5c"/>
<rect x="475.1" y="148.0" width="0.9" height="0.9" fill="#d49a5c"/>
<rect x="478.8" y="144.6" width="0.9" height="0.9" fill="#d49a5c"/>
<rect x="473.8" y="145.6" width="0.9" height="0.9" fill="#d49a5c"/>
<rect x="480.0" y="145.2" width="0.9" height="0.9" fill="#d49a5c"/>
<rect x="479.6" y="147.1" width="0.9" height="0.9" fill="#d49a5c"/>
<rect x="480.0" y="145.2" width="0.9" height="0.9" fill="#d49a5c"/>
<rect x="473.5" y="147.0" width="0.9" height="0.9" fill="#d49a5c"/>
<rect x="477.8" y="148.8" width="0.9" height="0.9" fill="#d49a5c"/>
<rect x="473.9" y="147.1" width="0.9" height="0.9" fill="#d49a5c"/>
<rect x="475.7" y="148.3" width="0.9" height="0.9" fill="#d49a5c"/>
<rect x="479.4" y="144.4" width="0.9" height="0.9" fill="#d49a5c"/>
<rect x="475.9" y="144.0" width="0.9" height="0.9" fill="#d49a5c"/>
<rect x="479.9" y="147.0" width="0.9" height="0.9" fill="#d49a5c"/>
<rect x="478.5" y="143.6" width="0.9" height="0.9" fill="#d49a5c"/>
<rect x="478.3" y="148.0" width="0.9" height="0.9" fill="#d49a5c"/>
<rect x="479.4" y="147.1" width="0.9" height="0.9" fill="#d49a5c"/>
<rect x="473.6" y="147.4" width="0.9" height="0.9" fill="#d49a5c"/>
<rect x="479.3" y="144.1" width="0.9" height="0.9" fill="#d49a5c"/>
<rect x="474.5" y="147.8" width="0.9" height="0.9" fill="#d49a5c"/>
<rect x="473.5" y="147.8" width="0.9" height="0.9" fill="#d49a5c"/>
<rect x="473.2" y="146.9" width="0.9" height="0.9" fill="#d49a5c"/>
<rect x="473.9" y="145.0" width="0.9" height="0.9" fill="#d49a5c"/>
<rect x="480.0" y="147.0" width="0.9" height="0.9" fill="#d49a5c"/>
<rect x="479.4" y="145.4" width="0.9" height="0.9" fill="#d49a5c"/>
<rect x="476.4" y="148.7" width="0.9" height="0.9" fill="#d49a5c"/>
<rect x="474.7" y="147.7" width="0.9" height="0.9" fill="#d49a5c"/>
<rect x="478.5" y="147.7" width="0.9" height="0.9" fill="#d49a5c"/>
<rect x="480.0" y="146.3" width="0.9" height="0.9" fill="#d49a5c"/>
<rect x="474.8" y="148.6" width="0.9" height="0.9" fill="#d49a5c"/>
<rect x="479.7" y="147.3" width="0.9" height="0.9" fill="#d49a5c"/>
<rect x="477.6" y="148.7" width="0.9" height="0.9" fill="#d49a5c"/>
<rect x="478.4" y="144.2" width="0.9" height="0.9" fill="#d49a5c"/>
<rect x="479.0" y="148.2" width="0.9" height="0.9" fill="#d49a5c"/>
<rect x="479.4" y="144.5" width="0.9" height="0.9" fill="#d49a5c"/>
<rect x="473.0" y="145.4" width="0.9" height="0.9" fill="#d49a5c"/>
<rect x="475.8" y="143.8" width="0.9" height="0.9" fill="#d49a5c"/>
<rect x="478.5" y="144.1" width="0.9" height="0.9" fill="#d49a5c"/>
<rect x="493.9" y="128.9" width="0.9" height="0.9" fill="#ee8462"/>
<rect x="491.6" y="126.3" width="0.9" height="0.9" fill="#ee8462"/>
<rect x="491.1" y="128.3" width="0.9" height="0.9" fill="#ee8462"/>
<rect x="492.1" y="130.1" width="0.9" height="0.9" fill="#ee8462"/>
<rect x="491.3" y="127.3" width="0.9" height="0.9" fill="#ee8462"/>
<rect x="493.1" y="127.8" width="0.9" height="0.9" fill="#ee8462"/>
<rect x="491.5" y="127.2" width="0.9" height="0.9" fill="#ee8462"/>
<rect x="491.1" y="128.9" width="0.9" height="0.9" fill="#ee8462"/>
<rect x="491.4" y="131.5" width="0.9" height="0.9" fill="#ee8462"/>
<rect x="490.6" y="130.5" width="0.9" height="0.9" fill="#ee8462"/>
<rect x="493.5" y="130.7" width="0.9" height="0.9" fill="#ee8462"/>
<rect x="491.6" y="127.4" width="0.9" height="0.9" fill="#ee8462"/>
<rect x="493.2" y="130.8" width="0.9" height="0.9" fill="#ee8462"/>
<rect x="493.6" y="128.8" width="0.9" height="0.9" fill="#ee8462"/>
<rect x="491.7" y="127.6" width="0.9" height="0.9" fill="#ee8462"/>
<rect x="493.0" y="130.5" width="0.9" height="0.9" fill="#ee8462"/>
<rect x="492.5" y="129.6" width="0.9" height="0.9" fill="#ee8462"/>
<rect x="490.9" y="128.9" width="0.9" height="0.9" fill="#ee8462"/>
<rect x="492.3" y="131.2" width="0.9" height="0.9" fill="#ee8462"/>
<rect x="492.0" y="127.9" width="0.9" height="0.9" fill="#ee8462"/>
<rect x="490.7" y="128.3" width="0.9" height="0.9" fill="#ee8462"/>
<rect x="492.5" y="127.2" width="0.9" height="0.9" fill="#ee8462"/>
<rect x="492.1" y="127.9" width="0.9" height="0.9" fill="#ee8462"/>
<rect x="493.9" y="129.1" width="0.9" height="0.9" fill="#ee8462"/>
<rect x="492.2" y="129.8" width="0.9" height="0.9" fill="#ee8462"/>
<rect x="492.8" y="126.7" width="0.9" height="0.9" fill="#ee8462"/>
<rect x="491.6" y="130.3" width="0.9" height="0.9" fill="#ee8462"/>
<rect x="491.6" y="127.6" width="0.9" height="0.9" fill="#ee8462"/>
<rect x="493.4" y="128.5" width="0.9" height="0.9" fill="#ee8462"/>
<rect x="491.8" y="131.1" width="0.9" height="0.9" fill="#ee8462"/>
<rect x="493.6" y="130.6" width="0.9" height="0.9" fill="#ee8462"/>
<rect x="491.5" y="128.8" width="0.9" height="0.9" fill="#ee8462"/>
<rect x="491.0" y="128.3" width="0.9" height="0.9" fill="#ee8462"/>
<rect x="493.0" y="126.6" width="0.9" height="0.9" fill="#ee8462"/>
<rect x="493.6" y="130.8" width="0.9" height="0.9" fill="#ee8462"/>
<rect x="490.9" y="131.1" width="0.9" height="0.9" fill="#ee8462"/>
<rect x="491.1" y="127.3" width="0.9" height="0.9" fill="#ee8462"/>
<rect x="491.1" y="128.7" width="0.9" height="0.9" fill="#ee8462"/>
<rect x="492.5" y="131.9" width="0.9" height="0.9" fill="#ee8462"/>
<rect x="494.0" y="129.2" width="0.9" height="0.9" fill="#ee8462"/>
<rect x="491.1" y="128.8" width="0.9" height="0.9" fill="#ee8462"/>
<rect x="492.8" y="130.5" width="0.9" height="0.9" fill="#ee8462"/>
<rect x="493.4" y="130.4" width="0.9" height="0.9" fill="#ee8462"/>
<rect x="493.4" y="129.4" width="0.9" height="0.9" fill="#ee8462"/>
<rect x="492.2" y="128.3" width="0.9" height="0.9" fill="#ee8462"/>
<rect x="475.0" y="144.6" width="0.9" height="0.9" fill="#ee8462"/>
<rect x="476.2" y="144.8" width="0.9" height="0.9" fill="#ee8462"/>
<rect x="477.0" y="145.0" width="0.9" height="0.9" fill="#ee8462"/>
<rect x="474.9" y="147.3" width="0.9" height="0.9" fill="#ee8462"/>
<rect x="476.5" y="144.3" width="0.9" height="0.9" fill="#ee8462"/>
<rect x="475.7" y="146.1" width="0.9" height="0.9" fill="#ee8462"/>
<rect x="475.0" y="147.6" width="0.9" height="0.9" fill="#ee8462"/>
<rect x="476.7" y="146.1" width="0.9" height="0.9" fill="#ee8462"/>
<rect x="476.0" y="144.9" width="0.9" height="0.9" fill="#ee8462"/>
<rect x="475.6" y="146.2" width="0.9" height="0.9" fill="#ee8462"/>
<rect x="475.7" y="146.4" width="0.9" height="0.9" fill="#ee8462"/>
<rect x="474.0" y="145.5" width="0.9" height="0.9" fill="#ee8462"/>
<rect x="475.8" y="146.5" width="0.9" height="0.9" fill="#ee8462"/>
<rect x="475.3" y="146.4" width="0.9" height="0.9" fill="#ee8462"/>
<rect x="474.5" y="145.4" width="0.9" height="0.9" fill="#ee8462"/>
<rect x="475.1" y="147.4" width="0.9" height="0.9" fill="#ee8462"/>
<rect x="474.2" y="146.4" width="0.9" height="0.9" fill="#ee8462"/>
<rect x="474.2" y="147.0" width="0.9" height="0.9" fill="#ee8462"/>
<rect x="475.7" y="145.3" width="0.9" height="0.9" fill="#ee8462"/>
<rect x="475.3" y="144.3" width="0.9" height="0.9" fill="#ee8462"/>
<rect x="476.8" y="146.2" width="0.9" height="0.9" fill="#ee8462"/>
<rect x="475.6" y="146.4" width="0.9" height="0.9" fill="#ee8462"/>
<rect x="478.6" y="145.3" width="0.9" height="0.9" fill="#ee8462"/>
<rect x="478.5" y="146.5" width="0.9" height="0.9" fill="#ee8462"/>
<rect x="479.1" y="146.6" width="0.9" height="0.9" fill="#ee8462"/>
<rect x="476.7" y="145.9" width="0.9" height="0.9" fill="#ee8462"/>
<rect x="478.7" y="146.8" width="0.9" height="0.9" fill="#ee8462"/>
<rect x="476.1" y="144.8" width="0.9" height="0.9" fill="#ee8462"/>
<rect x="474.6" y="146.7" width="0.9" height="0.9" fill="#ee8462"/>
<rect x="477.5" y="145.4" width="0.9" height="0.9" fill="#ee8462"/>
<rect x="475.8" y="146.7" width="0.9" height="0.9" fill="#ee8462"/>
<rect x="475.4" y="144.8" width="0.9" height="0.9" fill="#ee8462"/>
<rect x="474.4" y="146.4" width="0.9" height="0.9" fill="#ee8462"/>
<rect x="478.7" y="147.1" width="0.9" height="0.9" fill="#ee8462"/>
<rect x="475.5" y="144.9" width="0.9" height="0.9" fill="#ee8462"/>
<rect x="474.2" y="146.9" width="0.9" height="0.9" fill="#ee8462"/>
<rect x="478.1" y="146.2" width="0.9" height="0.9" fill="#ee8462"/>
<rect x="479.1" y="146.2" width="0.9" height="0.9" fill="#ee8462"/>
<rect x="475.5" y="146.6" width="0.9" height="0.9" fill="#ee8462"/>
<rect x="477.7" y="144.2" width="0.9" height="0.9" fill="#ee8462"/>
<rect x="474.7" y="147.1" width="0.9" height="0.9" fill="#ee8462"/>
<rect x="475.4" y="144.7" width="0.9" height="0.9" fill="#ee8462"/>
<rect x="474.0" y="145.5" width="0.9" height="0.9" fill="#ee8462"/>
<rect x="477.4" y="146.0" width="0.9" height="0.9" fill="#ee8462"/>
<rect x="474.1" y="146.9" width="0.9" height="0.9" fill="#ee8462"/>
<rect x="478.1" y="145.4" width="0.9" height="0.9" fill="#ee8462"/>
<rect x="477.3" y="144.6" width="0.9" height="0.9" fill="#ee8462"/>
<rect x="478.2" y="145.3" width="0.9" height="0.9" fill="#ee8462"/>
<rect x="475.7" y="147.4" width="0.9" height="0.9" fill="#ee8462"/>
<rect x="478.4" y="145.6" width="0.9" height="0.9" fill="#ee8462"/>
<rect x="475.4" y="145.8" width="0.9" height="0.9" fill="#ee8462"/>
<rect x="475.3" y="147.3" width="0.9" height="0.9" fill="#ee8462"/>
<rect x="475.3" y="146.3" width="0.9" height="0.9" fill="#ee8462"/>
<rect x="478.2" y="146.0" width="0.9" height="0.9" fill="#ee8462"/>
<rect x="476.1" y="145.7" width="0.9" height="0.9" fill="#ee8462"/>
<rect x="478.7" y="144.9" width="0.9" height="0.9" fill="#ee8462"/>
<rect x="476.4" y="145.5" width="0.9" height="0.9" fill="#ee8462"/>
<rect x="476.5" y="145.2" width="0.9" height="0.9" fill="#ee8462"/>
<rect x="475.4" y="147.3" width="0.9" height="0.9" fill="#ee8462"/>
<rect x="478.4" y="146.3" width="0.9" height="0.9" fill="#ee8462"/>
<rect x="474.9" y="146.9" width="0.9" height="0.9" fill="#ee8462"/>
<rect x="477.7" y="144.6" width="0.9" height="0.9" fill="#ee8462"/>
<rect x="478.1" y="144.5" width="0.9" height="0.9" fill="#ee8462"/>
<rect x="474.2" y="146.6" width="0.9" height="0.9" fill="#ee8462"/>
<rect x="475.8" y="147.5" width="0.9" height="0.9" fill="#ee8462"/>
<rect x="484.4" y="110.3" width="23.600000000000023" height="28.89999999999999" fill="none" stroke="#151515" stroke-width="1.2" />
<text x="491.5" y="120.4" font-size="7.2" text-anchor="start" font-weight="normal" fill="#111" stroke="#111" >36%</text>
<line x1="454" y1="162.6" x2="454" y2="121.4" stroke="#111" stroke-width="1.4" />
<path d="M451.5,122.9 L454,117.4 L456.5,122.9 Z" fill="#111"/>
<line x1="454" y1="162.6" x2="497" y2="162.6" stroke="#111" stroke-width="1.4" />
<path d="M495.5,160.1 L501,162.6 L495.5,165.1 Z" fill="#111"/>
<text x="452.4" y="140.7" font-size="7.5" text-anchor="middle" fill="#222" stroke="#222" transform="rotate(-90 452.4 140.7)">Sca-1</text>
<text x="478.5" y="173.3" font-size="7.7" text-anchor="middle" font-weight="normal" fill="#222" stroke="#222" >c-kit</text>
<text x="-0.3" y="285.2" font-size="11.5" text-anchor="start" font-weight="bold" fill="#1e1e1e" stroke="#1e1e1e" >E</text>
<rect x="16.7" y="300.6" width="10" height="8.4" fill="#c0c0c0" stroke="#3a3a3a" stroke-width="1.2" />
<rect x="16.7" y="312.7" width="10" height="8.6" fill="#fff" stroke="#3a3a3a" stroke-width="1.2" />
<text x="31.6" y="308.1" font-size="7.4" text-anchor="start" font-weight="normal" fill="#1e1e1e" stroke="#1e1e1e" >Sur</text>
<text x="44.9" y="305" font-size="4.6" text-anchor="start" font-weight="normal" fill="#1e1e1e" stroke="#1e1e1e" >fx/fx</text>
<text x="55.3" y="308.1" font-size="7.2" text-anchor="start" font-weight="normal" fill="#1e1e1e" stroke="#1e1e1e" >ITD Flt3</text>
<text x="31.6" y="318.5" font-size="7.4" text-anchor="start" font-weight="normal" fill="#1e1e1e" stroke="#1e1e1e" >Cre-ER</text>
<text x="56.4" y="315.6" font-size="5.2" text-anchor="start" font-weight="normal" fill="#1e1e1e" stroke="#1e1e1e" >TM</text>
<text x="65.2" y="318.5" font-size="7.4" text-anchor="start" font-weight="normal" fill="#1e1e1e" stroke="#1e1e1e" >Sur</text>
<text x="79" y="315.4" font-size="4.6" text-anchor="start" font-weight="normal" fill="#1e1e1e" stroke="#1e1e1e" >fx/fx</text>
<text x="88.8" y="318.5" font-size="7.2" text-anchor="start" font-weight="normal" fill="#1e1e1e" stroke="#1e1e1e" >ITD Flt3</text>
<line x1="8.5" y1="318" x2="8.5" y2="432.3" stroke="#555" stroke-width="0.9" />
<path d="M8.5,432.5 L9.2,429 L10.7,417.6 L12.8,403.4 L14.9,389.2 L17,378.4 L19.5,360.1 L21.9,346.2 L24.3,338.2 L25.5,337 L27.4,342.5 L28.8,339.5 L30.4,340.7 L32.2,348 L34.1,355.3 L36.5,365 L38.9,372.3 L40.1,377.2 L41.2,383.5 L42.6,389.2 L43.6,391.3 L46.9,392 L47.1,392.7 L51.1,396.3 L52.8,395.6 L55.4,400.6 L58.5,408.4 L62,415.5 L65,418.3 L68.4,420.4 L72,421.5 L75.5,422.6 L79,425 L82.6,426.1 L86,426.5 L89.7,427.5 L93,428.5 L96.1,429.7 L100.4,432.5 Z" fill="#bdbdbd" stroke="#3a3a3a" stroke-width="0.8"/>
<path d="M9.9,429 L12,424 L14.2,419 L17,416.2 L19,410 L21.3,404.8 L24.1,400.6 L27,392 L28.5,385 L29.8,378.4 L31.5,370 L33,360 L34.8,353 L36.5,348 L37.7,343 L38.9,342.5 L40.1,346.2 L41.2,338 L42,331.6 L43.2,339.5 L45,345.5 L46.8,343.7 L48.7,348 L49.9,354 L52.3,344.3 L53.5,349.2 L56,359 L57.8,368.7 L59.6,372.3 L61,378 L62.7,382.8 L64.9,387.8 L66.5,386 L68.4,388.5 L70.5,390 L72.7,391.3 L75,388 L76.9,384.2 L79,391 L81.2,397 L83.3,400 L85.5,404.1 L87.5,409 L89.7,414 L92,418 L94,421.1 L96,425 L98.2,429.7 L101.1,432.5" fill="none" stroke="#333" stroke-width="0.9"/>
<line x1="8.5" y1="432.5" x2="101" y2="432.5" stroke="#3a3a3a" stroke-width="1.6" />
<line x1="101" y1="432.3" x2="127" y2="432.3" stroke="#777" stroke-width="0.9" />
<line x1="8.5" y1="432.3" x2="8.5" y2="434" stroke="#555" stroke-width="0.6" />
<line x1="38" y1="432.3" x2="38" y2="434" stroke="#555" stroke-width="0.6" />
<line x1="67.5" y1="432.3" x2="67.5" y2="434" stroke="#555" stroke-width="0.6" />
<line x1="97" y1="432.3" x2="97" y2="434" stroke="#555" stroke-width="0.6" />
<line x1="126.5" y1="432.3" x2="126.5" y2="434" stroke="#555" stroke-width="0.6" />
<text x="9.5" y="438.6" font-size="4.3" text-anchor="middle" font-weight="normal" fill="#444" stroke="#444" >10<tspan font-size="2.8" baseline-shift="1.6">0</tspan></text>
<text x="39.5" y="438.6" font-size="4.3" text-anchor="middle" font-weight="normal" fill="#444" stroke="#444" >10<tspan font-size="2.8" baseline-shift="1.6">1</tspan></text>
<text x="69" y="438.6" font-size="4.3" text-anchor="middle" font-weight="normal" fill="#444" stroke="#444" >10<tspan font-size="2.8" baseline-shift="1.6">2</tspan></text>
<text x="97.8" y="438.6" font-size="4.3" text-anchor="middle" font-weight="normal" fill="#444" stroke="#444" >10<tspan font-size="2.8" baseline-shift="1.6">3</tspan></text>
<text x="126" y="438.6" font-size="4.3" text-anchor="middle" font-weight="normal" fill="#444" stroke="#444" >10<tspan font-size="2.8" baseline-shift="1.6">4</tspan></text>
<text x="66.7" y="445.8" font-size="3.9" text-anchor="middle" font-weight="normal" fill="#444" stroke="#444" >FL2-H</text>
<text x="37.7" y="457.7" font-size="7.9" text-anchor="start" font-weight="normal" fill="#1e1e1e" stroke="#1e1e1e" >Annexin V</text>
<text x="7" y="318.8" font-size="3.8" text-anchor="end" font-weight="normal" fill="#444" stroke="#444" >64</text>
<text x="6.2" y="378.5" font-size="4.2" text-anchor="middle" fill="#444" stroke="#444" transform="rotate(-90 6.2 378.5)">Events</text>
<text x="6.5" y="434" font-size="3.8" text-anchor="end" font-weight="normal" fill="#444" stroke="#444" >0</text>
<line x1="167.5" y1="320.5" x2="167.5" y2="422.2" stroke="#2a2a2a" stroke-width="1" />
<line x1="165.5" y1="323.1" x2="167.5" y2="323.1" stroke="#2a2a2a" stroke-width="1" />
<text x="161.5" y="325.70000000000005" font-size="7" text-anchor="end" font-weight="normal" fill="#333" stroke="#333" >25</text>
<line x1="165.5" y1="362" x2="167.5" y2="362" stroke="#2a2a2a" stroke-width="1" />
<text x="161.5" y="364.6" font-size="7" text-anchor="end" font-weight="normal" fill="#333" stroke="#333" >15</text>
<line x1="165.5" y1="402.2" x2="167.5" y2="402.2" stroke="#2a2a2a" stroke-width="1" />
<text x="161.5" y="404.8" font-size="7" text-anchor="end" font-weight="normal" fill="#333" stroke="#333" >5</text>
<line x1="165.5" y1="341.4" x2="167.5" y2="341.4" stroke="#2a2a2a" stroke-width="1" />
<line x1="165.5" y1="382.2" x2="167.5" y2="382.2" stroke="#2a2a2a" stroke-width="1" />
<line x1="167.5" y1="422.2" x2="215.9" y2="422.2" stroke="#2a2a2a" stroke-width="1" />
<line x1="186.525" y1="389" x2="186.525" y2="394.3" stroke="#2a2a2a" stroke-width="0.9" />
<rect x="181.25" y="394.3" width="10.550000000000011" height="27.899999999999977" fill="#c4c4c4" stroke="#2a2a2a" stroke-width="0.9" />
<line x1="204.95" y1="325" x2="204.95" y2="336.4" stroke="#2a2a2a" stroke-width="0.9" />
<rect x="199.7" y="336.4" width="10.5" height="85.80000000000001" fill="#fff" stroke="#2a2a2a" stroke-width="0.9" />
<circle cx="204.9" cy="320" r="1.3" fill="#1e1e1e"/>
<text font-size="7.8" fill="#1e1e1e" stroke="#1e1e1e" transform="translate(138.8 368.7) rotate(-90)" text-anchor="middle">MFI KL cell</text>
<text font-size="7.8" fill="#1e1e1e" stroke="#1e1e1e" transform="translate(147.2 368.7) rotate(-90)" text-anchor="middle">Annexin V</text>
<text x="230.5" y="285.2" font-size="11.5" text-anchor="start" font-weight="bold" fill="#1e1e1e" stroke="#1e1e1e" >F</text>
<line x1="278.2" y1="297.1" x2="278.2" y2="459.5" stroke="#333" stroke-width="1.2" />
<line x1="275.1" y1="297.3" x2="278.2" y2="297.3" stroke="#2a2a2a" stroke-width="0.9" />
<text x="271.2" y="299.6" font-size="6.5" text-anchor="end" font-weight="normal" fill="#2a2a2a" stroke="#2a2a2a" >30</text>
<line x1="275.1" y1="324.5" x2="278.2" y2="324.5" stroke="#2a2a2a" stroke-width="0.9" />
<text x="271.2" y="326.8" font-size="6.5" text-anchor="end" font-weight="normal" fill="#2a2a2a" stroke="#2a2a2a" >25</text>
<line x1="275.1" y1="351.6" x2="278.2" y2="351.6" stroke="#2a2a2a" stroke-width="0.9" />
<text x="271.2" y="353.90000000000003" font-size="6.5" text-anchor="end" font-weight="normal" fill="#2a2a2a" stroke="#2a2a2a" >20</text>
<line x1="275.1" y1="378.7" x2="278.2" y2="378.7" stroke="#2a2a2a" stroke-width="0.9" />
<text x="271.2" y="381.0" font-size="6.5" text-anchor="end" font-weight="normal" fill="#2a2a2a" stroke="#2a2a2a" >15</text>
<line x1="275.1" y1="405.8" x2="278.2" y2="405.8" stroke="#2a2a2a" stroke-width="0.9" />
<text x="271.2" y="408.1" font-size="6.5" text-anchor="end" font-weight="normal" fill="#2a2a2a" stroke="#2a2a2a" >10</text>
<line x1="275.1" y1="432.9" x2="278.2" y2="432.9" stroke="#2a2a2a" stroke-width="0.9" />
<text x="271.2" y="435.2" font-size="6.5" text-anchor="end" font-weight="normal" fill="#2a2a2a" stroke="#2a2a2a" >5</text>
<line x1="278.2" y1="459.5" x2="367.5" y2="459.5" stroke="#333" stroke-width="1.2" />
<defs><pattern id="hatch" width="2.6" height="2.6" patternUnits="userSpaceOnUse" patternTransform="rotate(45)"><rect width="2.6" height="2.6" fill="#e4e4e4"/><line x1="0" y1="0" x2="0" y2="2.6" stroke="#6e6e6e" stroke-width="0.9"/><line x1="0" y1="0" x2="2.6" y2="0" stroke="#8a8a8a" stroke-width="0.7"/></pattern></defs>
<line x1="290.6" y1="439.2" x2="290.6" y2="440.2" stroke="#2a2a2a" stroke-width="0.9" />
<rect x="285.7" y="440.2" width="9.800000000000011" height="19.30000000000001" fill="#111" stroke="#2a2a2a" stroke-width="0.9" />
<line x1="305.95" y1="440.9" x2="305.95" y2="444.4" stroke="#2a2a2a" stroke-width="0.9" />
<line x1="304.45" y1="440.9" x2="307.45" y2="440.9" stroke="#2a2a2a" stroke-width="0.9" />
<rect x="300.9" y="444.4" width="10.100000000000023" height="15.100000000000023" fill="#c6c6c6" stroke="#2a2a2a" stroke-width="0.9" />
<line x1="336.1" y1="423.4" x2="336.1" y2="431.2" stroke="#2a2a2a" stroke-width="0.9" />
<line x1="334.6" y1="423.4" x2="337.6" y2="423.4" stroke="#2a2a2a" stroke-width="0.9" />
<rect x="331.1" y="431.2" width="10.0" height="28.30000000000001" fill="#fff" stroke="#2a2a2a" stroke-width="0.9" />
<line x1="353.1" y1="330.2" x2="353.1" y2="355.4" stroke="#2a2a2a" stroke-width="0.9" />
<line x1="351.90000000000003" y1="330.2" x2="354.3" y2="330.2" stroke="#2a2a2a" stroke-width="0.9" />
<rect x="348.2" y="355.4" width="9.800000000000011" height="104.10000000000002" fill="url(#hatch)" stroke="#2a2a2a" stroke-width="0.9" />
<circle cx="352.5" cy="319.5" r="1.3" fill="#1e1e1e"/>
<text x="258.2" y="368" font-size="7.8" text-anchor="middle" fill="#1e1e1e" stroke="#1e1e1e" transform="rotate(-90 258.2 368)">% sub G1 content in KL cells</text>
<text x="231.5" y="468" font-size="7.95" text-anchor="start" font-weight="normal" fill="#1e1e1e" stroke="#1e1e1e" >Tamoxifen</text>
<text x="289.2" y="467.6" font-size="7.8" text-anchor="middle" font-weight="normal" fill="#1e1e1e" stroke="#1e1e1e" >-</text>
<text x="307.8" y="467.6" font-size="7.8" text-anchor="middle" font-weight="normal" fill="#1e1e1e" stroke="#1e1e1e" >+</text>
<text x="337.5" y="467.6" font-size="7.8" text-anchor="middle" font-weight="normal" fill="#1e1e1e" stroke="#1e1e1e" >-</text>
<text x="353.2" y="467.6" font-size="7.8" text-anchor="middle" font-weight="normal" fill="#1e1e1e" stroke="#1e1e1e" >+</text>
<line x1="286" y1="469.8" x2="313.6" y2="469.8" stroke="#2a2a2a" stroke-width="1.1" />
<line x1="332" y1="469.8" x2="360" y2="469.8" stroke="#2a2a2a" stroke-width="1.1" />
<text x="282.5" y="482.6" font-size="7.9" text-anchor="start" font-weight="normal" fill="#1e1e1e" stroke="#1e1e1e" >Control</text>
<text x="282.5" y="491.7" font-size="7.9" text-anchor="start" font-weight="normal" fill="#1e1e1e" stroke="#1e1e1e" >Sur</text>
<text x="297.2" y="490.3" font-size="5.3" text-anchor="start" font-weight="normal" fill="#1e1e1e" stroke="#1e1e1e" >fx/fx</text>
<text x="331" y="482.6" font-size="7.9" text-anchor="start" font-weight="normal" fill="#1e1e1e" stroke="#1e1e1e" >Cre-ER</text>
<text x="357.6" y="480.8" font-size="5.6" text-anchor="start" font-weight="normal" fill="#1e1e1e" stroke="#1e1e1e" >TM</text>
<text x="331.3" y="491.7" font-size="7.9" text-anchor="start" font-weight="normal" fill="#1e1e1e" stroke="#1e1e1e" >Sur</text>
<text x="345.7" y="490.3" font-size="5.3" text-anchor="start" font-weight="normal" fill="#1e1e1e" stroke="#1e1e1e" >fx/fx</text>
<text x="381.4" y="286.2" font-size="11.5" text-anchor="start" font-weight="bold" fill="#1e1e1e" stroke="#1e1e1e" >G</text>
<line x1="407.4" y1="299.1" x2="407.4" y2="461" stroke="#333" stroke-width="1.2" />
<line x1="404.7" y1="302.4" x2="407.4" y2="302.4" stroke="#2a2a2a" stroke-width="0.9" />
<text x="402" y="304.7" font-size="6.5" text-anchor="end" font-weight="normal" fill="#2a2a2a" stroke="#2a2a2a" >100</text>
<line x1="404.7" y1="334.2" x2="407.4" y2="334.2" stroke="#2a2a2a" stroke-width="0.9" />
<text x="402" y="336.5" font-size="6.5" text-anchor="end" font-weight="normal" fill="#2a2a2a" stroke="#2a2a2a" >80</text>
<line x1="404.7" y1="366.2" x2="407.4" y2="366.2" stroke="#2a2a2a" stroke-width="0.9" />
<text x="402" y="368.5" font-size="6.5" text-anchor="end" font-weight="normal" fill="#2a2a2a" stroke="#2a2a2a" >60</text>
<line x1="404.7" y1="398.1" x2="407.4" y2="398.1" stroke="#2a2a2a" stroke-width="0.9" />
<text x="402" y="400.40000000000003" font-size="6.5" text-anchor="end" font-weight="normal" fill="#2a2a2a" stroke="#2a2a2a" >40</text>
<line x1="404.7" y1="430.1" x2="407.4" y2="430.1" stroke="#2a2a2a" stroke-width="0.9" />
<text x="402" y="432.40000000000003" font-size="6.5" text-anchor="end" font-weight="normal" fill="#2a2a2a" stroke="#2a2a2a" >20</text>
<line x1="407.4" y1="460.7" x2="498.4" y2="460.7" stroke="#333" stroke-width="1.3" />
<line x1="419.65" y1="301.2" x2="419.65" y2="303" stroke="#444" stroke-width="0.9" />
<line x1="418.15" y1="301.2" x2="421.15" y2="301.2" stroke="#444" stroke-width="0.9" />
<rect x="414.5" y="303" width="10.300000000000011" height="157.7" fill="#fff" stroke="#9a9a9a" stroke-width="1" />
<line x1="430.85" y1="430.4" x2="430.85" y2="432" stroke="#444" stroke-width="0.9" />
<line x1="429.35" y1="430.4" x2="432.35" y2="430.4" stroke="#444" stroke-width="0.9" />
<rect x="425.8" y="432" width="10.099999999999966" height="28.69999999999999" fill="#c4c4c4" stroke="#555" stroke-width="1" />
<line x1="442.8" y1="456.4" x2="442.8" y2="457.3" stroke="#444" stroke-width="0.9" />
<line x1="441.3" y1="456.4" x2="444.3" y2="456.4" stroke="#444" stroke-width="0.9" />
<rect x="438" y="457.3" width="9.600000000000023" height="3.3999999999999773" fill="#111" stroke="#111" stroke-width="1" />
<line x1="464.15" y1="414" x2="464.15" y2="415.2" stroke="#444" stroke-width="0.9" />
<line x1="462.65" y1="414" x2="465.65" y2="414" stroke="#444" stroke-width="0.9" />
<rect x="459.4" y="415.2" width="9.5" height="45.5" fill="#fff" stroke="#777" stroke-width="1" />
<line x1="475.0" y1="443" x2="475.0" y2="444" stroke="#444" stroke-width="0.9" />
<line x1="473.5" y1="443" x2="476.5" y2="443" stroke="#444" stroke-width="0.9" />
<rect x="470.4" y="444" width="9.200000000000045" height="16.69999999999999" fill="#c4c4c4" stroke="#555" stroke-width="1" />
<rect x="481.9" y="459.4" width="9.800000000000011" height="1.3000000000000114" fill="#111" stroke="#111" stroke-width="1" />
<circle cx="464.3" cy="403.8" r="1.3" fill="#1e1e1e"/>
<circle cx="475.3" cy="432.5" r="1.3" fill="#1e1e1e"/>
<circle cx="486.8" cy="452.1" r="1.3" fill="#1e1e1e"/>
<line x1="408.8" y1="465.2" x2="451.2" y2="465.2" stroke="#2a2a2a" stroke-width="1.1" />
<line x1="457.9" y1="465.2" x2="500.2" y2="465.2" stroke="#2a2a2a" stroke-width="1.1" />
<text x="419.4" y="475" font-size="7.9" text-anchor="start" font-weight="normal" fill="#1e1e1e" stroke="#1e1e1e" >Sur</text>
<text x="431.9" y="471.6" font-size="5.3" text-anchor="start" font-weight="normal" fill="#1e1e1e" stroke="#1e1e1e" >fx/fx</text>
<text x="458.8" y="475.4" font-size="7.9" text-anchor="start" font-weight="normal" fill="#1e1e1e" stroke="#1e1e1e" >Cre-ER</text>
<text x="485.3" y="473" font-size="5.6" text-anchor="start" font-weight="normal" fill="#1e1e1e" stroke="#1e1e1e" >TM</text>
<text x="458.8" y="485.4" font-size="7.9" text-anchor="start" font-weight="normal" fill="#1e1e1e" stroke="#1e1e1e" >Sur</text>
<text x="473.3" y="482" font-size="5.3" text-anchor="start" font-weight="normal" fill="#1e1e1e" stroke="#1e1e1e" >fx/fx</text>
<rect x="443.4" y="303.4" width="60.5" height="45.1" fill="#fff" stroke="#333" stroke-width="1.3" />
<text x="450.1" y="314.5" font-size="7.9" text-anchor="start" font-weight="normal" fill="#1e1e1e" stroke="#1e1e1e" >SU5416 (uM)</text>
<rect x="456.4" y="318.8" width="12.1" height="4.300000000000011" fill="#fff" stroke="#333" stroke-width="1.1" />
<rect x="456.4" y="327.6" width="12.1" height="4.699999999999989" fill="#c4c4c4" stroke="#333" stroke-width="1.1" />
<rect x="456.4" y="337.7" width="12.1" height="5.100000000000023" fill="#111" stroke="#333" stroke-width="1.1" />
<text x="471.6" y="323.6" font-size="7.8" text-anchor="start" font-weight="normal" fill="#1e1e1e" stroke="#1e1e1e" >0</text>
<text x="471.6" y="333" font-size="7.8" text-anchor="start" font-weight="normal" fill="#1e1e1e" stroke="#1e1e1e" >0.5</text>
<text x="471.6" y="342.8" font-size="7.8" text-anchor="start" font-weight="normal" fill="#1e1e1e" stroke="#1e1e1e" >1</text>
<text x="471.9" y="372.8" font-size="7.8" text-anchor="start" font-weight="normal" fill="#1e1e1e" stroke="#1e1e1e" >* P&lt;0.05</text>
<text x="388.3" y="372.4" font-size="8.0" text-anchor="middle" fill="#1e1e1e" stroke="#1e1e1e" transform="rotate(-90 388.3 372.4)">c-kit<tspan font-size="5" baseline-shift="3">+</tspan> , Sca-1<tspan font-size="5" baseline-shift="3">+</tspan>  Lin<tspan font-size="5" baseline-shift="3">-</tspan> cells/mL x 1000</text>
</svg></body></html>
